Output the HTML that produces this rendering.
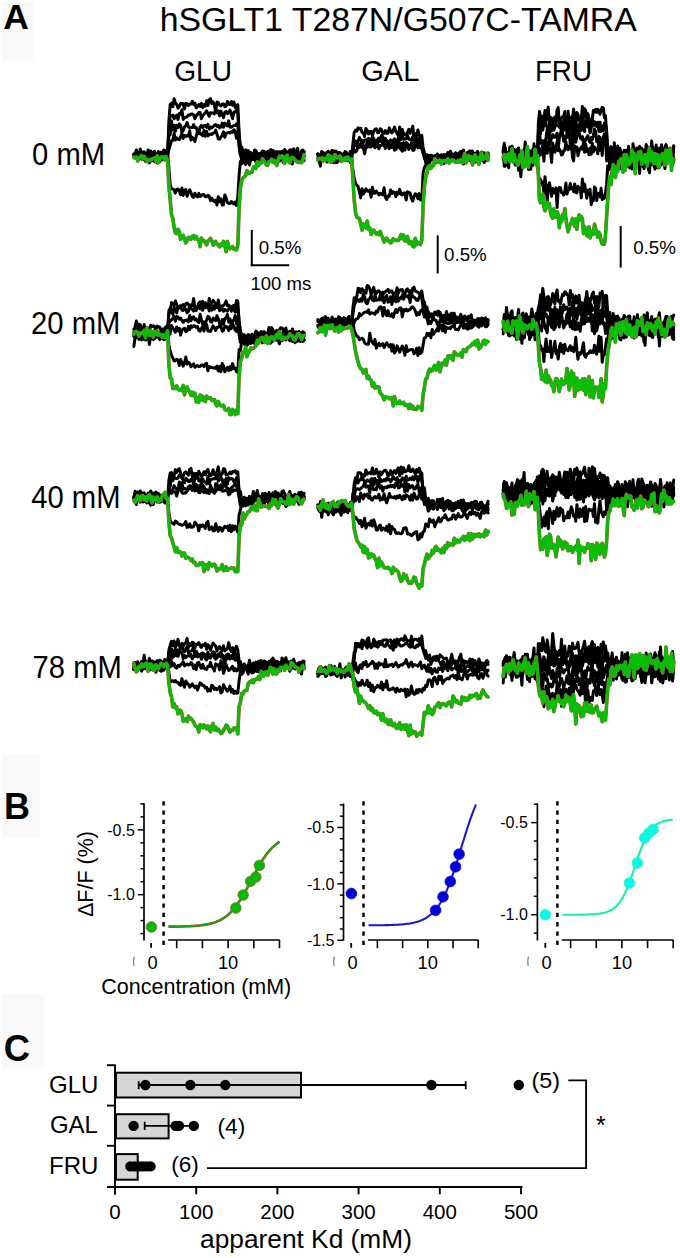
<!DOCTYPE html>
<html><head><meta charset="utf-8"><style>
html,body{margin:0;padding:0;background:#fff;}
svg{display:block;}
text{font-family:"Liberation Sans", sans-serif;fill:#000;}
</style></head><body>
<svg width="680" height="1258" viewBox="0 0 680 1258">
<rect x="2" y="1.8" width="31.5" height="58" fill="#f9f9f9"/>
<rect x="1.8" y="755" width="38" height="82" fill="#f9f9f9"/>
<rect x="1.8" y="994" width="42" height="74.8" fill="#f9f9f9"/>
<text x="3.20" y="28.80" font-size="35.4" font-weight="bold">A</text>
<text x="3.90" y="818.80" font-size="36" font-weight="bold">B</text>
<text x="3.85" y="1061.40" font-size="36.3" font-weight="bold">C</text>
<text x="159.70" y="30.60" font-size="33.8">hSGLT1 T287N/G507C-TAMRA</text>
<text transform="translate(174.20,81.00) scale(0.97,1)" font-size="29">GLU</text>
<text x="361.25" y="80.90" font-size="29">GAL</text>
<text transform="translate(534.90,81.00) scale(0.958,1)" font-size="29">FRU</text>
<text transform="translate(32.10,164.90) scale(1,1.05)" font-size="29.2">0 mM</text>
<text transform="translate(31.10,334.00) scale(1,1.05)" font-size="29.2">20 mM</text>
<text transform="translate(31.30,508.30) scale(1,1.05)" font-size="29.2">40 mM</text>
<text transform="translate(32.60,677.90) scale(1,1.05)" font-size="29.2">78 mM</text>
<line x1="251.80" y1="229.90" x2="251.80" y2="266.20" stroke="#000" stroke-width="2"/>
<line x1="250.80" y1="265.30" x2="289.20" y2="265.30" stroke="#000" stroke-width="2"/>
<text transform="translate(258.70,253.80) scale(1.04,1)" font-size="18">0.5%</text>
<text transform="translate(250.40,290.00) scale(1.03,1)" font-size="18">100 ms</text>
<line x1="437.70" y1="235.40" x2="437.70" y2="273.50" stroke="#000" stroke-width="2"/>
<text transform="translate(444.10,261.20) scale(1.04,1)" font-size="18">0.5%</text>
<line x1="620.70" y1="226.00" x2="620.70" y2="267.60" stroke="#000" stroke-width="2"/>
<text transform="translate(633.20,253.60) scale(1.04,1)" font-size="18">0.5%</text>
<g><polyline points="133.8,153.9 135.1,153.7 136.4,150.0 137.7,153.8 139.0,157.5 140.3,149.0 141.6,156.0 142.9,153.9 144.2,151.7 145.5,159.4 146.8,155.8 148.1,150.0 149.4,153.8 150.7,155.2 152.0,153.0 153.3,155.5 154.6,153.3 155.9,155.5 157.2,157.7 158.5,151.6 159.8,154.1 161.1,152.2 162.4,153.9 163.7,150.1 165.0,151.8 166.3,153.0 167.6,156.2 168.9,121.2 170.2,104.3 171.5,103.2 172.8,106.7 174.1,98.8 175.4,103.2 176.7,104.3 178.0,108.2 179.3,106.5 180.6,103.6 181.9,103.5 183.2,103.8 184.5,109.0 185.8,103.3 187.1,103.6 188.4,105.6 189.7,104.2 191.0,104.0 192.3,101.3 193.6,104.5 194.9,103.2 196.2,107.9 197.5,106.4 198.8,104.5 200.1,106.5 201.4,103.5 202.7,107.6 204.0,104.5 205.3,106.2 206.6,100.8 207.9,105.5 209.2,99.6 210.5,98.6 211.8,103.6 213.1,101.9 214.4,105.0 215.7,111.1 217.0,102.1 218.3,102.7 219.6,105.1 220.9,106.0 222.2,104.0 223.5,103.9 224.8,106.6 226.1,106.1 227.4,101.5 228.7,104.3 230.0,104.6 231.3,101.5 232.6,105.3 233.9,102.0 235.2,107.4 236.5,105.1 237.8,104.8 239.1,132.8 240.4,147.1 241.7,147.0 243.0,151.7 244.3,156.8 245.6,149.7 246.9,158.3 248.2,150.5 249.5,157.6 250.8,152.6 252.1,157.1 253.4,155.0 254.7,150.0 256.0,158.0 257.3,158.4 258.6,153.9 259.9,153.2 261.2,153.4 262.5,151.0 263.8,157.0 265.1,152.1 266.4,153.5 267.7,151.3 269.0,151.8 270.3,149.9 271.6,157.3 272.9,153.1 274.2,156.4 275.5,153.6 276.8,151.5 278.1,152.6 279.4,151.9 280.7,153.6 282.0,152.4 283.3,152.7 284.6,149.5 285.9,151.2 287.2,158.4 288.5,151.6 289.8,150.5 291.1,154.5 292.4,157.6 293.7,149.3 295.0,152.9 296.3,151.7 297.6,148.4 298.9,155.7 300.2,153.5 301.5,153.7 302.8,151.3 304.1,154.9" fill="none" stroke="#000" stroke-width="3.0" stroke-linejoin="round" stroke-linecap="round"/>
<polyline points="133.8,157.7 135.1,154.3 136.4,154.9 137.7,160.8 139.0,158.1 140.3,157.7 141.6,157.5 142.9,157.7 144.2,159.9 145.5,159.2 146.8,158.2 148.1,154.6 149.4,159.1 150.7,155.7 152.0,160.7 153.3,154.0 154.6,157.2 155.9,157.6 157.2,153.8 158.5,162.5 159.8,161.8 161.1,156.3 162.4,159.8 163.7,158.7 165.0,150.2 166.3,158.3 167.6,157.4 168.9,127.3 170.2,115.6 171.5,115.5 172.8,115.1 174.1,118.8 175.4,116.2 176.7,115.2 178.0,119.5 179.3,113.5 180.6,113.9 181.9,109.8 183.2,119.4 184.5,117.6 185.8,117.4 187.1,116.7 188.4,115.0 189.7,115.3 191.0,113.9 192.3,114.0 193.6,114.7 194.9,118.7 196.2,116.0 197.5,114.2 198.8,112.6 200.1,112.4 201.4,118.7 202.7,115.6 204.0,114.2 205.3,113.0 206.6,110.8 207.9,113.7 209.2,116.3 210.5,112.7 211.8,113.1 213.1,113.0 214.4,113.9 215.7,109.0 217.0,112.8 218.3,111.0 219.6,115.9 220.9,111.1 222.2,114.9 223.5,117.6 224.8,112.3 226.1,111.4 227.4,113.6 228.7,113.0 230.0,110.1 231.3,114.2 232.6,118.6 233.9,112.0 235.2,112.1 236.5,109.7 237.8,113.5 239.1,136.8 240.4,149.0 241.7,160.8 243.0,156.6 244.3,163.0 245.6,164.4 246.9,160.6 248.2,161.3 249.5,165.0 250.8,158.6 252.1,157.3 253.4,154.9 254.7,158.7 256.0,162.6 257.3,161.0 258.6,155.5 259.9,155.6 261.2,156.5 262.5,158.7 263.8,157.3 265.1,158.4 266.4,158.6 267.7,156.9 269.0,157.6 270.3,158.3 271.6,157.4 272.9,159.1 274.2,163.0 275.5,159.3 276.8,157.8 278.1,152.8 279.4,158.7 280.7,152.1 282.0,153.6 283.3,160.0 284.6,159.6 285.9,157.2 287.2,152.7 288.5,156.6 289.8,155.7 291.1,159.4 292.4,164.0 293.7,158.2 295.0,155.4 296.3,154.3 297.6,157.4 298.9,157.1 300.2,154.3 301.5,157.9 302.8,154.3 304.1,160.8" fill="none" stroke="#000" stroke-width="3.0" stroke-linejoin="round" stroke-linecap="round"/>
<polyline points="133.8,154.4 135.1,155.4 136.4,154.3 137.7,158.7 139.0,155.3 140.3,155.5 141.6,159.2 142.9,155.4 144.2,158.8 145.5,154.8 146.8,154.1 148.1,152.3 149.4,162.9 150.7,156.6 152.0,158.3 153.3,157.5 154.6,158.0 155.9,157.7 157.2,163.0 158.5,154.6 159.8,153.1 161.1,154.7 162.4,153.7 163.7,159.7 165.0,159.9 166.3,154.8 167.6,153.6 168.9,135.4 170.2,134.6 171.5,121.0 172.8,130.1 174.1,125.3 175.4,131.3 176.7,125.2 178.0,127.5 179.3,123.9 180.6,125.4 181.9,132.1 183.2,130.5 184.5,126.9 185.8,125.6 187.1,122.6 188.4,126.8 189.7,127.8 191.0,127.7 192.3,127.6 193.6,124.6 194.9,127.6 196.2,127.6 197.5,131.4 198.8,133.0 200.1,127.2 201.4,125.4 202.7,127.4 204.0,125.8 205.3,125.4 206.6,127.3 207.9,124.4 209.2,129.1 210.5,127.0 211.8,128.0 213.1,126.7 214.4,125.1 215.7,124.5 217.0,126.5 218.3,125.5 219.6,127.8 220.9,127.0 222.2,123.1 223.5,127.2 224.8,123.1 226.1,125.1 227.4,126.0 228.7,120.9 230.0,127.1 231.3,127.2 232.6,126.3 233.9,125.5 235.2,125.6 236.5,123.8 237.8,125.8 239.1,144.6 240.4,154.9 241.7,154.7 243.0,160.3 244.3,160.5 245.6,159.7 246.9,158.6 248.2,161.2 249.5,154.6 250.8,160.5 252.1,159.6 253.4,159.5 254.7,159.6 256.0,156.5 257.3,157.5 258.6,159.9 259.9,159.2 261.2,158.5 262.5,153.5 263.8,159.3 265.1,161.1 266.4,160.6 267.7,158.4 269.0,153.2 270.3,160.4 271.6,157.2 272.9,150.4 274.2,158.7 275.5,153.3 276.8,153.9 278.1,155.8 279.4,161.2 280.7,156.5 282.0,158.4 283.3,162.6 284.6,162.1 285.9,157.3 287.2,156.9 288.5,154.0 289.8,155.6 291.1,158.8 292.4,158.7 293.7,157.9 295.0,160.4 296.3,155.4 297.6,157.4 298.9,159.7 300.2,159.2 301.5,160.6 302.8,158.7 304.1,156.7" fill="none" stroke="#000" stroke-width="3.0" stroke-linejoin="round" stroke-linecap="round"/>
<polyline points="133.8,155.7 135.1,156.7 136.4,154.3 137.7,156.4 139.0,152.8 140.3,154.2 141.6,152.5 142.9,158.1 144.2,155.1 145.5,153.2 146.8,154.2 148.1,154.6 149.4,156.9 150.7,151.0 152.0,152.4 153.3,154.2 154.6,161.7 155.9,157.6 157.2,154.8 158.5,157.0 159.8,160.5 161.1,154.5 162.4,154.2 163.7,158.3 165.0,156.4 166.3,156.9 167.6,153.8 168.9,149.5 170.2,145.2 171.5,140.8 172.8,140.6 174.1,133.3 175.4,140.0 176.7,137.7 178.0,139.2 179.3,139.7 180.6,137.0 181.9,133.3 183.2,138.5 184.5,135.5 185.8,136.5 187.1,135.6 188.4,136.2 189.7,130.9 191.0,140.0 192.3,137.3 193.6,139.4 194.9,141.5 196.2,136.3 197.5,131.5 198.8,133.7 200.1,132.8 201.4,134.5 202.7,135.8 204.0,130.3 205.3,136.3 206.6,131.3 207.9,135.9 209.2,134.7 210.5,134.0 211.8,134.5 213.1,133.2 214.4,132.9 215.7,130.0 217.0,134.1 218.3,138.9 219.6,139.1 220.9,137.2 222.2,135.5 223.5,131.8 224.8,137.2 226.1,133.2 227.4,133.0 228.7,132.3 230.0,133.1 231.3,131.7 232.6,132.4 233.9,129.7 235.2,131.4 236.5,138.2 237.8,132.0 239.1,146.5 240.4,155.0 241.7,158.2 243.0,154.5 244.3,157.2 245.6,160.1 246.9,158.2 248.2,157.5 249.5,161.0 250.8,154.9 252.1,156.7 253.4,154.9 254.7,159.9 256.0,150.8 257.3,154.0 258.6,154.3 259.9,157.3 261.2,157.1 262.5,159.0 263.8,151.3 265.1,157.3 266.4,154.5 267.7,153.5 269.0,156.6 270.3,152.8 271.6,149.8 272.9,154.2 274.2,151.3 275.5,153.5 276.8,156.1 278.1,156.0 279.4,159.3 280.7,154.6 282.0,151.2 283.3,153.2 284.6,152.8 285.9,152.0 287.2,156.3 288.5,153.5 289.8,150.0 291.1,156.9 292.4,154.8 293.7,156.1 295.0,155.4 296.3,156.8 297.6,155.2 298.9,158.3 300.2,156.2 301.5,156.1 302.8,156.2 304.1,151.4" fill="none" stroke="#000" stroke-width="3.0" stroke-linejoin="round" stroke-linecap="round"/>
<polyline points="133.8,154.9 135.1,157.4 136.4,152.3 137.7,154.3 139.0,156.8 140.3,152.0 141.6,155.5 142.9,152.0 144.2,158.1 145.5,161.4 146.8,160.6 148.1,154.3 149.4,157.0 150.7,155.3 152.0,155.2 153.3,159.2 154.6,151.3 155.9,157.9 157.2,154.8 158.5,158.9 159.8,155.5 161.1,153.1 162.4,155.7 163.7,157.0 165.0,155.1 166.3,156.3 167.6,153.5 168.9,168.1 170.2,185.2 171.5,188.6 172.8,189.0 174.1,189.8 175.4,193.1 176.7,189.4 178.0,189.0 179.3,190.7 180.6,194.8 181.9,188.0 183.2,195.4 184.5,190.5 185.8,189.5 187.1,196.3 188.4,192.8 189.7,189.8 191.0,192.6 192.3,196.5 193.6,197.4 194.9,193.2 196.2,195.8 197.5,196.9 198.8,193.4 200.1,196.4 201.4,195.6 202.7,194.5 204.0,194.8 205.3,196.7 206.6,196.8 207.9,195.4 209.2,196.1 210.5,200.6 211.8,198.4 213.1,200.5 214.4,201.6 215.7,200.2 217.0,205.1 218.3,196.8 219.6,201.6 220.9,198.7 222.2,205.0 223.5,204.8 224.8,194.9 226.1,197.9 227.4,202.7 228.7,203.3 230.0,203.4 231.3,201.5 232.6,203.2 233.9,204.0 235.2,202.2 236.5,205.5 237.8,196.7 239.1,175.1 240.4,161.4 241.7,163.6 243.0,158.7 244.3,155.9 245.6,158.7 246.9,154.6 248.2,154.2 249.5,152.0 250.8,156.0 252.1,157.3 253.4,158.5 254.7,155.2 256.0,158.3 257.3,155.4 258.6,155.0 259.9,156.8 261.2,158.1 262.5,154.2 263.8,154.4 265.1,154.6 266.4,155.3 267.7,152.5 269.0,157.9 270.3,153.9 271.6,156.3 272.9,152.7 274.2,156.0 275.5,156.1 276.8,153.8 278.1,160.6 279.4,156.0 280.7,159.9 282.0,157.6 283.3,153.1 284.6,153.9 285.9,156.2 287.2,155.1 288.5,155.1 289.8,154.2 291.1,149.9 292.4,154.3 293.7,148.8 295.0,156.0 296.3,152.9 297.6,153.0 298.9,154.3 300.2,155.7 301.5,151.0 302.8,150.1 304.1,152.0" fill="none" stroke="#000" stroke-width="3.0" stroke-linejoin="round" stroke-linecap="round"/>
<polyline points="133.8,157.3 135.1,158.2 136.4,157.3 137.7,160.9 139.0,157.7 140.3,157.6 141.6,155.5 142.9,158.7 144.2,156.4 145.5,158.3 146.8,161.7 148.1,159.9 149.4,160.2 150.7,159.8 152.0,159.0 153.3,158.5 154.6,158.0 155.9,161.0 157.2,155.8 158.5,162.6 159.8,158.9 161.1,156.8 162.4,157.5 163.7,157.0 165.0,159.3 166.3,156.8 167.6,162.0 168.9,186.2 170.2,199.9 171.5,214.9 172.8,217.9 174.1,227.5 175.4,233.1 176.7,233.6 178.0,229.3 179.3,231.7 180.6,239.4 181.9,235.8 183.2,235.4 184.5,238.8 185.8,243.0 187.1,240.2 188.4,237.3 189.7,238.3 191.0,239.4 192.3,236.3 193.6,235.4 194.9,238.9 196.2,236.4 197.5,239.3 198.8,240.1 200.1,246.6 201.4,238.1 202.7,240.5 204.0,240.7 205.3,242.8 206.6,244.8 207.9,240.9 209.2,240.3 210.5,238.4 211.8,240.7 213.1,245.1 214.4,244.1 215.7,241.5 217.0,243.7 218.3,245.2 219.6,246.8 220.9,244.1 222.2,245.4 223.5,241.4 224.8,243.6 226.1,251.7 227.4,241.4 228.7,246.9 230.0,248.8 231.3,247.5 232.6,246.7 233.9,249.1 235.2,249.6 236.5,249.8 237.8,245.1 239.1,208.2 240.4,187.9 241.7,180.2 243.0,178.1 244.3,176.7 245.6,175.8 246.9,170.6 248.2,173.5 249.5,173.2 250.8,172.2 252.1,172.1 253.4,167.1 254.7,166.4 256.0,168.5 257.3,161.8 258.6,165.7 259.9,163.1 261.2,163.1 262.5,158.9 263.8,160.8 265.1,162.9 266.4,165.1 267.7,165.1 269.0,161.8 270.3,161.2 271.6,159.2 272.9,162.4 274.2,160.4 275.5,162.5 276.8,165.5 278.1,160.4 279.4,156.2 280.7,157.8 282.0,156.0 283.3,156.6 284.6,163.4 285.9,160.3 287.2,155.4 288.5,161.3 289.8,162.9 291.1,158.3 292.4,157.4 293.7,158.3 295.0,159.9 296.3,160.9 297.6,162.3 298.9,162.3 300.2,162.2 301.5,162.7 302.8,160.7 304.1,154.6" fill="none" stroke="#d04838" stroke-width="3.7" stroke-linejoin="round" stroke-linecap="round"/>
<polyline points="133.8,157.3 135.1,158.2 136.4,157.3 137.7,160.9 139.0,157.7 140.3,157.6 141.6,155.5 142.9,158.7 144.2,156.4 145.5,158.3 146.8,161.7 148.1,159.9 149.4,160.2 150.7,159.8 152.0,159.0 153.3,158.5 154.6,158.0 155.9,161.0 157.2,155.8 158.5,162.6 159.8,158.9 161.1,156.8 162.4,157.5 163.7,157.0 165.0,159.3 166.3,156.8 167.6,162.0 168.9,186.2 170.2,199.9 171.5,214.9 172.8,217.9 174.1,227.5 175.4,233.1 176.7,233.6 178.0,229.3 179.3,231.7 180.6,239.4 181.9,235.8 183.2,235.4 184.5,238.8 185.8,243.0 187.1,240.2 188.4,237.3 189.7,238.3 191.0,239.4 192.3,236.3 193.6,235.4 194.9,238.9 196.2,236.4 197.5,239.3 198.8,240.1 200.1,246.6 201.4,238.1 202.7,240.5 204.0,240.7 205.3,242.8 206.6,244.8 207.9,240.9 209.2,240.3 210.5,238.4 211.8,240.7 213.1,245.1 214.4,244.1 215.7,241.5 217.0,243.7 218.3,245.2 219.6,246.8 220.9,244.1 222.2,245.4 223.5,241.4 224.8,243.6 226.1,251.7 227.4,241.4 228.7,246.9 230.0,248.8 231.3,247.5 232.6,246.7 233.9,249.1 235.2,249.6 236.5,249.8 237.8,245.1 239.1,208.2 240.4,187.9 241.7,180.2 243.0,178.1 244.3,176.7 245.6,175.8 246.9,170.6 248.2,173.5 249.5,173.2 250.8,172.2 252.1,172.1 253.4,167.1 254.7,166.4 256.0,168.5 257.3,161.8 258.6,165.7 259.9,163.1 261.2,163.1 262.5,158.9 263.8,160.8 265.1,162.9 266.4,165.1 267.7,165.1 269.0,161.8 270.3,161.2 271.6,159.2 272.9,162.4 274.2,160.4 275.5,162.5 276.8,165.5 278.1,160.4 279.4,156.2 280.7,157.8 282.0,156.0 283.3,156.6 284.6,163.4 285.9,160.3 287.2,155.4 288.5,161.3 289.8,162.9 291.1,158.3 292.4,157.4 293.7,158.3 295.0,159.9 296.3,160.9 297.6,162.3 298.9,162.3 300.2,162.2 301.5,162.7 302.8,160.7 304.1,154.6" fill="none" stroke="#06be06" stroke-width="3.0" stroke-linejoin="round" stroke-linecap="round"/>
<polyline points="317.8,154.7 319.1,157.0 320.4,160.0 321.7,157.1 323.0,157.0 324.3,153.2 325.6,159.7 326.9,160.6 328.2,156.5 329.5,155.9 330.8,152.8 332.1,158.5 333.4,162.6 334.7,158.1 336.0,159.3 337.3,157.7 338.6,154.2 339.9,159.5 341.2,153.6 342.5,156.0 343.8,157.1 345.1,158.5 346.4,157.4 347.7,157.3 349.0,154.7 350.3,153.5 351.6,156.6 352.9,143.8 354.2,132.6 355.5,130.1 356.8,131.1 358.1,127.8 359.4,128.9 360.7,128.2 362.0,132.4 363.3,132.9 364.6,136.5 365.9,128.5 367.2,130.4 368.5,134.0 369.8,131.5 371.1,131.2 372.4,135.8 373.7,131.2 375.0,129.3 376.3,128.9 377.6,132.7 378.9,132.6 380.2,128.8 381.5,129.7 382.8,133.2 384.1,133.3 385.4,130.5 386.7,133.4 388.0,133.2 389.3,127.9 390.6,131.2 391.9,132.9 393.2,130.6 394.5,127.1 395.8,131.3 397.1,133.7 398.4,135.5 399.7,127.0 401.0,137.9 402.3,129.4 403.6,134.1 404.9,134.8 406.2,134.2 407.5,132.3 408.8,129.3 410.1,133.4 411.4,130.3 412.7,126.2 414.0,138.4 415.3,133.6 416.6,136.1 417.9,129.9 419.2,135.3 420.5,135.6 421.8,135.5 423.1,148.0 424.4,152.4 425.7,157.9 427.0,154.6 428.3,156.2 429.6,160.4 430.9,157.8 432.2,159.4 433.5,159.2 434.8,163.5 436.1,161.8 437.4,158.4 438.7,161.0 440.0,156.3 441.3,157.1 442.6,159.7 443.9,154.6 445.2,156.7 446.5,154.2 447.8,157.3 449.1,160.7 450.4,155.2 451.7,157.3 453.0,154.7 454.3,154.1 455.6,153.9 456.9,159.9 458.2,162.0 459.5,157.7 460.8,154.9 462.1,158.1 463.4,155.8 464.7,158.3 466.0,157.2 467.3,157.1 468.6,157.9 469.9,155.2 471.2,155.6 472.5,152.5 473.8,155.5 475.1,153.2 476.4,156.1 477.7,154.3 479.0,156.7 480.3,157.5 481.6,153.2 482.9,154.6 484.2,154.3 485.5,158.2 486.8,160.3 488.1,158.4" fill="none" stroke="#000" stroke-width="3.0" stroke-linejoin="round" stroke-linecap="round"/>
<polyline points="317.8,153.9 319.1,160.3 320.4,166.2 321.7,153.4 323.0,161.0 324.3,159.3 325.6,158.1 326.9,162.0 328.2,155.2 329.5,158.8 330.8,162.3 332.1,157.8 333.4,157.2 334.7,158.7 336.0,157.2 337.3,162.5 338.6,155.9 339.9,160.7 341.2,155.0 342.5,160.2 343.8,158.1 345.1,151.4 346.4,158.3 347.7,155.5 349.0,157.2 350.3,162.5 351.6,155.4 352.9,147.2 354.2,146.5 355.5,140.9 356.8,144.2 358.1,140.8 359.4,137.5 360.7,139.7 362.0,143.2 363.3,142.4 364.6,139.9 365.9,140.0 367.2,139.6 368.5,138.3 369.8,145.0 371.1,139.9 372.4,136.8 373.7,138.6 375.0,141.8 376.3,141.6 377.6,139.5 378.9,138.1 380.2,139.9 381.5,135.4 382.8,136.4 384.1,142.0 385.4,138.6 386.7,140.9 388.0,143.1 389.3,141.6 390.6,139.9 391.9,145.6 393.2,141.6 394.5,138.9 395.8,141.8 397.1,141.0 398.4,137.6 399.7,140.1 401.0,139.4 402.3,134.6 403.6,139.4 404.9,139.1 406.2,138.7 407.5,135.4 408.8,138.9 410.1,139.8 411.4,140.1 412.7,136.8 414.0,141.6 415.3,136.6 416.6,139.3 417.9,143.4 419.2,138.0 420.5,138.5 421.8,142.7 423.1,151.4 424.4,157.3 425.7,161.3 427.0,164.6 428.3,156.2 429.6,159.9 430.9,159.2 432.2,158.8 433.5,159.1 434.8,158.8 436.1,161.6 437.4,158.1 438.7,160.5 440.0,161.0 441.3,157.8 442.6,159.9 443.9,163.7 445.2,160.1 446.5,157.4 447.8,158.8 449.1,156.4 450.4,159.5 451.7,161.0 453.0,156.5 454.3,158.1 455.6,161.5 456.9,157.2 458.2,159.0 459.5,155.8 460.8,156.3 462.1,157.1 463.4,164.1 464.7,157.4 466.0,157.0 467.3,156.9 468.6,158.0 469.9,160.1 471.2,158.9 472.5,163.7 473.8,158.9 475.1,162.1 476.4,159.1 477.7,159.9 479.0,154.6 480.3,158.0 481.6,158.2 482.9,157.7 484.2,152.7 485.5,160.7 486.8,157.3 488.1,157.2" fill="none" stroke="#000" stroke-width="3.0" stroke-linejoin="round" stroke-linecap="round"/>
<polyline points="317.8,160.0 319.1,161.4 320.4,155.2 321.7,152.5 323.0,160.0 324.3,159.8 325.6,159.1 326.9,160.0 328.2,154.8 329.5,156.6 330.8,153.4 332.1,153.3 333.4,159.5 334.7,155.3 336.0,162.8 337.3,157.2 338.6,155.3 339.9,159.0 341.2,161.6 342.5,158.2 343.8,153.9 345.1,157.9 346.4,160.5 347.7,155.7 349.0,155.0 350.3,159.6 351.6,157.3 352.9,148.5 354.2,145.4 355.5,143.1 356.8,145.4 358.1,144.8 359.4,147.5 360.7,146.3 362.0,140.5 363.3,145.5 364.6,146.8 365.9,145.7 367.2,147.1 368.5,143.1 369.8,142.0 371.1,146.9 372.4,141.7 373.7,138.9 375.0,147.1 376.3,142.6 377.6,143.7 378.9,140.9 380.2,141.1 381.5,141.5 382.8,143.6 384.1,145.4 385.4,138.6 386.7,146.4 388.0,141.4 389.3,141.7 390.6,146.2 391.9,144.3 393.2,140.5 394.5,149.2 395.8,142.3 397.1,145.1 398.4,145.0 399.7,148.1 401.0,143.3 402.3,147.1 403.6,142.6 404.9,147.4 406.2,142.5 407.5,143.6 408.8,149.4 410.1,145.3 411.4,144.8 412.7,150.2 414.0,145.4 415.3,142.4 416.6,146.4 417.9,141.4 419.2,147.4 420.5,147.6 421.8,143.0 423.1,152.0 424.4,158.3 425.7,159.8 427.0,158.0 428.3,162.3 429.6,155.5 430.9,159.5 432.2,159.3 433.5,159.3 434.8,160.5 436.1,156.2 437.4,160.6 438.7,158.4 440.0,156.9 441.3,154.8 442.6,155.1 443.9,158.9 445.2,155.4 446.5,157.9 447.8,160.3 449.1,160.2 450.4,161.4 451.7,156.6 453.0,154.5 454.3,159.9 455.6,158.0 456.9,160.1 458.2,157.2 459.5,160.2 460.8,159.3 462.1,158.9 463.4,158.4 464.7,158.1 466.0,157.6 467.3,157.6 468.6,159.6 469.9,155.7 471.2,161.5 472.5,156.7 473.8,159.5 475.1,156.8 476.4,156.4 477.7,162.2 479.0,156.2 480.3,153.7 481.6,155.2 482.9,156.2 484.2,162.5 485.5,157.5 486.8,159.4 488.1,154.4" fill="none" stroke="#000" stroke-width="3.0" stroke-linejoin="round" stroke-linecap="round"/>
<polyline points="317.8,153.9 319.1,156.8 320.4,157.4 321.7,151.5 323.0,152.3 324.3,158.3 325.6,157.9 326.9,152.4 328.2,151.3 329.5,152.7 330.8,153.0 332.1,150.3 333.4,154.4 334.7,151.1 336.0,151.2 337.3,156.7 338.6,152.6 339.9,154.1 341.2,155.9 342.5,156.4 343.8,153.5 345.1,154.4 346.4,152.2 347.7,158.8 349.0,156.0 350.3,151.5 351.6,154.3 352.9,153.2 354.2,149.6 355.5,152.0 356.8,150.5 358.1,145.5 359.4,146.6 360.7,143.6 362.0,147.5 363.3,147.2 364.6,153.7 365.9,147.1 367.2,141.5 368.5,145.1 369.8,147.1 371.1,143.6 372.4,144.6 373.7,145.9 375.0,147.7 376.3,146.4 377.6,144.6 378.9,148.8 380.2,145.4 381.5,145.5 382.8,143.3 384.1,144.8 385.4,148.5 386.7,142.7 388.0,146.6 389.3,148.6 390.6,145.9 391.9,147.4 393.2,144.0 394.5,150.2 395.8,149.6 397.1,147.4 398.4,142.3 399.7,144.2 401.0,149.3 402.3,151.2 403.6,147.6 404.9,150.0 406.2,145.3 407.5,146.3 408.8,146.8 410.1,147.9 411.4,142.9 412.7,149.2 414.0,150.2 415.3,143.9 416.6,143.4 417.9,147.7 419.2,145.2 420.5,140.8 421.8,148.9 423.1,153.5 424.4,154.8 425.7,162.8 427.0,158.4 428.3,156.3 429.6,158.4 430.9,155.3 432.2,155.7 433.5,158.3 434.8,155.6 436.1,155.6 437.4,160.7 438.7,158.3 440.0,158.0 441.3,157.0 442.6,156.7 443.9,159.0 445.2,155.1 446.5,159.8 447.8,152.5 449.1,154.2 450.4,151.2 451.7,153.8 453.0,156.0 454.3,158.3 455.6,152.8 456.9,154.5 458.2,153.6 459.5,152.6 460.8,151.4 462.1,154.6 463.4,150.0 464.7,154.7 466.0,154.4 467.3,152.7 468.6,151.8 469.9,150.8 471.2,159.1 472.5,150.9 473.8,158.3 475.1,155.9 476.4,153.4 477.7,151.4 479.0,157.0 480.3,158.7 481.6,151.9 482.9,153.6 484.2,157.0 485.5,155.2 486.8,159.4 488.1,152.9" fill="none" stroke="#000" stroke-width="3.0" stroke-linejoin="round" stroke-linecap="round"/>
<polyline points="317.8,157.8 319.1,156.4 320.4,155.2 321.7,155.0 323.0,154.1 324.3,155.7 325.6,157.1 326.9,156.6 328.2,153.4 329.5,156.4 330.8,154.7 332.1,157.5 333.4,162.0 334.7,158.7 336.0,156.3 337.3,152.8 338.6,153.4 339.9,152.6 341.2,159.0 342.5,155.1 343.8,157.3 345.1,155.4 346.4,157.3 347.7,160.8 349.0,155.3 350.3,156.2 351.6,155.0 352.9,169.9 354.2,177.8 355.5,183.3 356.8,185.3 358.1,186.4 359.4,192.0 360.7,197.9 362.0,188.7 363.3,194.0 364.6,192.2 365.9,188.8 367.2,191.1 368.5,191.3 369.8,190.2 371.1,197.2 372.4,187.2 373.7,193.3 375.0,193.3 376.3,191.0 377.6,193.0 378.9,195.0 380.2,193.2 381.5,194.0 382.8,194.9 384.1,187.8 385.4,197.2 386.7,199.4 388.0,196.1 389.3,196.2 390.6,190.0 391.9,193.5 393.2,191.7 394.5,192.4 395.8,196.6 397.1,192.1 398.4,194.0 399.7,189.4 401.0,194.1 402.3,194.9 403.6,192.9 404.9,192.9 406.2,199.9 407.5,191.8 408.8,192.4 410.1,193.1 411.4,198.5 412.7,201.0 414.0,196.4 415.3,193.8 416.6,194.6 417.9,198.7 419.2,193.6 420.5,199.9 421.8,199.9 423.1,173.2 424.4,167.5 425.7,165.1 427.0,165.9 428.3,158.1 429.6,163.3 430.9,158.7 432.2,157.2 433.5,159.1 434.8,158.0 436.1,155.7 437.4,153.9 438.7,155.5 440.0,161.6 441.3,162.9 442.6,159.3 443.9,160.6 445.2,156.1 446.5,157.2 447.8,158.1 449.1,154.4 450.4,154.6 451.7,157.5 453.0,156.4 454.3,154.4 455.6,158.2 456.9,156.5 458.2,159.8 459.5,157.1 460.8,156.3 462.1,157.5 463.4,156.7 464.7,155.3 466.0,156.0 467.3,159.1 468.6,158.8 469.9,160.5 471.2,152.6 472.5,156.1 473.8,156.0 475.1,157.5 476.4,155.9 477.7,155.7 479.0,159.2 480.3,157.6 481.6,154.0 482.9,160.6 484.2,159.7 485.5,155.6 486.8,159.3 488.1,155.2" fill="none" stroke="#000" stroke-width="3.0" stroke-linejoin="round" stroke-linecap="round"/>
<polyline points="317.8,159.8 319.1,158.3 320.4,158.8 321.7,157.9 323.0,161.3 324.3,158.4 325.6,159.9 326.9,158.0 328.2,155.0 329.5,161.6 330.8,156.2 332.1,161.0 333.4,160.3 334.7,154.6 336.0,156.5 337.3,157.7 338.6,156.9 339.9,155.9 341.2,161.1 342.5,158.5 343.8,160.2 345.1,157.9 346.4,159.9 347.7,157.1 349.0,159.0 350.3,160.7 351.6,159.2 352.9,178.7 354.2,199.8 355.5,212.4 356.8,217.2 358.1,218.0 359.4,218.4 360.7,223.6 362.0,230.2 363.3,223.9 364.6,226.8 365.9,228.0 367.2,221.0 368.5,229.3 369.8,227.9 371.1,234.5 372.4,230.8 373.7,230.1 375.0,232.3 376.3,234.0 377.6,232.6 378.9,234.6 380.2,231.5 381.5,235.1 382.8,238.3 384.1,242.0 385.4,239.0 386.7,238.2 388.0,241.0 389.3,240.9 390.6,243.0 391.9,241.7 393.2,238.7 394.5,240.0 395.8,240.0 397.1,240.6 398.4,240.5 399.7,238.0 401.0,234.6 402.3,238.7 403.6,235.1 404.9,241.0 406.2,241.0 407.5,236.5 408.8,243.1 410.1,243.7 411.4,241.7 412.7,246.1 414.0,246.8 415.3,238.4 416.6,244.7 417.9,243.1 419.2,243.1 420.5,244.6 421.8,240.1 423.1,205.4 424.4,186.7 425.7,177.2 427.0,173.6 428.3,166.6 429.6,165.5 430.9,168.4 432.2,165.4 433.5,165.7 434.8,158.7 436.1,161.1 437.4,161.1 438.7,162.3 440.0,160.2 441.3,164.0 442.6,160.9 443.9,160.9 445.2,160.6 446.5,162.3 447.8,158.9 449.1,163.1 450.4,161.2 451.7,160.3 453.0,159.8 454.3,161.1 455.6,162.4 456.9,162.1 458.2,160.5 459.5,161.8 460.8,159.7 462.1,162.8 463.4,159.2 464.7,153.6 466.0,162.9 467.3,159.5 468.6,156.0 469.9,158.7 471.2,156.8 472.5,164.9 473.8,160.5 475.1,154.9 476.4,160.6 477.7,158.1 479.0,164.4 480.3,156.3 481.6,153.0 482.9,159.3 484.2,158.2 485.5,158.0 486.8,153.3 488.1,160.3" fill="none" stroke="#d04838" stroke-width="3.7" stroke-linejoin="round" stroke-linecap="round"/>
<polyline points="317.8,159.8 319.1,158.3 320.4,158.8 321.7,157.9 323.0,161.3 324.3,158.4 325.6,159.9 326.9,158.0 328.2,155.0 329.5,161.6 330.8,156.2 332.1,161.0 333.4,160.3 334.7,154.6 336.0,156.5 337.3,157.7 338.6,156.9 339.9,155.9 341.2,161.1 342.5,158.5 343.8,160.2 345.1,157.9 346.4,159.9 347.7,157.1 349.0,159.0 350.3,160.7 351.6,159.2 352.9,178.7 354.2,199.8 355.5,212.4 356.8,217.2 358.1,218.0 359.4,218.4 360.7,223.6 362.0,230.2 363.3,223.9 364.6,226.8 365.9,228.0 367.2,221.0 368.5,229.3 369.8,227.9 371.1,234.5 372.4,230.8 373.7,230.1 375.0,232.3 376.3,234.0 377.6,232.6 378.9,234.6 380.2,231.5 381.5,235.1 382.8,238.3 384.1,242.0 385.4,239.0 386.7,238.2 388.0,241.0 389.3,240.9 390.6,243.0 391.9,241.7 393.2,238.7 394.5,240.0 395.8,240.0 397.1,240.6 398.4,240.5 399.7,238.0 401.0,234.6 402.3,238.7 403.6,235.1 404.9,241.0 406.2,241.0 407.5,236.5 408.8,243.1 410.1,243.7 411.4,241.7 412.7,246.1 414.0,246.8 415.3,238.4 416.6,244.7 417.9,243.1 419.2,243.1 420.5,244.6 421.8,240.1 423.1,205.4 424.4,186.7 425.7,177.2 427.0,173.6 428.3,166.6 429.6,165.5 430.9,168.4 432.2,165.4 433.5,165.7 434.8,158.7 436.1,161.1 437.4,161.1 438.7,162.3 440.0,160.2 441.3,164.0 442.6,160.9 443.9,160.9 445.2,160.6 446.5,162.3 447.8,158.9 449.1,163.1 450.4,161.2 451.7,160.3 453.0,159.8 454.3,161.1 455.6,162.4 456.9,162.1 458.2,160.5 459.5,161.8 460.8,159.7 462.1,162.8 463.4,159.2 464.7,153.6 466.0,162.9 467.3,159.5 468.6,156.0 469.9,158.7 471.2,156.8 472.5,164.9 473.8,160.5 475.1,154.9 476.4,160.6 477.7,158.1 479.0,164.4 480.3,156.3 481.6,153.0 482.9,159.3 484.2,158.2 485.5,158.0 486.8,153.3 488.1,160.3" fill="none" stroke="#06be06" stroke-width="3.0" stroke-linejoin="round" stroke-linecap="round"/>
<polyline points="503.2,150.4 504.3,166.3 505.4,148.1 506.5,157.8 507.6,159.9 508.7,160.1 509.8,149.7 510.9,154.7 512.0,157.3 513.1,161.0 514.2,152.9 515.3,150.1 516.4,162.1 517.5,162.7 518.6,158.6 519.7,153.2 520.8,158.8 521.9,157.1 523.0,161.2 524.1,149.6 525.2,157.2 526.3,155.6 527.4,150.4 528.5,157.7 529.6,156.7 530.7,154.3 531.8,158.7 532.9,148.7 534.0,156.2 535.1,158.9 536.2,158.1 537.3,162.5 538.4,122.4 539.5,111.5 540.6,118.2 541.7,118.4 542.8,127.3 543.9,118.8 545.0,110.5 546.1,119.8 547.2,110.6 548.3,107.1 549.4,129.8 550.5,117.2 551.6,119.3 552.7,118.5 553.8,125.4 554.9,116.9 556.0,122.1 557.1,109.6 558.2,107.6 559.3,123.2 560.4,123.5 561.5,118.2 562.6,116.6 563.7,116.2 564.8,111.5 565.9,123.9 567.0,119.0 568.1,118.1 569.2,117.4 570.3,121.1 571.4,118.1 572.5,119.5 573.6,108.9 574.7,118.2 575.8,127.5 576.9,112.5 578.0,114.6 579.1,120.3 580.2,120.6 581.3,118.8 582.4,106.4 583.5,118.1 584.6,108.8 585.7,110.8 586.8,118.4 587.9,113.7 589.0,119.8 590.1,132.8 591.2,119.7 592.3,119.3 593.4,110.4 594.5,111.8 595.6,109.4 596.7,112.4 597.8,109.3 598.9,111.7 600.0,114.2 601.1,109.8 602.2,107.4 603.3,107.8 604.4,117.8 605.5,115.7 606.6,134.6 607.7,149.1 608.8,148.3 609.9,157.2 611.0,147.1 612.1,168.5 613.2,162.8 614.3,155.2 615.4,150.0 616.5,158.6 617.6,146.1 618.7,152.2 619.8,160.7 620.9,156.9 622.0,153.8 623.1,161.8 624.2,150.8 625.3,158.1 626.4,153.8 627.5,151.8 628.6,159.1 629.7,151.0 630.8,167.1 631.9,153.3 633.0,167.5 634.1,150.5 635.2,159.9 636.3,149.9 637.4,149.1 638.5,157.4 639.6,160.3 640.7,149.5 641.8,163.1 642.9,152.1 644.0,157.3 645.1,158.6 646.2,159.8 647.3,146.6 648.4,165.5 649.5,159.6 650.6,154.2 651.7,150.8 652.8,147.1 653.9,149.0 655.0,159.5 656.1,154.6 657.2,150.2 658.3,153.6 659.4,165.2 660.5,154.7 661.6,153.3 662.7,164.0 663.8,159.1 664.9,156.8 666.0,153.1 667.1,147.9 668.2,150.0 669.3,153.9 670.4,155.3 671.5,158.5 672.6,159.6 673.7,157.8" fill="none" stroke="#000" stroke-width="3.0" stroke-linejoin="round" stroke-linecap="round"/>
<polyline points="503.2,150.8 504.3,156.9 505.4,156.1 506.5,163.5 507.6,153.8 508.7,163.1 509.8,158.7 510.9,157.3 512.0,146.2 513.1,150.2 514.2,161.4 515.3,165.0 516.4,158.4 517.5,161.5 518.6,155.0 519.7,155.2 520.8,153.6 521.9,162.7 523.0,159.2 524.1,156.0 525.2,155.5 526.3,160.4 527.4,159.1 528.5,152.7 529.6,166.7 530.7,158.7 531.8,157.4 532.9,165.4 534.0,162.9 535.1,156.8 536.2,160.2 537.3,151.4 538.4,132.9 539.5,117.1 540.6,133.9 541.7,116.0 542.8,130.0 543.9,121.6 545.0,120.7 546.1,125.0 547.2,127.6 548.3,129.5 549.4,135.9 550.5,128.1 551.6,130.9 552.7,122.8 553.8,130.0 554.9,126.9 556.0,123.5 557.1,125.6 558.2,125.7 559.3,127.1 560.4,128.3 561.5,123.3 562.6,122.0 563.7,130.2 564.8,116.7 565.9,122.7 567.0,134.6 568.1,111.2 569.2,122.3 570.3,129.9 571.4,117.0 572.5,140.4 573.6,111.8 574.7,134.0 575.8,134.7 576.9,131.1 578.0,124.9 579.1,128.1 580.2,121.2 581.3,130.5 582.4,119.9 583.5,124.6 584.6,131.6 585.7,120.0 586.8,124.1 587.9,127.0 589.0,118.7 590.1,132.5 591.2,128.0 592.3,117.7 593.4,125.8 594.5,121.8 595.6,122.5 596.7,126.5 597.8,122.2 598.9,131.4 600.0,122.2 601.1,131.5 602.2,125.9 603.3,130.8 604.4,123.1 605.5,123.3 606.6,130.0 607.7,150.4 608.8,157.7 609.9,166.7 611.0,163.3 612.1,158.1 613.2,155.9 614.3,159.3 615.4,157.1 616.5,165.3 617.6,162.5 618.7,152.7 619.8,153.5 620.9,164.8 622.0,159.0 623.1,156.0 624.2,163.8 625.3,155.2 626.4,155.7 627.5,154.7 628.6,146.5 629.7,162.0 630.8,150.6 631.9,154.1 633.0,153.2 634.1,161.3 635.2,156.9 636.3,157.4 637.4,148.0 638.5,156.8 639.6,149.2 640.7,159.0 641.8,159.3 642.9,157.2 644.0,168.6 645.1,160.2 646.2,160.6 647.3,158.1 648.4,156.2 649.5,162.6 650.6,163.4 651.7,150.1 652.8,163.1 653.9,160.1 655.0,162.6 656.1,159.9 657.2,150.4 658.3,150.8 659.4,167.3 660.5,158.7 661.6,149.5 662.7,159.2 663.8,155.3 664.9,147.1 666.0,144.6 667.1,148.4 668.2,158.8 669.3,157.0 670.4,155.9 671.5,158.9 672.6,160.6 673.7,145.7" fill="none" stroke="#000" stroke-width="3.0" stroke-linejoin="round" stroke-linecap="round"/>
<polyline points="503.2,159.2 504.3,159.4 505.4,166.1 506.5,163.1 507.6,152.6 508.7,154.7 509.8,160.2 510.9,154.8 512.0,156.2 513.1,152.9 514.2,156.8 515.3,160.8 516.4,164.1 517.5,158.4 518.6,170.3 519.7,158.0 520.8,176.7 521.9,164.1 523.0,161.2 524.1,155.5 525.2,142.1 526.3,157.4 527.4,159.4 528.5,169.4 529.6,150.5 530.7,169.3 531.8,156.9 532.9,162.5 534.0,143.8 535.1,159.1 536.2,156.4 537.3,162.3 538.4,144.7 539.5,132.9 540.6,143.4 541.7,141.4 542.8,140.7 543.9,143.0 545.0,143.5 546.1,137.0 547.2,129.3 548.3,129.2 549.4,144.9 550.5,141.2 551.6,137.7 552.7,134.7 553.8,137.3 554.9,137.3 556.0,135.2 557.1,133.2 558.2,149.6 559.3,138.5 560.4,133.7 561.5,129.7 562.6,133.0 563.7,141.3 564.8,141.5 565.9,135.9 567.0,137.5 568.1,135.4 569.2,130.8 570.3,144.6 571.4,139.3 572.5,151.4 573.6,132.8 574.7,136.4 575.8,142.2 576.9,135.7 578.0,129.2 579.1,131.7 580.2,137.7 581.3,139.1 582.4,136.6 583.5,142.9 584.6,142.9 585.7,139.0 586.8,137.3 587.9,135.7 589.0,140.3 590.1,142.4 591.2,137.5 592.3,139.7 593.4,135.3 594.5,129.0 595.6,131.4 596.7,141.6 597.8,139.7 598.9,146.3 600.0,137.5 601.1,142.1 602.2,144.8 603.3,142.9 604.4,133.7 605.5,136.1 606.6,144.9 607.7,145.9 608.8,157.8 609.9,162.7 611.0,154.9 612.1,169.3 613.2,156.5 614.3,157.1 615.4,156.9 616.5,154.3 617.6,160.7 618.7,158.5 619.8,167.9 620.9,161.9 622.0,161.4 623.1,157.1 624.2,150.2 625.3,157.8 626.4,153.5 627.5,163.8 628.6,158.2 629.7,167.9 630.8,162.6 631.9,163.2 633.0,159.7 634.1,159.6 635.2,162.1 636.3,163.7 637.4,154.3 638.5,161.2 639.6,173.4 640.7,157.9 641.8,156.9 642.9,154.4 644.0,150.0 645.1,165.2 646.2,158.7 647.3,160.1 648.4,169.0 649.5,172.8 650.6,153.3 651.7,164.4 652.8,162.0 653.9,160.7 655.0,161.1 656.1,158.2 657.2,167.5 658.3,161.9 659.4,160.4 660.5,165.5 661.6,163.5 662.7,161.0 663.8,160.3 664.9,168.5 666.0,161.3 667.1,157.9 668.2,153.4 669.3,156.4 670.4,152.3 671.5,159.0 672.6,159.8 673.7,146.6" fill="none" stroke="#000" stroke-width="3.0" stroke-linejoin="round" stroke-linecap="round"/>
<polyline points="503.2,152.2 504.3,156.2 505.4,153.4 506.5,155.0 507.6,160.7 508.7,167.7 509.8,147.1 510.9,157.4 512.0,157.8 513.1,157.0 514.2,156.4 515.3,155.6 516.4,163.4 517.5,154.8 518.6,156.8 519.7,157.5 520.8,158.2 521.9,156.5 523.0,163.4 524.1,157.5 525.2,158.6 526.3,157.2 527.4,151.7 528.5,152.7 529.6,151.4 530.7,158.7 531.8,153.4 532.9,151.3 534.0,158.9 535.1,160.6 536.2,147.2 537.3,167.4 538.4,151.6 539.5,148.8 540.6,154.9 541.7,148.9 542.8,144.9 543.9,161.2 545.0,142.1 546.1,147.8 547.2,153.3 548.3,142.1 549.4,147.7 550.5,150.6 551.6,162.4 552.7,143.1 553.8,148.1 554.9,152.2 556.0,148.8 557.1,141.3 558.2,150.7 559.3,149.0 560.4,151.0 561.5,155.0 562.6,154.3 563.7,150.7 564.8,150.2 565.9,141.9 567.0,147.5 568.1,149.6 569.2,146.0 570.3,148.9 571.4,143.5 572.5,157.3 573.6,161.0 574.7,146.1 575.8,150.7 576.9,147.0 578.0,155.7 579.1,150.9 580.2,148.8 581.3,147.0 582.4,149.1 583.5,142.5 584.6,152.3 585.7,144.2 586.8,151.5 587.9,149.1 589.0,154.8 590.1,148.3 591.2,154.3 592.3,143.0 593.4,151.9 594.5,147.0 595.6,149.5 596.7,148.8 597.8,153.8 598.9,136.5 600.0,150.2 601.1,139.6 602.2,155.4 603.3,136.8 604.4,142.4 605.5,138.5 606.6,161.0 607.7,147.0 608.8,156.8 609.9,153.7 611.0,146.7 612.1,155.4 613.2,161.3 614.3,156.4 615.4,163.0 616.5,155.4 617.6,157.6 618.7,155.3 619.8,159.6 620.9,168.7 622.0,159.7 623.1,158.7 624.2,153.9 625.3,153.1 626.4,166.1 627.5,151.0 628.6,152.2 629.7,157.0 630.8,155.1 631.9,169.0 633.0,143.7 634.1,159.6 635.2,161.7 636.3,151.0 637.4,153.8 638.5,160.1 639.6,167.1 640.7,152.2 641.8,148.3 642.9,163.2 644.0,166.5 645.1,155.6 646.2,144.6 647.3,166.0 648.4,156.4 649.5,164.1 650.6,157.3 651.7,155.3 652.8,154.9 653.9,166.2 655.0,165.9 656.1,145.0 657.2,152.1 658.3,167.9 659.4,155.4 660.5,149.6 661.6,157.6 662.7,156.9 663.8,157.0 664.9,154.7 666.0,155.7 667.1,154.9 668.2,159.5 669.3,152.8 670.4,155.8 671.5,156.7 672.6,165.2 673.7,159.7" fill="none" stroke="#000" stroke-width="3.0" stroke-linejoin="round" stroke-linecap="round"/>
<polyline points="503.2,149.3 504.3,143.3 505.4,153.6 506.5,155.9 507.6,153.6 508.7,152.6 509.8,151.2 510.9,159.0 512.0,154.7 513.1,155.7 514.2,149.6 515.3,151.6 516.4,155.9 517.5,149.4 518.6,148.0 519.7,153.2 520.8,161.6 521.9,156.1 523.0,163.1 524.1,154.3 525.2,153.3 526.3,147.3 527.4,151.8 528.5,162.9 529.6,156.8 530.7,159.1 531.8,158.9 532.9,155.0 534.0,153.9 535.1,155.7 536.2,158.7 537.3,157.5 538.4,174.0 539.5,180.4 540.6,179.6 541.7,184.6 542.8,182.0 543.9,193.4 545.0,176.7 546.1,187.3 547.2,201.9 548.3,187.0 549.4,182.8 550.5,189.1 551.6,196.4 552.7,188.6 553.8,193.0 554.9,190.3 556.0,187.8 557.1,207.4 558.2,190.5 559.3,187.3 560.4,187.7 561.5,192.6 562.6,192.9 563.7,195.0 564.8,191.7 565.9,183.1 567.0,194.1 568.1,189.6 569.2,189.8 570.3,183.4 571.4,188.5 572.5,187.8 573.6,191.7 574.7,184.0 575.8,192.5 576.9,193.0 578.0,186.3 579.1,189.1 580.2,188.0 581.3,197.8 582.4,179.0 583.5,191.2 584.6,184.1 585.7,191.0 586.8,198.2 587.9,190.2 589.0,194.5 590.1,189.3 591.2,204.7 592.3,199.2 593.4,200.5 594.5,187.1 595.6,188.5 596.7,200.6 597.8,193.8 598.9,193.5 600.0,196.9 601.1,188.3 602.2,199.6 603.3,195.6 604.4,198.3 605.5,192.1 606.6,184.9 607.7,165.9 608.8,169.8 609.9,168.1 611.0,165.3 612.1,162.0 613.2,161.8 614.3,142.7 615.4,161.7 616.5,155.2 617.6,156.9 618.7,154.5 619.8,148.2 620.9,152.7 622.0,159.2 623.1,163.3 624.2,151.9 625.3,150.3 626.4,163.2 627.5,150.3 628.6,166.6 629.7,155.4 630.8,150.2 631.9,160.5 633.0,164.4 634.1,147.2 635.2,163.6 636.3,153.5 637.4,163.2 638.5,152.9 639.6,146.3 640.7,157.8 641.8,160.1 642.9,166.6 644.0,164.5 645.1,158.9 646.2,153.7 647.3,152.1 648.4,153.4 649.5,150.4 650.6,153.5 651.7,141.0 652.8,156.0 653.9,154.9 655.0,169.2 656.1,159.2 657.2,152.4 658.3,158.1 659.4,148.2 660.5,151.7 661.6,144.7 662.7,162.9 663.8,158.3 664.9,148.5 666.0,154.7 667.1,160.3 668.2,157.7 669.3,157.1 670.4,150.3 671.5,151.5 672.6,155.5 673.7,160.1" fill="none" stroke="#000" stroke-width="3.0" stroke-linejoin="round" stroke-linecap="round"/>
<polyline points="503.2,156.9 504.3,154.6 505.4,162.1 506.5,155.8 507.6,154.9 508.7,154.1 509.8,161.5 510.9,155.3 512.0,148.8 513.1,161.9 514.2,154.3 515.3,160.4 516.4,160.5 517.5,165.2 518.6,164.3 519.7,155.1 520.8,157.4 521.9,151.0 523.0,167.9 524.1,160.9 525.2,166.3 526.3,156.5 527.4,146.7 528.5,167.1 529.6,158.9 530.7,159.1 531.8,158.7 532.9,162.0 534.0,161.4 535.1,149.3 536.2,164.5 537.3,155.3 538.4,175.7 539.5,200.1 540.6,202.7 541.7,199.9 542.8,194.0 543.9,207.3 545.0,210.8 546.1,208.2 547.2,202.4 548.3,205.6 549.4,203.6 550.5,212.6 551.6,216.6 552.7,218.3 553.8,208.8 554.9,214.8 556.0,217.2 557.1,211.7 558.2,214.2 559.3,227.7 560.4,217.3 561.5,221.7 562.6,214.7 563.7,217.9 564.8,208.5 565.9,218.6 567.0,226.1 568.1,231.8 569.2,227.2 570.3,224.8 571.4,221.7 572.5,218.5 573.6,221.5 574.7,226.4 575.8,219.0 576.9,229.3 578.0,218.9 579.1,214.9 580.2,219.8 581.3,216.6 582.4,218.8 583.5,233.6 584.6,226.5 585.7,229.4 586.8,235.3 587.9,236.4 589.0,226.9 590.1,237.8 591.2,233.0 592.3,231.3 593.4,234.3 594.5,224.2 595.6,228.4 596.7,232.8 597.8,237.4 598.9,232.3 600.0,234.3 601.1,241.0 602.2,244.1 603.3,240.9 604.4,244.3 605.5,235.3 606.6,217.1 607.7,199.4 608.8,184.3 609.9,176.5 611.0,184.6 612.1,171.1 613.2,164.6 614.3,171.2 615.4,177.5 616.5,166.4 617.6,171.9 618.7,161.6 619.8,160.5 620.9,158.8 622.0,161.3 623.1,172.1 624.2,154.7 625.3,170.2 626.4,154.8 627.5,158.9 628.6,164.8 629.7,163.4 630.8,161.2 631.9,150.0 633.0,161.3 634.1,153.4 635.2,173.7 636.3,157.8 637.4,160.0 638.5,152.3 639.6,156.0 640.7,151.4 641.8,164.2 642.9,157.1 644.0,161.8 645.1,154.7 646.2,155.7 647.3,165.8 648.4,152.9 649.5,148.2 650.6,160.7 651.7,151.9 652.8,155.9 653.9,163.6 655.0,153.7 656.1,163.4 657.2,154.5 658.3,166.9 659.4,165.9 660.5,155.7 661.6,157.1 662.7,153.6 663.8,159.5 664.9,164.9 666.0,150.1 667.1,163.6 668.2,150.8 669.3,153.4 670.4,148.2 671.5,170.3 672.6,158.7 673.7,159.7" fill="none" stroke="#d04838" stroke-width="3.7" stroke-linejoin="round" stroke-linecap="round"/>
<polyline points="503.2,156.9 504.3,154.6 505.4,162.1 506.5,155.8 507.6,154.9 508.7,154.1 509.8,161.5 510.9,155.3 512.0,148.8 513.1,161.9 514.2,154.3 515.3,160.4 516.4,160.5 517.5,165.2 518.6,164.3 519.7,155.1 520.8,157.4 521.9,151.0 523.0,167.9 524.1,160.9 525.2,166.3 526.3,156.5 527.4,146.7 528.5,167.1 529.6,158.9 530.7,159.1 531.8,158.7 532.9,162.0 534.0,161.4 535.1,149.3 536.2,164.5 537.3,155.3 538.4,175.7 539.5,200.1 540.6,202.7 541.7,199.9 542.8,194.0 543.9,207.3 545.0,210.8 546.1,208.2 547.2,202.4 548.3,205.6 549.4,203.6 550.5,212.6 551.6,216.6 552.7,218.3 553.8,208.8 554.9,214.8 556.0,217.2 557.1,211.7 558.2,214.2 559.3,227.7 560.4,217.3 561.5,221.7 562.6,214.7 563.7,217.9 564.8,208.5 565.9,218.6 567.0,226.1 568.1,231.8 569.2,227.2 570.3,224.8 571.4,221.7 572.5,218.5 573.6,221.5 574.7,226.4 575.8,219.0 576.9,229.3 578.0,218.9 579.1,214.9 580.2,219.8 581.3,216.6 582.4,218.8 583.5,233.6 584.6,226.5 585.7,229.4 586.8,235.3 587.9,236.4 589.0,226.9 590.1,237.8 591.2,233.0 592.3,231.3 593.4,234.3 594.5,224.2 595.6,228.4 596.7,232.8 597.8,237.4 598.9,232.3 600.0,234.3 601.1,241.0 602.2,244.1 603.3,240.9 604.4,244.3 605.5,235.3 606.6,217.1 607.7,199.4 608.8,184.3 609.9,176.5 611.0,184.6 612.1,171.1 613.2,164.6 614.3,171.2 615.4,177.5 616.5,166.4 617.6,171.9 618.7,161.6 619.8,160.5 620.9,158.8 622.0,161.3 623.1,172.1 624.2,154.7 625.3,170.2 626.4,154.8 627.5,158.9 628.6,164.8 629.7,163.4 630.8,161.2 631.9,150.0 633.0,161.3 634.1,153.4 635.2,173.7 636.3,157.8 637.4,160.0 638.5,152.3 639.6,156.0 640.7,151.4 641.8,164.2 642.9,157.1 644.0,161.8 645.1,154.7 646.2,155.7 647.3,165.8 648.4,152.9 649.5,148.2 650.6,160.7 651.7,151.9 652.8,155.9 653.9,163.6 655.0,153.7 656.1,163.4 657.2,154.5 658.3,166.9 659.4,165.9 660.5,155.7 661.6,157.1 662.7,153.6 663.8,159.5 664.9,164.9 666.0,150.1 667.1,163.6 668.2,150.8 669.3,153.4 670.4,148.2 671.5,170.3 672.6,158.7 673.7,159.7" fill="none" stroke="#06be06" stroke-width="3.0" stroke-linejoin="round" stroke-linecap="round"/>
<polyline points="133.8,331.9 135.1,332.7 136.4,327.6 137.7,327.8 139.0,331.3 140.3,333.4 141.6,333.1 142.9,334.6 144.2,335.7 145.5,333.5 146.8,332.1 148.1,329.3 149.4,329.5 150.7,330.9 152.0,332.9 153.3,332.8 154.6,332.2 155.9,331.7 157.2,333.9 158.5,332.7 159.8,333.0 161.1,333.0 162.4,330.6 163.7,329.3 165.0,333.5 166.3,333.3 167.6,331.5 168.9,310.6 170.2,312.5 171.5,302.6 172.8,303.7 174.1,304.9 175.4,301.0 176.7,304.5 178.0,309.1 179.3,306.7 180.6,305.9 181.9,305.8 183.2,304.5 184.5,306.8 185.8,303.7 187.1,303.0 188.4,304.4 189.7,306.6 191.0,305.1 192.3,306.0 193.6,298.6 194.9,307.4 196.2,310.6 197.5,307.8 198.8,303.3 200.1,301.8 201.4,304.9 202.7,301.4 204.0,306.1 205.3,302.7 206.6,306.8 207.9,307.9 209.2,298.6 210.5,304.9 211.8,302.2 213.1,300.3 214.4,302.4 215.7,303.5 217.0,307.0 218.3,300.0 219.6,307.0 220.9,309.7 222.2,305.8 223.5,305.6 224.8,304.1 226.1,300.9 227.4,305.6 228.7,305.2 230.0,306.2 231.3,311.2 232.6,306.1 233.9,305.3 235.2,308.4 236.5,300.4 237.8,301.0 239.1,322.9 240.4,330.9 241.7,338.4 243.0,337.3 244.3,343.5 245.6,343.0 246.9,340.7 248.2,337.2 249.5,339.6 250.8,339.7 252.1,334.2 253.4,337.7 254.7,338.4 256.0,336.7 257.3,340.2 258.6,339.0 259.9,333.1 261.2,335.6 262.5,332.8 263.8,336.5 265.1,332.4 266.4,337.2 267.7,335.7 269.0,337.2 270.3,334.1 271.6,330.4 272.9,339.2 274.2,333.9 275.5,338.1 276.8,335.5 278.1,336.1 279.4,339.3 280.7,335.2 282.0,338.1 283.3,330.1 284.6,336.6 285.9,333.5 287.2,333.8 288.5,334.2 289.8,335.1 291.1,338.7 292.4,329.1 293.7,334.3 295.0,332.2 296.3,337.4 297.6,333.0 298.9,335.4 300.2,333.1 301.5,336.0 302.8,336.9 304.1,333.1" fill="none" stroke="#000" stroke-width="3.0" stroke-linejoin="round" stroke-linecap="round"/>
<polyline points="133.8,329.2 135.1,327.1 136.4,321.0 137.7,328.4 139.0,324.3 140.3,324.7 141.6,332.3 142.9,332.1 144.2,324.5 145.5,332.5 146.8,331.4 148.1,327.7 149.4,332.2 150.7,325.3 152.0,326.5 153.3,325.8 154.6,326.8 155.9,332.6 157.2,326.1 158.5,326.7 159.8,327.3 161.1,330.6 162.4,329.0 163.7,332.5 165.0,328.0 166.3,326.3 167.6,328.6 168.9,314.8 170.2,307.9 171.5,310.2 172.8,314.4 174.1,307.3 175.4,309.1 176.7,312.9 178.0,307.1 179.3,306.5 180.6,305.8 181.9,310.1 183.2,310.5 184.5,308.6 185.8,309.1 187.1,312.7 188.4,311.5 189.7,304.9 191.0,308.9 192.3,309.3 193.6,311.1 194.9,308.3 196.2,307.1 197.5,307.6 198.8,303.8 200.1,308.9 201.4,307.2 202.7,310.3 204.0,306.0 205.3,307.7 206.6,306.1 207.9,305.8 209.2,311.0 210.5,307.6 211.8,310.2 213.1,305.7 214.4,309.2 215.7,304.0 217.0,307.5 218.3,307.5 219.6,310.6 220.9,309.4 222.2,308.4 223.5,311.3 224.8,309.5 226.1,310.5 227.4,311.1 228.7,308.7 230.0,308.0 231.3,309.8 232.6,307.7 233.9,310.0 235.2,312.1 236.5,311.4 237.8,307.8 239.1,320.9 240.4,331.5 241.7,334.4 243.0,339.3 244.3,335.5 245.6,336.0 246.9,338.5 248.2,334.6 249.5,335.2 250.8,340.2 252.1,339.2 253.4,336.3 254.7,335.0 256.0,331.1 257.3,335.2 258.6,333.5 259.9,333.8 261.2,331.5 262.5,332.8 263.8,332.1 265.1,333.5 266.4,336.6 267.7,333.4 269.0,327.5 270.3,329.4 271.6,327.6 272.9,329.8 274.2,333.7 275.5,333.2 276.8,330.3 278.1,332.8 279.4,329.8 280.7,327.8 282.0,327.9 283.3,329.4 284.6,336.0 285.9,328.0 287.2,335.5 288.5,335.8 289.8,331.4 291.1,331.8 292.4,330.1 293.7,331.8 295.0,333.8 296.3,331.9 297.6,334.8 298.9,335.3 300.2,332.9 301.5,332.8 302.8,331.7 304.1,332.9" fill="none" stroke="#000" stroke-width="3.0" stroke-linejoin="round" stroke-linecap="round"/>
<polyline points="133.8,334.6 135.1,338.5 136.4,335.3 137.7,333.8 139.0,336.5 140.3,333.2 141.6,333.0 142.9,339.2 144.2,331.9 145.5,332.7 146.8,334.0 148.1,331.3 149.4,328.8 150.7,336.4 152.0,332.0 153.3,332.6 154.6,333.0 155.9,331.5 157.2,331.3 158.5,334.2 159.8,339.6 161.1,335.6 162.4,335.6 163.7,330.3 165.0,333.8 166.3,331.0 167.6,335.7 168.9,323.1 170.2,321.0 171.5,319.9 172.8,318.5 174.1,316.2 175.4,321.2 176.7,316.6 178.0,317.0 179.3,319.1 180.6,318.2 181.9,320.5 183.2,322.3 184.5,320.5 185.8,320.3 187.1,319.9 188.4,321.9 189.7,315.4 191.0,320.7 192.3,317.6 193.6,316.9 194.9,319.9 196.2,318.9 197.5,321.3 198.8,322.5 200.1,314.3 201.4,319.7 202.7,324.5 204.0,321.9 205.3,323.3 206.6,320.1 207.9,316.4 209.2,317.2 210.5,321.6 211.8,322.2 213.1,318.1 214.4,319.2 215.7,320.5 217.0,315.7 218.3,319.0 219.6,323.7 220.9,325.1 222.2,319.6 223.5,324.2 224.8,318.6 226.1,317.9 227.4,314.5 228.7,322.1 230.0,319.0 231.3,325.5 232.6,320.7 233.9,320.3 235.2,315.5 236.5,323.4 237.8,319.0 239.1,331.1 240.4,331.6 241.7,341.5 243.0,342.7 244.3,339.2 245.6,340.8 246.9,341.3 248.2,342.3 249.5,339.9 250.8,343.4 252.1,338.3 253.4,337.0 254.7,337.0 256.0,331.8 257.3,335.6 258.6,339.7 259.9,337.8 261.2,335.0 262.5,337.6 263.8,331.8 265.1,335.8 266.4,337.7 267.7,338.0 269.0,334.4 270.3,338.4 271.6,340.6 272.9,335.1 274.2,337.8 275.5,332.3 276.8,331.3 278.1,337.4 279.4,336.1 280.7,336.4 282.0,334.5 283.3,335.2 284.6,337.9 285.9,340.0 287.2,335.4 288.5,332.0 289.8,338.9 291.1,337.3 292.4,337.5 293.7,336.3 295.0,341.4 296.3,336.1 297.6,337.1 298.9,331.5 300.2,334.5 301.5,334.2 302.8,335.8 304.1,336.7" fill="none" stroke="#000" stroke-width="3.0" stroke-linejoin="round" stroke-linecap="round"/>
<polyline points="133.8,346.4 135.1,337.9 136.4,336.3 137.7,333.5 139.0,338.7 140.3,331.9 141.6,334.1 142.9,337.0 144.2,333.1 145.5,340.0 146.8,338.8 148.1,334.7 149.4,334.7 150.7,332.8 152.0,332.6 153.3,337.2 154.6,337.7 155.9,337.0 157.2,336.8 158.5,334.7 159.8,337.0 161.1,332.4 162.4,336.1 163.7,339.8 165.0,339.4 166.3,334.9 167.6,335.3 168.9,334.5 170.2,334.1 171.5,325.5 172.8,328.1 174.1,329.7 175.4,332.2 176.7,327.0 178.0,330.7 179.3,328.3 180.6,335.1 181.9,330.2 183.2,328.8 184.5,328.3 185.8,331.7 187.1,330.8 188.4,326.4 189.7,329.6 191.0,325.7 192.3,327.2 193.6,325.8 194.9,325.8 196.2,327.4 197.5,326.6 198.8,330.4 200.1,331.1 201.4,328.5 202.7,326.3 204.0,331.1 205.3,324.0 206.6,324.2 207.9,330.9 209.2,330.7 210.5,331.5 211.8,328.6 213.1,325.9 214.4,327.8 215.7,330.5 217.0,327.2 218.3,327.3 219.6,325.6 220.9,326.2 222.2,331.2 223.5,330.2 224.8,326.2 226.1,326.4 227.4,327.7 228.7,330.5 230.0,326.2 231.3,328.7 232.6,323.7 233.9,325.9 235.2,330.2 236.5,331.4 237.8,326.2 239.1,334.7 240.4,342.3 241.7,341.1 243.0,341.4 244.3,344.3 245.6,343.4 246.9,345.4 248.2,344.2 249.5,340.4 250.8,341.2 252.1,340.9 253.4,337.3 254.7,337.9 256.0,342.5 257.3,335.8 258.6,342.1 259.9,340.1 261.2,338.8 262.5,340.4 263.8,340.1 265.1,341.8 266.4,337.6 267.7,338.0 269.0,337.9 270.3,343.2 271.6,340.8 272.9,336.0 274.2,337.5 275.5,336.5 276.8,338.3 278.1,338.8 279.4,344.0 280.7,333.6 282.0,340.8 283.3,339.3 284.6,336.4 285.9,337.8 287.2,336.9 288.5,338.3 289.8,340.7 291.1,334.3 292.4,341.4 293.7,337.2 295.0,341.9 296.3,339.2 297.6,341.2 298.9,339.5 300.2,340.8 301.5,338.3 302.8,336.0 304.1,339.8" fill="none" stroke="#000" stroke-width="3.0" stroke-linejoin="round" stroke-linecap="round"/>
<polyline points="133.8,336.0 135.1,335.4 136.4,336.8 137.7,335.0 139.0,339.4 140.3,338.6 141.6,339.8 142.9,338.1 144.2,334.3 145.5,336.0 146.8,338.9 148.1,335.3 149.4,344.5 150.7,335.8 152.0,334.8 153.3,339.6 154.6,338.5 155.9,336.4 157.2,335.8 158.5,337.6 159.8,338.8 161.1,338.6 162.4,335.6 163.7,337.6 165.0,338.8 166.3,338.6 167.6,327.9 168.9,345.2 170.2,351.0 171.5,355.3 172.8,357.9 174.1,361.0 175.4,360.8 176.7,359.3 178.0,360.2 179.3,365.5 180.6,359.4 181.9,362.3 183.2,366.2 184.5,363.2 185.8,357.0 187.1,364.0 188.4,362.2 189.7,363.3 191.0,366.8 192.3,365.5 193.6,363.8 194.9,367.3 196.2,366.3 197.5,365.6 198.8,366.4 200.1,366.5 201.4,365.1 202.7,365.0 204.0,366.6 205.3,364.1 206.6,363.4 207.9,370.7 209.2,366.6 210.5,367.4 211.8,367.3 213.1,367.9 214.4,368.0 215.7,368.3 217.0,366.1 218.3,371.0 219.6,366.6 220.9,371.6 222.2,363.5 223.5,366.0 224.8,371.8 226.1,368.8 227.4,367.4 228.7,370.4 230.0,366.6 231.3,369.8 232.6,363.6 233.9,368.5 235.2,368.1 236.5,371.5 237.8,372.5 239.1,349.7 240.4,350.4 241.7,341.8 243.0,336.4 244.3,334.6 245.6,344.8 246.9,339.8 248.2,337.9 249.5,337.3 250.8,336.2 252.1,342.8 253.4,338.7 254.7,343.7 256.0,338.2 257.3,332.2 258.6,340.9 259.9,337.6 261.2,337.9 262.5,342.9 263.8,337.8 265.1,341.7 266.4,338.5 267.7,336.4 269.0,339.9 270.3,336.8 271.6,341.9 272.9,341.1 274.2,338.6 275.5,340.1 276.8,340.0 278.1,337.7 279.4,340.9 280.7,337.8 282.0,340.2 283.3,335.8 284.6,338.7 285.9,339.6 287.2,336.3 288.5,337.3 289.8,337.0 291.1,340.5 292.4,336.5 293.7,339.7 295.0,342.7 296.3,339.4 297.6,334.0 298.9,338.8 300.2,341.3 301.5,337.7 302.8,341.5 304.1,340.2" fill="none" stroke="#000" stroke-width="3.0" stroke-linejoin="round" stroke-linecap="round"/>
<polyline points="133.8,334.1 135.1,331.7 136.4,331.4 137.7,332.9 139.0,336.1 140.3,332.8 141.6,333.4 142.9,332.7 144.2,330.4 145.5,337.7 146.8,327.9 148.1,332.3 149.4,335.4 150.7,330.3 152.0,335.5 153.3,337.2 154.6,331.7 155.9,334.5 157.2,331.1 158.5,335.2 159.8,334.2 161.1,334.5 162.4,337.4 163.7,335.1 165.0,337.4 166.3,335.6 167.6,330.9 168.9,364.3 170.2,377.9 171.5,378.7 172.8,388.6 174.1,386.8 175.4,388.5 176.7,385.9 178.0,389.0 179.3,390.1 180.6,389.1 181.9,390.6 183.2,385.5 184.5,394.9 185.8,389.1 187.1,386.9 188.4,390.5 189.7,391.4 191.0,395.4 192.3,392.2 193.6,395.8 194.9,393.1 196.2,401.8 197.5,398.0 198.8,402.2 200.1,395.0 201.4,399.9 202.7,396.2 204.0,400.7 205.3,401.5 206.6,396.1 207.9,397.8 209.2,398.3 210.5,397.9 211.8,400.4 213.1,400.3 214.4,399.6 215.7,404.1 217.0,405.8 218.3,401.5 219.6,404.0 220.9,405.9 222.2,405.8 223.5,405.1 224.8,409.5 226.1,410.1 227.4,410.2 228.7,408.5 230.0,414.6 231.3,414.5 232.6,409.5 233.9,410.8 235.2,414.6 236.5,410.0 237.8,413.6 239.1,375.4 240.4,361.6 241.7,358.1 243.0,352.0 244.3,352.6 245.6,347.2 246.9,356.7 248.2,353.3 249.5,351.4 250.8,347.8 252.1,348.6 253.4,348.4 254.7,346.8 256.0,345.8 257.3,340.4 258.6,343.2 259.9,340.1 261.2,337.9 262.5,337.5 263.8,341.1 265.1,342.3 266.4,335.7 267.7,343.4 269.0,342.3 270.3,337.3 271.6,336.8 272.9,337.6 274.2,340.1 275.5,336.4 276.8,334.4 278.1,337.9 279.4,331.6 280.7,337.1 282.0,339.6 283.3,337.3 284.6,338.4 285.9,337.6 287.2,338.1 288.5,336.5 289.8,334.0 291.1,335.5 292.4,335.8 293.7,339.2 295.0,340.1 296.3,336.9 297.6,333.9 298.9,333.9 300.2,335.2 301.5,339.3 302.8,336.5 304.1,335.5" fill="none" stroke="#d04838" stroke-width="3.7" stroke-linejoin="round" stroke-linecap="round"/>
<polyline points="133.8,334.1 135.1,331.7 136.4,331.4 137.7,332.9 139.0,336.1 140.3,332.8 141.6,333.4 142.9,332.7 144.2,330.4 145.5,337.7 146.8,327.9 148.1,332.3 149.4,335.4 150.7,330.3 152.0,335.5 153.3,337.2 154.6,331.7 155.9,334.5 157.2,331.1 158.5,335.2 159.8,334.2 161.1,334.5 162.4,337.4 163.7,335.1 165.0,337.4 166.3,335.6 167.6,330.9 168.9,364.3 170.2,377.9 171.5,378.7 172.8,388.6 174.1,386.8 175.4,388.5 176.7,385.9 178.0,389.0 179.3,390.1 180.6,389.1 181.9,390.6 183.2,385.5 184.5,394.9 185.8,389.1 187.1,386.9 188.4,390.5 189.7,391.4 191.0,395.4 192.3,392.2 193.6,395.8 194.9,393.1 196.2,401.8 197.5,398.0 198.8,402.2 200.1,395.0 201.4,399.9 202.7,396.2 204.0,400.7 205.3,401.5 206.6,396.1 207.9,397.8 209.2,398.3 210.5,397.9 211.8,400.4 213.1,400.3 214.4,399.6 215.7,404.1 217.0,405.8 218.3,401.5 219.6,404.0 220.9,405.9 222.2,405.8 223.5,405.1 224.8,409.5 226.1,410.1 227.4,410.2 228.7,408.5 230.0,414.6 231.3,414.5 232.6,409.5 233.9,410.8 235.2,414.6 236.5,410.0 237.8,413.6 239.1,375.4 240.4,361.6 241.7,358.1 243.0,352.0 244.3,352.6 245.6,347.2 246.9,356.7 248.2,353.3 249.5,351.4 250.8,347.8 252.1,348.6 253.4,348.4 254.7,346.8 256.0,345.8 257.3,340.4 258.6,343.2 259.9,340.1 261.2,337.9 262.5,337.5 263.8,341.1 265.1,342.3 266.4,335.7 267.7,343.4 269.0,342.3 270.3,337.3 271.6,336.8 272.9,337.6 274.2,340.1 275.5,336.4 276.8,334.4 278.1,337.9 279.4,331.6 280.7,337.1 282.0,339.6 283.3,337.3 284.6,338.4 285.9,337.6 287.2,338.1 288.5,336.5 289.8,334.0 291.1,335.5 292.4,335.8 293.7,339.2 295.0,340.1 296.3,336.9 297.6,333.9 298.9,333.9 300.2,335.2 301.5,339.3 302.8,336.5 304.1,335.5" fill="none" stroke="#06be06" stroke-width="3.0" stroke-linejoin="round" stroke-linecap="round"/>
<polyline points="317.8,325.3 319.1,325.3 320.4,324.3 321.7,318.6 323.0,324.9 324.3,319.2 325.6,320.9 326.9,325.7 328.2,318.3 329.5,323.2 330.8,321.7 332.1,320.7 333.4,318.8 334.7,322.1 336.0,319.9 337.3,323.7 338.6,324.1 339.9,317.6 341.2,319.8 342.5,320.2 343.8,318.1 345.1,318.2 346.4,321.3 347.7,320.5 349.0,316.9 350.3,319.7 351.6,322.3 352.9,308.3 354.2,297.7 355.5,299.2 356.8,296.5 358.1,288.3 359.4,288.6 360.7,292.8 362.0,288.8 363.3,291.1 364.6,290.6 365.9,293.2 367.2,285.4 368.5,286.2 369.8,288.6 371.1,294.3 372.4,291.3 373.7,287.4 375.0,293.0 376.3,293.5 377.6,291.1 378.9,290.9 380.2,292.8 381.5,294.8 382.8,292.1 384.1,293.1 385.4,291.6 386.7,290.8 388.0,289.4 389.3,292.4 390.6,291.0 391.9,291.1 393.2,294.1 394.5,293.0 395.8,293.9 397.1,287.8 398.4,293.1 399.7,290.2 401.0,289.7 402.3,289.6 403.6,294.8 404.9,293.8 406.2,289.9 407.5,288.9 408.8,291.8 410.1,290.6 411.4,295.9 412.7,288.1 414.0,287.1 415.3,291.1 416.6,291.8 417.9,292.1 419.2,293.6 420.5,297.0 421.8,290.9 423.1,300.0 424.4,302.1 425.7,310.1 427.0,313.4 428.3,311.6 429.6,316.0 430.9,313.7 432.2,317.9 433.5,315.3 434.8,312.1 436.1,313.5 437.4,311.5 438.7,311.3 440.0,316.6 441.3,318.3 442.6,321.3 443.9,316.5 445.2,316.2 446.5,314.2 447.8,319.7 449.1,318.4 450.4,316.1 451.7,319.4 453.0,319.3 454.3,313.3 455.6,320.0 456.9,318.6 458.2,317.4 459.5,317.5 460.8,323.0 462.1,322.6 463.4,323.4 464.7,316.0 466.0,317.4 467.3,321.4 468.6,316.2 469.9,317.5 471.2,314.8 472.5,324.1 473.8,322.2 475.1,320.7 476.4,320.2 477.7,318.6 479.0,318.7 480.3,321.3 481.6,318.0 482.9,323.0 484.2,318.7 485.5,317.8 486.8,323.3 488.1,319.7" fill="none" stroke="#000" stroke-width="3.0" stroke-linejoin="round" stroke-linecap="round"/>
<polyline points="317.8,319.6 319.1,320.2 320.4,328.8 321.7,319.8 323.0,317.8 324.3,321.1 325.6,319.5 326.9,319.6 328.2,320.2 329.5,322.5 330.8,321.0 332.1,317.1 333.4,320.0 334.7,321.7 336.0,319.1 337.3,323.5 338.6,322.5 339.9,317.7 341.2,321.3 342.5,325.8 343.8,324.6 345.1,320.2 346.4,322.8 347.7,318.6 349.0,316.5 350.3,321.9 351.6,321.1 352.9,314.8 354.2,305.0 355.5,302.5 356.8,298.7 358.1,300.8 359.4,301.5 360.7,298.9 362.0,301.2 363.3,294.1 364.6,296.8 365.9,302.8 367.2,303.7 368.5,299.5 369.8,298.6 371.1,295.4 372.4,299.8 373.7,300.9 375.0,294.7 376.3,300.3 377.6,300.1 378.9,299.9 380.2,295.6 381.5,300.2 382.8,294.6 384.1,302.7 385.4,299.0 386.7,295.4 388.0,302.2 389.3,301.7 390.6,296.8 391.9,304.5 393.2,295.8 394.5,299.3 395.8,301.7 397.1,292.3 398.4,301.2 399.7,298.2 401.0,298.4 402.3,295.4 403.6,299.3 404.9,295.3 406.2,295.7 407.5,297.1 408.8,294.9 410.1,302.6 411.4,294.6 412.7,296.2 414.0,297.3 415.3,298.2 416.6,300.3 417.9,300.4 419.2,297.3 420.5,297.1 421.8,298.2 423.1,307.4 424.4,311.0 425.7,309.9 427.0,307.0 428.3,319.2 429.6,316.6 430.9,315.1 432.2,315.7 433.5,313.6 434.8,312.6 436.1,314.7 437.4,315.2 438.7,314.3 440.0,312.3 441.3,315.6 442.6,318.2 443.9,315.4 445.2,317.0 446.5,311.5 447.8,316.7 449.1,317.1 450.4,314.2 451.7,313.0 453.0,318.9 454.3,315.7 455.6,319.4 456.9,317.0 458.2,319.9 459.5,317.4 460.8,314.3 462.1,318.3 463.4,317.7 464.7,320.5 466.0,317.5 467.3,317.7 468.6,321.2 469.9,322.1 471.2,321.1 472.5,321.9 473.8,320.3 475.1,321.2 476.4,321.6 477.7,320.3 479.0,319.5 480.3,319.7 481.6,325.9 482.9,319.4 484.2,318.8 485.5,318.5 486.8,319.4 488.1,320.2" fill="none" stroke="#000" stroke-width="3.0" stroke-linejoin="round" stroke-linecap="round"/>
<polyline points="317.8,326.3 319.1,328.1 320.4,325.0 321.7,326.1 323.0,328.1 324.3,323.4 325.6,328.4 326.9,328.4 328.2,326.1 329.5,328.7 330.8,326.2 332.1,321.9 333.4,326.9 334.7,324.9 336.0,325.2 337.3,324.5 338.6,327.5 339.9,325.5 341.2,322.4 342.5,325.3 343.8,325.9 345.1,322.3 346.4,323.1 347.7,323.2 349.0,322.6 350.3,325.0 351.6,326.6 352.9,326.9 354.2,322.2 355.5,319.8 356.8,318.8 358.1,318.3 359.4,313.5 360.7,315.7 362.0,314.5 363.3,313.2 364.6,312.2 365.9,311.9 367.2,312.4 368.5,309.9 369.8,314.1 371.1,312.7 372.4,312.9 373.7,313.4 375.0,314.3 376.3,311.0 377.6,312.1 378.9,308.3 380.2,306.7 381.5,307.3 382.8,315.9 384.1,307.5 385.4,313.1 386.7,315.5 388.0,310.6 389.3,315.7 390.6,316.2 391.9,313.9 393.2,317.3 394.5,312.9 395.8,309.5 397.1,312.5 398.4,310.1 399.7,307.9 401.0,307.9 402.3,316.7 403.6,309.5 404.9,310.8 406.2,309.1 407.5,311.0 408.8,310.0 410.1,309.5 411.4,307.5 412.7,306.9 414.0,308.5 415.3,311.0 416.6,315.3 417.9,312.7 419.2,314.5 420.5,311.1 421.8,309.7 423.1,311.2 424.4,317.0 425.7,313.1 427.0,318.6 428.3,323.9 429.6,321.1 430.9,323.4 432.2,319.9 433.5,317.7 434.8,320.1 436.1,320.5 437.4,324.6 438.7,326.7 440.0,320.2 441.3,321.2 442.6,321.9 443.9,321.5 445.2,319.5 446.5,322.9 447.8,323.7 449.1,323.8 450.4,320.0 451.7,322.8 453.0,318.9 454.3,325.5 455.6,320.8 456.9,322.7 458.2,322.4 459.5,322.1 460.8,321.0 462.1,319.3 463.4,328.1 464.7,324.5 466.0,324.5 467.3,329.1 468.6,323.7 469.9,325.4 471.2,324.1 472.5,327.1 473.8,325.4 475.1,325.0 476.4,323.6 477.7,325.0 479.0,327.2 480.3,319.2 481.6,324.0 482.9,323.4 484.2,323.7 485.5,319.5 486.8,326.3 488.1,322.4" fill="none" stroke="#000" stroke-width="3.0" stroke-linejoin="round" stroke-linecap="round"/>
<polyline points="317.8,321.4 319.1,321.2 320.4,321.1 321.7,323.7 323.0,323.2 324.3,321.5 325.6,316.6 326.9,319.8 328.2,321.2 329.5,325.9 330.8,322.0 332.1,320.6 333.4,324.2 334.7,320.6 336.0,320.8 337.3,321.3 338.6,316.7 339.9,323.6 341.2,322.1 342.5,320.1 343.8,317.7 345.1,321.5 346.4,324.8 347.7,319.1 349.0,318.0 350.3,322.1 351.6,316.5 352.9,319.6 354.2,330.9 355.5,333.4 356.8,336.3 358.1,336.6 359.4,339.8 360.7,338.9 362.0,338.3 363.3,339.2 364.6,342.7 365.9,344.0 367.2,344.2 368.5,344.1 369.8,333.3 371.1,340.1 372.4,342.4 373.7,344.2 375.0,339.4 376.3,348.2 377.6,345.4 378.9,343.2 380.2,345.7 381.5,344.6 382.8,343.7 384.1,347.5 385.4,345.1 386.7,342.7 388.0,345.1 389.3,346.8 390.6,344.4 391.9,351.1 393.2,344.8 394.5,353.0 395.8,350.8 397.1,345.9 398.4,349.1 399.7,352.2 401.0,348.6 402.3,346.0 403.6,349.8 404.9,355.2 406.2,345.7 407.5,351.6 408.8,350.2 410.1,350.0 411.4,349.4 412.7,349.8 414.0,353.7 415.3,352.6 416.6,348.3 417.9,355.6 419.2,347.8 420.5,353.4 421.8,352.2 423.1,344.8 424.4,337.9 425.7,337.6 427.0,333.4 428.3,335.5 429.6,333.2 430.9,337.7 432.2,329.4 433.5,334.3 434.8,331.9 436.1,330.8 437.4,328.4 438.7,330.9 440.0,325.3 441.3,325.3 442.6,330.8 443.9,324.2 445.2,332.3 446.5,327.3 447.8,328.5 449.1,327.8 450.4,328.6 451.7,326.4 453.0,326.0 454.3,326.5 455.6,329.6 456.9,329.6 458.2,329.9 459.5,327.2 460.8,325.5 462.1,321.2 463.4,327.5 464.7,327.9 466.0,324.4 467.3,327.6 468.6,328.8 469.9,325.4 471.2,328.0 472.5,325.8 473.8,320.0 475.1,323.4 476.4,323.5 477.7,326.0 479.0,322.1 480.3,323.2 481.6,321.7 482.9,324.2 484.2,324.4 485.5,326.8 486.8,326.3 488.1,324.5" fill="none" stroke="#000" stroke-width="3.0" stroke-linejoin="round" stroke-linecap="round"/>
<polyline points="317.8,332.7 319.1,331.8 320.4,327.5 321.7,331.6 323.0,331.5 324.3,325.3 325.6,335.1 326.9,325.8 328.2,327.5 329.5,325.4 330.8,328.4 332.1,324.8 333.4,328.2 334.7,331.0 336.0,328.7 337.3,327.5 338.6,332.2 339.9,325.9 341.2,330.7 342.5,327.4 343.8,328.7 345.1,328.2 346.4,328.5 347.7,328.0 349.0,326.1 350.3,326.7 351.6,329.3 352.9,334.6 354.2,342.8 355.5,351.4 356.8,356.8 358.1,362.4 359.4,366.2 360.7,368.7 362.0,369.1 363.3,373.0 364.6,371.4 365.9,369.4 367.2,378.4 368.5,376.0 369.8,379.4 371.1,380.2 372.4,386.4 373.7,383.0 375.0,388.2 376.3,387.5 377.6,386.7 378.9,387.0 380.2,393.3 381.5,394.2 382.8,396.2 384.1,399.8 385.4,396.7 386.7,397.6 388.0,397.4 389.3,398.7 390.6,398.3 391.9,397.6 393.2,405.8 394.5,396.5 395.8,402.5 397.1,403.6 398.4,403.4 399.7,401.1 401.0,403.6 402.3,403.4 403.6,402.3 404.9,405.4 406.2,404.9 407.5,404.9 408.8,408.5 410.1,404.3 411.4,408.6 412.7,406.2 414.0,409.2 415.3,408.6 416.6,409.3 417.9,406.4 419.2,407.2 420.5,407.3 421.8,410.2 423.1,394.5 424.4,387.3 425.7,379.1 427.0,378.2 428.3,372.1 429.6,369.1 430.9,371.3 432.2,370.6 433.5,367.2 434.8,365.4 436.1,370.3 437.4,365.8 438.7,362.5 440.0,371.8 441.3,365.2 442.6,363.0 443.9,364.6 445.2,360.0 446.5,365.1 447.8,356.1 449.1,355.9 450.4,358.0 451.7,355.6 453.0,360.3 454.3,351.8 455.6,353.2 456.9,355.0 458.2,355.1 459.5,355.4 460.8,353.0 462.1,357.1 463.4,349.6 464.7,350.6 466.0,351.6 467.3,348.0 468.6,347.4 469.9,346.4 471.2,345.3 472.5,343.5 473.8,344.4 475.1,341.3 476.4,345.7 477.7,340.1 479.0,348.9 480.3,347.5 481.6,345.5 482.9,341.6 484.2,340.2 485.5,344.3 486.8,341.2 488.1,341.7" fill="none" stroke="#d04838" stroke-width="3.7" stroke-linejoin="round" stroke-linecap="round"/>
<polyline points="317.8,332.7 319.1,331.8 320.4,327.5 321.7,331.6 323.0,331.5 324.3,325.3 325.6,335.1 326.9,325.8 328.2,327.5 329.5,325.4 330.8,328.4 332.1,324.8 333.4,328.2 334.7,331.0 336.0,328.7 337.3,327.5 338.6,332.2 339.9,325.9 341.2,330.7 342.5,327.4 343.8,328.7 345.1,328.2 346.4,328.5 347.7,328.0 349.0,326.1 350.3,326.7 351.6,329.3 352.9,334.6 354.2,342.8 355.5,351.4 356.8,356.8 358.1,362.4 359.4,366.2 360.7,368.7 362.0,369.1 363.3,373.0 364.6,371.4 365.9,369.4 367.2,378.4 368.5,376.0 369.8,379.4 371.1,380.2 372.4,386.4 373.7,383.0 375.0,388.2 376.3,387.5 377.6,386.7 378.9,387.0 380.2,393.3 381.5,394.2 382.8,396.2 384.1,399.8 385.4,396.7 386.7,397.6 388.0,397.4 389.3,398.7 390.6,398.3 391.9,397.6 393.2,405.8 394.5,396.5 395.8,402.5 397.1,403.6 398.4,403.4 399.7,401.1 401.0,403.6 402.3,403.4 403.6,402.3 404.9,405.4 406.2,404.9 407.5,404.9 408.8,408.5 410.1,404.3 411.4,408.6 412.7,406.2 414.0,409.2 415.3,408.6 416.6,409.3 417.9,406.4 419.2,407.2 420.5,407.3 421.8,410.2 423.1,394.5 424.4,387.3 425.7,379.1 427.0,378.2 428.3,372.1 429.6,369.1 430.9,371.3 432.2,370.6 433.5,367.2 434.8,365.4 436.1,370.3 437.4,365.8 438.7,362.5 440.0,371.8 441.3,365.2 442.6,363.0 443.9,364.6 445.2,360.0 446.5,365.1 447.8,356.1 449.1,355.9 450.4,358.0 451.7,355.6 453.0,360.3 454.3,351.8 455.6,353.2 456.9,355.0 458.2,355.1 459.5,355.4 460.8,353.0 462.1,357.1 463.4,349.6 464.7,350.6 466.0,351.6 467.3,348.0 468.6,347.4 469.9,346.4 471.2,345.3 472.5,343.5 473.8,344.4 475.1,341.3 476.4,345.7 477.7,340.1 479.0,348.9 480.3,347.5 481.6,345.5 482.9,341.6 484.2,340.2 485.5,344.3 486.8,341.2 488.1,341.7" fill="none" stroke="#06be06" stroke-width="3.0" stroke-linejoin="round" stroke-linecap="round"/>
<polyline points="503.2,323.4 504.3,314.6 505.4,325.9 506.5,307.4 507.6,316.9 508.7,330.4 509.8,325.7 510.9,312.7 512.0,310.9 513.1,326.3 514.2,320.8 515.3,317.5 516.4,323.6 517.5,317.6 518.6,309.4 519.7,326.1 520.8,317.2 521.9,315.0 523.0,313.0 524.1,322.6 525.2,316.2 526.3,324.9 527.4,319.5 528.5,327.7 529.6,318.8 530.7,317.1 531.8,309.1 532.9,314.4 534.0,325.5 535.1,339.8 536.2,313.5 537.3,314.8 538.4,307.8 539.5,303.6 540.6,294.8 541.7,298.9 542.8,288.4 543.9,296.3 545.0,303.7 546.1,308.1 547.2,297.1 548.3,296.5 549.4,300.9 550.5,304.9 551.6,301.1 552.7,293.5 553.8,300.3 554.9,304.1 556.0,293.8 557.1,290.0 558.2,301.2 559.3,300.4 560.4,304.1 561.5,298.7 562.6,294.2 563.7,295.5 564.8,291.8 565.9,292.3 567.0,294.7 568.1,295.2 569.2,305.0 570.3,290.6 571.4,297.8 572.5,294.6 573.6,307.3 574.7,299.8 575.8,295.9 576.9,303.1 578.0,298.6 579.1,295.3 580.2,307.6 581.3,302.5 582.4,308.8 583.5,305.3 584.6,302.9 585.7,299.0 586.8,291.5 587.9,302.5 589.0,298.6 590.1,302.3 591.2,298.1 592.3,294.0 593.4,292.0 594.5,302.5 595.6,306.1 596.7,296.4 597.8,301.0 598.9,306.7 600.0,293.1 601.1,296.1 602.2,291.4 603.3,305.4 604.4,299.8 605.5,295.4 606.6,295.7 607.7,312.7 608.8,323.7 609.9,317.7 611.0,317.8 612.1,324.7 613.2,313.5 614.3,321.4 615.4,324.8 616.5,316.4 617.6,316.1 618.7,322.7 619.8,320.6 620.9,319.8 622.0,322.5 623.1,322.6 624.2,315.6 625.3,317.2 626.4,324.0 627.5,328.1 628.6,329.5 629.7,316.1 630.8,327.9 631.9,325.9 633.0,321.1 634.1,324.2 635.2,326.3 636.3,332.2 637.4,314.8 638.5,324.9 639.6,320.4 640.7,320.0 641.8,328.3 642.9,326.3 644.0,315.1 645.1,319.5 646.2,322.6 647.3,312.7 648.4,326.5 649.5,320.8 650.6,322.3 651.7,323.3 652.8,332.3 653.9,321.5 655.0,319.1 656.1,331.9 657.2,318.2 658.3,318.1 659.4,312.8 660.5,327.9 661.6,322.9 662.7,324.2 663.8,322.3 664.9,320.5 666.0,316.5 667.1,316.5 668.2,323.9 669.3,322.1 670.4,331.2 671.5,316.7 672.6,318.3 673.7,315.1" fill="none" stroke="#000" stroke-width="3.0" stroke-linejoin="round" stroke-linecap="round"/>
<polyline points="503.2,330.0 504.3,324.9 505.4,329.3 506.5,327.2 507.6,329.8 508.7,335.5 509.8,335.3 510.9,331.6 512.0,330.1 513.1,330.8 514.2,330.8 515.3,333.3 516.4,330.2 517.5,332.9 518.6,322.9 519.7,334.5 520.8,339.8 521.9,331.2 523.0,322.4 524.1,337.6 525.2,328.3 526.3,313.7 527.4,328.9 528.5,333.5 529.6,332.3 530.7,337.0 531.8,333.6 532.9,330.8 534.0,319.2 535.1,324.0 536.2,331.1 537.3,333.9 538.4,311.1 539.5,309.0 540.6,313.5 541.7,299.8 542.8,299.5 543.9,308.9 545.0,311.5 546.1,307.5 547.2,297.5 548.3,310.3 549.4,302.8 550.5,313.7 551.6,309.6 552.7,311.6 553.8,313.7 554.9,307.3 556.0,314.7 557.1,317.0 558.2,312.4 559.3,317.5 560.4,306.7 561.5,315.2 562.6,311.6 563.7,304.7 564.8,309.7 565.9,307.2 567.0,307.1 568.1,310.6 569.2,316.0 570.3,308.4 571.4,310.8 572.5,302.1 573.6,310.7 574.7,316.5 575.8,314.6 576.9,312.8 578.0,307.2 579.1,304.8 580.2,309.6 581.3,302.8 582.4,303.3 583.5,315.3 584.6,305.1 585.7,320.1 586.8,302.3 587.9,312.5 589.0,303.7 590.1,311.1 591.2,304.4 592.3,310.4 593.4,309.3 594.5,307.7 595.6,313.0 596.7,318.5 597.8,306.9 598.9,315.0 600.0,310.6 601.1,310.0 602.2,322.3 603.3,298.2 604.4,306.4 605.5,300.1 606.6,315.0 607.7,322.5 608.8,348.1 609.9,330.6 611.0,339.4 612.1,337.0 613.2,327.6 614.3,332.7 615.4,339.3 616.5,331.1 617.6,331.3 618.7,332.9 619.8,321.8 620.9,325.7 622.0,332.0 623.1,333.2 624.2,325.1 625.3,328.4 626.4,329.5 627.5,329.3 628.6,334.0 629.7,330.7 630.8,331.1 631.9,322.3 633.0,324.3 634.1,331.9 635.2,321.3 636.3,331.6 637.4,326.5 638.5,325.7 639.6,333.7 640.7,326.4 641.8,325.4 642.9,326.4 644.0,330.5 645.1,345.3 646.2,318.4 647.3,330.0 648.4,328.8 649.5,335.4 650.6,328.1 651.7,316.5 652.8,337.4 653.9,324.1 655.0,329.8 656.1,322.5 657.2,324.0 658.3,327.4 659.4,334.9 660.5,334.8 661.6,326.8 662.7,332.9 663.8,328.0 664.9,330.7 666.0,331.0 667.1,333.5 668.2,326.7 669.3,329.3 670.4,331.3 671.5,330.6 672.6,325.7 673.7,339.6" fill="none" stroke="#000" stroke-width="3.0" stroke-linejoin="round" stroke-linecap="round"/>
<polyline points="503.2,329.7 504.3,317.8 505.4,317.6 506.5,331.9 507.6,326.4 508.7,328.2 509.8,327.7 510.9,334.9 512.0,318.4 513.1,332.3 514.2,320.8 515.3,330.1 516.4,333.8 517.5,317.4 518.6,328.1 519.7,324.0 520.8,324.0 521.9,326.0 523.0,319.4 524.1,319.9 525.2,329.7 526.3,330.8 527.4,322.3 528.5,317.0 529.6,339.6 530.7,332.3 531.8,327.9 532.9,319.5 534.0,322.2 535.1,327.2 536.2,319.9 537.3,335.3 538.4,319.9 539.5,319.2 540.6,309.9 541.7,310.4 542.8,311.0 543.9,317.4 545.0,314.1 546.1,314.0 547.2,317.6 548.3,317.1 549.4,324.6 550.5,314.5 551.6,309.6 552.7,315.6 553.8,324.5 554.9,312.4 556.0,316.0 557.1,313.6 558.2,318.1 559.3,317.2 560.4,310.8 561.5,314.3 562.6,321.4 563.7,322.3 564.8,321.3 565.9,320.9 567.0,313.7 568.1,313.5 569.2,321.3 570.3,308.7 571.4,315.3 572.5,304.6 573.6,313.4 574.7,311.5 575.8,308.5 576.9,319.2 578.0,311.3 579.1,313.5 580.2,314.2 581.3,311.3 582.4,324.2 583.5,312.8 584.6,316.9 585.7,307.9 586.8,312.9 587.9,313.8 589.0,313.9 590.1,312.2 591.2,316.6 592.3,325.0 593.4,314.9 594.5,314.9 595.6,313.4 596.7,330.9 597.8,325.4 598.9,319.1 600.0,319.9 601.1,311.5 602.2,314.8 603.3,317.0 604.4,316.4 605.5,310.6 606.6,314.4 607.7,325.6 608.8,326.0 609.9,312.4 611.0,325.9 612.1,333.1 613.2,321.8 614.3,327.1 615.4,317.0 616.5,330.7 617.6,319.1 618.7,318.2 619.8,323.8 620.9,339.9 622.0,322.1 623.1,318.2 624.2,328.5 625.3,327.1 626.4,335.6 627.5,318.2 628.6,316.2 629.7,323.8 630.8,328.0 631.9,327.9 633.0,332.2 634.1,316.8 635.2,320.8 636.3,324.9 637.4,330.7 638.5,328.6 639.6,323.2 640.7,319.6 641.8,331.0 642.9,331.4 644.0,341.9 645.1,324.7 646.2,335.4 647.3,318.5 648.4,322.5 649.5,321.7 650.6,323.0 651.7,320.5 652.8,322.5 653.9,325.4 655.0,323.1 656.1,329.7 657.2,325.2 658.3,325.7 659.4,334.5 660.5,327.6 661.6,326.7 662.7,325.6 663.8,326.1 664.9,329.1 666.0,321.0 667.1,332.6 668.2,335.1 669.3,332.6 670.4,322.8 671.5,316.2 672.6,323.1 673.7,326.7" fill="none" stroke="#000" stroke-width="3.0" stroke-linejoin="round" stroke-linecap="round"/>
<polyline points="503.2,333.9 504.3,322.4 505.4,330.6 506.5,330.6 507.6,319.7 508.7,332.4 509.8,323.2 510.9,316.0 512.0,327.0 513.1,329.3 514.2,335.9 515.3,327.8 516.4,339.3 517.5,339.1 518.6,337.1 519.7,338.4 520.8,332.7 521.9,327.4 523.0,334.4 524.1,336.3 525.2,332.0 526.3,329.2 527.4,321.4 528.5,334.6 529.6,332.7 530.7,323.0 531.8,331.2 532.9,334.9 534.0,330.0 535.1,335.2 536.2,335.1 537.3,321.9 538.4,323.5 539.5,326.4 540.6,328.3 541.7,331.0 542.8,311.4 543.9,322.2 545.0,326.9 546.1,329.9 547.2,332.6 548.3,317.1 549.4,320.4 550.5,316.4 551.6,327.4 552.7,314.8 553.8,329.6 554.9,328.2 556.0,325.5 557.1,309.8 558.2,318.6 559.3,327.0 560.4,314.3 561.5,321.2 562.6,322.0 563.7,327.9 564.8,324.3 565.9,324.2 567.0,320.0 568.1,322.7 569.2,321.8 570.3,326.9 571.4,321.6 572.5,328.7 573.6,312.6 574.7,329.7 575.8,321.6 576.9,329.3 578.0,323.1 579.1,327.7 580.2,331.4 581.3,319.4 582.4,323.1 583.5,321.6 584.6,323.8 585.7,313.1 586.8,321.6 587.9,321.1 589.0,318.0 590.1,321.5 591.2,313.5 592.3,330.9 593.4,325.3 594.5,333.7 595.6,317.5 596.7,315.7 597.8,324.3 598.9,312.8 600.0,323.9 601.1,318.5 602.2,320.6 603.3,324.1 604.4,322.9 605.5,333.6 606.6,329.0 607.7,320.4 608.8,335.1 609.9,322.1 611.0,330.8 612.1,323.1 613.2,325.7 614.3,338.3 615.4,327.3 616.5,326.8 617.6,327.3 618.7,328.8 619.8,339.1 620.9,323.6 622.0,323.3 623.1,334.0 624.2,321.2 625.3,328.4 626.4,337.3 627.5,330.6 628.6,327.7 629.7,326.4 630.8,325.2 631.9,327.1 633.0,331.4 634.1,337.9 635.2,336.3 636.3,327.2 637.4,326.2 638.5,334.6 639.6,319.9 640.7,327.9 641.8,328.6 642.9,324.0 644.0,324.7 645.1,332.6 646.2,320.8 647.3,325.1 648.4,326.7 649.5,331.0 650.6,322.4 651.7,336.9 652.8,328.7 653.9,328.9 655.0,328.3 656.1,326.5 657.2,324.7 658.3,337.2 659.4,331.7 660.5,329.8 661.6,336.3 662.7,326.3 663.8,334.1 664.9,330.6 666.0,325.2 667.1,334.9 668.2,321.6 669.3,334.2 670.4,325.2 671.5,332.8 672.6,338.5 673.7,333.7" fill="none" stroke="#000" stroke-width="3.0" stroke-linejoin="round" stroke-linecap="round"/>
<polyline points="503.2,329.3 504.3,324.4 505.4,324.0 506.5,327.3 507.6,319.0 508.7,315.1 509.8,336.1 510.9,327.2 512.0,334.6 513.1,328.6 514.2,328.7 515.3,331.9 516.4,332.2 517.5,320.5 518.6,335.1 519.7,321.9 520.8,329.1 521.9,343.3 523.0,328.3 524.1,337.9 525.2,325.7 526.3,331.5 527.4,328.1 528.5,330.3 529.6,322.6 530.7,322.3 531.8,329.8 532.9,318.4 534.0,322.7 535.1,331.7 536.2,324.1 537.3,322.4 538.4,332.5 539.5,345.9 540.6,345.7 541.7,350.2 542.8,349.0 543.9,361.6 545.0,348.0 546.1,338.9 547.2,351.5 548.3,350.8 549.4,351.7 550.5,341.1 551.6,357.6 552.7,350.6 553.8,350.5 554.9,341.3 556.0,353.7 557.1,350.4 558.2,359.0 559.3,348.3 560.4,343.4 561.5,351.6 562.6,345.3 563.7,353.3 564.8,344.3 565.9,350.0 567.0,349.5 568.1,350.6 569.2,347.7 570.3,345.9 571.4,350.5 572.5,347.3 573.6,351.7 574.7,349.2 575.8,337.3 576.9,350.4 578.0,359.2 579.1,352.7 580.2,354.4 581.3,353.6 582.4,348.0 583.5,342.8 584.6,355.7 585.7,357.2 586.8,354.2 587.9,353.4 589.0,353.2 590.1,350.7 591.2,352.5 592.3,350.9 593.4,352.8 594.5,345.2 595.6,347.0 596.7,354.2 597.8,348.8 598.9,336.3 600.0,351.5 601.1,337.2 602.2,362.2 603.3,355.1 604.4,354.8 605.5,346.9 606.6,338.9 607.7,338.3 608.8,336.1 609.9,329.2 611.0,333.3 612.1,335.4 613.2,334.1 614.3,323.8 615.4,316.7 616.5,329.2 617.6,325.0 618.7,331.4 619.8,338.3 620.9,338.2 622.0,330.0 623.1,334.8 624.2,337.9 625.3,328.4 626.4,329.7 627.5,333.1 628.6,327.8 629.7,325.0 630.8,323.5 631.9,328.0 633.0,324.3 634.1,332.7 635.2,326.0 636.3,336.6 637.4,335.1 638.5,320.6 639.6,334.3 640.7,325.6 641.8,336.0 642.9,331.0 644.0,327.7 645.1,331.9 646.2,324.7 647.3,329.9 648.4,330.2 649.5,327.1 650.6,330.2 651.7,322.1 652.8,331.2 653.9,320.8 655.0,331.6 656.1,330.8 657.2,332.2 658.3,324.7 659.4,345.9 660.5,326.7 661.6,328.9 662.7,323.6 663.8,336.4 664.9,325.3 666.0,333.9 667.1,322.5 668.2,329.9 669.3,325.9 670.4,333.5 671.5,326.3 672.6,323.0 673.7,330.7" fill="none" stroke="#000" stroke-width="3.0" stroke-linejoin="round" stroke-linecap="round"/>
<polyline points="503.2,321.3 504.3,328.0 505.4,331.4 506.5,328.2 507.6,321.2 508.7,330.7 509.8,327.3 510.9,329.7 512.0,333.1 513.1,320.9 514.2,325.4 515.3,322.7 516.4,321.1 517.5,338.1 518.6,331.8 519.7,315.8 520.8,328.7 521.9,323.0 523.0,333.0 524.1,326.8 525.2,325.2 526.3,327.1 527.4,328.5 528.5,326.4 529.6,325.0 530.7,325.4 531.8,329.3 532.9,319.6 534.0,326.2 535.1,325.5 536.2,323.4 537.3,330.6 538.4,345.8 539.5,364.4 540.6,368.0 541.7,379.4 542.8,375.1 543.9,379.0 545.0,381.5 546.1,370.2 547.2,382.6 548.3,375.7 549.4,378.9 550.5,379.9 551.6,385.5 552.7,385.3 553.8,391.6 554.9,382.4 556.0,378.7 557.1,378.8 558.2,385.8 559.3,391.6 560.4,384.3 561.5,379.1 562.6,384.3 563.7,384.4 564.8,383.3 565.9,378.9 567.0,368.5 568.1,380.5 569.2,390.0 570.3,385.3 571.4,371.2 572.5,384.4 573.6,373.7 574.7,396.5 575.8,386.1 576.9,378.1 578.0,390.1 579.1,381.0 580.2,389.1 581.3,386.1 582.4,379.2 583.5,390.2 584.6,378.7 585.7,394.6 586.8,387.3 587.9,381.0 589.0,376.6 590.1,397.0 591.2,396.2 592.3,380.5 593.4,397.8 594.5,389.3 595.6,387.1 596.7,388.1 597.8,387.3 598.9,397.5 600.0,390.1 601.1,378.6 602.2,401.9 603.3,395.0 604.4,383.6 605.5,388.1 606.6,367.5 607.7,353.8 608.8,345.6 609.9,339.0 611.0,330.7 612.1,327.4 613.2,335.7 614.3,329.1 615.4,342.2 616.5,323.7 617.6,332.6 618.7,327.9 619.8,322.9 620.9,335.2 622.0,327.7 623.1,321.6 624.2,324.8 625.3,332.6 626.4,319.4 627.5,334.6 628.6,330.5 629.7,324.8 630.8,334.4 631.9,336.7 633.0,329.9 634.1,327.4 635.2,337.2 636.3,335.1 637.4,320.8 638.5,325.1 639.6,325.0 640.7,323.8 641.8,317.4 642.9,331.6 644.0,326.8 645.1,326.9 646.2,334.6 647.3,322.9 648.4,325.9 649.5,327.9 650.6,323.7 651.7,325.6 652.8,330.8 653.9,326.2 655.0,334.1 656.1,321.8 657.2,327.4 658.3,317.8 659.4,325.6 660.5,322.1 661.6,334.3 662.7,330.7 663.8,329.3 664.9,337.2 666.0,334.8 667.1,330.5 668.2,322.2 669.3,317.7 670.4,326.1 671.5,324.2 672.6,322.4 673.7,324.5" fill="none" stroke="#d04838" stroke-width="3.7" stroke-linejoin="round" stroke-linecap="round"/>
<polyline points="503.2,321.3 504.3,328.0 505.4,331.4 506.5,328.2 507.6,321.2 508.7,330.7 509.8,327.3 510.9,329.7 512.0,333.1 513.1,320.9 514.2,325.4 515.3,322.7 516.4,321.1 517.5,338.1 518.6,331.8 519.7,315.8 520.8,328.7 521.9,323.0 523.0,333.0 524.1,326.8 525.2,325.2 526.3,327.1 527.4,328.5 528.5,326.4 529.6,325.0 530.7,325.4 531.8,329.3 532.9,319.6 534.0,326.2 535.1,325.5 536.2,323.4 537.3,330.6 538.4,345.8 539.5,364.4 540.6,368.0 541.7,379.4 542.8,375.1 543.9,379.0 545.0,381.5 546.1,370.2 547.2,382.6 548.3,375.7 549.4,378.9 550.5,379.9 551.6,385.5 552.7,385.3 553.8,391.6 554.9,382.4 556.0,378.7 557.1,378.8 558.2,385.8 559.3,391.6 560.4,384.3 561.5,379.1 562.6,384.3 563.7,384.4 564.8,383.3 565.9,378.9 567.0,368.5 568.1,380.5 569.2,390.0 570.3,385.3 571.4,371.2 572.5,384.4 573.6,373.7 574.7,396.5 575.8,386.1 576.9,378.1 578.0,390.1 579.1,381.0 580.2,389.1 581.3,386.1 582.4,379.2 583.5,390.2 584.6,378.7 585.7,394.6 586.8,387.3 587.9,381.0 589.0,376.6 590.1,397.0 591.2,396.2 592.3,380.5 593.4,397.8 594.5,389.3 595.6,387.1 596.7,388.1 597.8,387.3 598.9,397.5 600.0,390.1 601.1,378.6 602.2,401.9 603.3,395.0 604.4,383.6 605.5,388.1 606.6,367.5 607.7,353.8 608.8,345.6 609.9,339.0 611.0,330.7 612.1,327.4 613.2,335.7 614.3,329.1 615.4,342.2 616.5,323.7 617.6,332.6 618.7,327.9 619.8,322.9 620.9,335.2 622.0,327.7 623.1,321.6 624.2,324.8 625.3,332.6 626.4,319.4 627.5,334.6 628.6,330.5 629.7,324.8 630.8,334.4 631.9,336.7 633.0,329.9 634.1,327.4 635.2,337.2 636.3,335.1 637.4,320.8 638.5,325.1 639.6,325.0 640.7,323.8 641.8,317.4 642.9,331.6 644.0,326.8 645.1,326.9 646.2,334.6 647.3,322.9 648.4,325.9 649.5,327.9 650.6,323.7 651.7,325.6 652.8,330.8 653.9,326.2 655.0,334.1 656.1,321.8 657.2,327.4 658.3,317.8 659.4,325.6 660.5,322.1 661.6,334.3 662.7,330.7 663.8,329.3 664.9,337.2 666.0,334.8 667.1,330.5 668.2,322.2 669.3,317.7 670.4,326.1 671.5,324.2 672.6,322.4 673.7,324.5" fill="none" stroke="#06be06" stroke-width="3.0" stroke-linejoin="round" stroke-linecap="round"/>
<polyline points="133.8,497.7 135.1,496.3 136.4,499.0 137.7,499.0 139.0,495.9 140.3,496.1 141.6,498.1 142.9,498.3 144.2,492.8 145.5,501.0 146.8,498.8 148.1,498.7 149.4,499.4 150.7,496.4 152.0,498.6 153.3,501.1 154.6,501.2 155.9,499.8 157.2,498.1 158.5,496.9 159.8,501.8 161.1,500.0 162.4,497.8 163.7,493.7 165.0,496.7 166.3,494.3 167.6,501.6 168.9,480.3 170.2,473.0 171.5,472.6 172.8,478.9 174.1,475.6 175.4,469.6 176.7,472.4 178.0,469.9 179.3,468.7 180.6,473.2 181.9,478.4 183.2,476.4 184.5,472.9 185.8,471.9 187.1,473.2 188.4,475.2 189.7,469.3 191.0,468.4 192.3,477.1 193.6,473.4 194.9,476.5 196.2,473.3 197.5,476.2 198.8,471.3 200.1,473.9 201.4,476.4 202.7,475.1 204.0,471.7 205.3,474.8 206.6,471.2 207.9,469.4 209.2,474.0 210.5,476.0 211.8,474.7 213.1,469.8 214.4,474.8 215.7,474.3 217.0,471.7 218.3,466.9 219.6,475.1 220.9,474.8 222.2,473.9 223.5,468.7 224.8,469.2 226.1,475.1 227.4,474.6 228.7,473.9 230.0,472.2 231.3,473.7 232.6,471.5 233.9,472.0 235.2,470.7 236.5,473.4 237.8,471.8 239.1,492.0 240.4,498.9 241.7,498.6 243.0,506.2 244.3,499.7 245.6,503.5 246.9,504.9 248.2,505.1 249.5,496.5 250.8,503.8 252.1,504.0 253.4,504.3 254.7,495.3 256.0,498.7 257.3,499.9 258.6,498.9 259.9,502.9 261.2,498.0 262.5,502.4 263.8,500.7 265.1,495.8 266.4,496.8 267.7,498.0 269.0,499.3 270.3,501.4 271.6,498.5 272.9,501.1 274.2,495.2 275.5,491.6 276.8,498.1 278.1,499.9 279.4,498.0 280.7,496.4 282.0,499.8 283.3,503.4 284.6,498.5 285.9,497.0 287.2,496.8 288.5,503.4 289.8,498.7 291.1,500.2 292.4,501.7 293.7,501.3 295.0,496.6 296.3,501.0 297.6,500.8 298.9,499.9 300.2,501.2 301.5,497.4 302.8,498.6 304.1,497.5" fill="none" stroke="#000" stroke-width="3.0" stroke-linejoin="round" stroke-linecap="round"/>
<polyline points="133.8,499.3 135.1,497.1 136.4,496.3 137.7,498.5 139.0,496.5 140.3,502.1 141.6,495.6 142.9,498.4 144.2,496.8 145.5,495.0 146.8,503.0 148.1,493.1 149.4,502.5 150.7,494.9 152.0,498.9 153.3,504.6 154.6,493.0 155.9,495.0 157.2,502.1 158.5,499.1 159.8,497.2 161.1,498.6 162.4,496.1 163.7,499.0 165.0,502.6 166.3,497.6 167.6,499.0 168.9,488.0 170.2,486.3 171.5,478.5 172.8,480.5 174.1,478.2 175.4,478.0 176.7,478.6 178.0,478.0 179.3,475.1 180.6,474.4 181.9,477.7 183.2,480.0 184.5,482.8 185.8,478.3 187.1,479.2 188.4,481.4 189.7,481.6 191.0,479.3 192.3,479.5 193.6,484.6 194.9,478.8 196.2,478.4 197.5,475.4 198.8,480.8 200.1,479.0 201.4,484.7 202.7,478.8 204.0,481.8 205.3,482.1 206.6,484.0 207.9,476.2 209.2,483.8 210.5,479.7 211.8,479.4 213.1,478.8 214.4,478.6 215.7,478.7 217.0,473.5 218.3,481.0 219.6,479.8 220.9,477.2 222.2,479.5 223.5,485.7 224.8,480.6 226.1,478.6 227.4,484.1 228.7,477.6 230.0,479.2 231.3,478.2 232.6,479.0 233.9,481.6 235.2,481.2 236.5,477.7 237.8,479.3 239.1,492.8 240.4,497.3 241.7,500.8 243.0,500.1 244.3,500.5 245.6,502.5 246.9,499.5 248.2,503.0 249.5,501.1 250.8,498.9 252.1,499.4 253.4,499.5 254.7,500.0 256.0,500.5 257.3,499.5 258.6,497.5 259.9,503.4 261.2,501.9 262.5,499.7 263.8,501.7 265.1,500.0 266.4,498.4 267.7,499.2 269.0,505.9 270.3,501.5 271.6,501.6 272.9,497.8 274.2,500.3 275.5,504.6 276.8,499.8 278.1,501.5 279.4,502.0 280.7,500.4 282.0,502.8 283.3,499.3 284.6,500.0 285.9,497.0 287.2,505.5 288.5,499.4 289.8,498.9 291.1,502.3 292.4,497.4 293.7,498.6 295.0,496.6 296.3,498.7 297.6,497.6 298.9,500.0 300.2,498.3 301.5,497.1 302.8,497.9 304.1,498.3" fill="none" stroke="#000" stroke-width="3.0" stroke-linejoin="round" stroke-linecap="round"/>
<polyline points="133.8,500.4 135.1,501.4 136.4,498.1 137.7,497.0 139.0,499.4 140.3,492.6 141.6,500.5 142.9,502.0 144.2,499.7 145.5,498.9 146.8,502.3 148.1,499.3 149.4,502.0 150.7,505.1 152.0,501.3 153.3,501.9 154.6,500.7 155.9,500.1 157.2,500.2 158.5,499.6 159.8,502.2 161.1,495.3 162.4,498.8 163.7,501.1 165.0,497.3 166.3,499.2 167.6,497.7 168.9,491.9 170.2,490.6 171.5,491.4 172.8,488.8 174.1,485.6 175.4,488.1 176.7,488.9 178.0,491.1 179.3,482.0 180.6,488.4 181.9,482.8 183.2,489.3 184.5,488.6 185.8,488.7 187.1,489.7 188.4,488.4 189.7,485.8 191.0,488.4 192.3,490.5 193.6,487.2 194.9,487.5 196.2,484.3 197.5,490.4 198.8,486.2 200.1,485.6 201.4,486.3 202.7,485.3 204.0,486.8 205.3,490.7 206.6,489.5 207.9,491.1 209.2,491.3 210.5,485.2 211.8,488.7 213.1,491.3 214.4,493.3 215.7,483.8 217.0,483.8 218.3,488.7 219.6,486.6 220.9,484.9 222.2,488.4 223.5,485.4 224.8,481.6 226.1,487.4 227.4,487.8 228.7,489.1 230.0,489.9 231.3,487.9 232.6,486.8 233.9,485.7 235.2,483.2 236.5,486.3 237.8,490.0 239.1,498.0 240.4,505.6 241.7,501.9 243.0,498.5 244.3,505.4 245.6,505.9 246.9,500.0 248.2,498.6 249.5,502.8 250.8,504.0 252.1,499.0 253.4,500.7 254.7,499.3 256.0,498.0 257.3,497.4 258.6,501.0 259.9,499.5 261.2,498.6 262.5,493.5 263.8,504.5 265.1,497.5 266.4,499.5 267.7,496.9 269.0,500.7 270.3,495.8 271.6,499.9 272.9,499.1 274.2,501.9 275.5,496.7 276.8,497.9 278.1,498.9 279.4,504.9 280.7,495.7 282.0,500.2 283.3,497.8 284.6,500.3 285.9,501.1 287.2,499.8 288.5,500.1 289.8,500.2 291.1,497.9 292.4,498.9 293.7,495.2 295.0,498.5 296.3,497.5 297.6,498.8 298.9,501.3 300.2,500.4 301.5,500.6 302.8,502.2 304.1,493.3" fill="none" stroke="#000" stroke-width="3.0" stroke-linejoin="round" stroke-linecap="round"/>
<polyline points="133.8,498.1 135.1,491.3 136.4,493.3 137.7,491.9 139.0,499.2 140.3,491.1 141.6,492.7 142.9,497.5 144.2,496.3 145.5,501.5 146.8,500.6 148.1,497.3 149.4,497.5 150.7,490.9 152.0,493.4 153.3,494.8 154.6,495.2 155.9,492.1 157.2,493.2 158.5,493.5 159.8,498.5 161.1,496.8 162.4,494.8 163.7,495.0 165.0,496.5 166.3,493.9 167.6,495.0 168.9,487.5 170.2,492.9 171.5,493.4 172.8,491.7 174.1,492.0 175.4,491.7 176.7,496.1 178.0,491.2 179.3,487.2 180.6,487.9 181.9,492.6 183.2,493.5 184.5,492.7 185.8,492.9 187.1,491.2 188.4,486.8 189.7,488.8 191.0,485.9 192.3,489.7 193.6,487.1 194.9,491.0 196.2,490.2 197.5,485.5 198.8,492.6 200.1,492.7 201.4,487.0 202.7,491.1 204.0,492.6 205.3,489.9 206.6,493.0 207.9,491.2 209.2,493.5 210.5,491.2 211.8,490.2 213.1,492.0 214.4,492.8 215.7,491.3 217.0,489.5 218.3,488.6 219.6,489.7 220.9,489.2 222.2,491.2 223.5,491.1 224.8,490.4 226.1,490.7 227.4,491.1 228.7,494.8 230.0,493.9 231.3,489.1 232.6,491.8 233.9,489.8 235.2,490.4 236.5,490.0 237.8,489.0 239.1,491.8 240.4,491.3 241.7,499.5 243.0,502.6 244.3,497.2 245.6,500.8 246.9,498.2 248.2,499.7 249.5,496.5 250.8,497.7 252.1,497.8 253.4,491.4 254.7,498.1 256.0,496.9 257.3,490.4 258.6,498.6 259.9,496.6 261.2,497.1 262.5,497.3 263.8,495.2 265.1,493.3 266.4,494.9 267.7,494.9 269.0,501.9 270.3,500.8 271.6,494.6 272.9,494.7 274.2,496.7 275.5,497.3 276.8,493.9 278.1,493.0 279.4,500.9 280.7,498.5 282.0,491.5 283.3,490.9 284.6,493.5 285.9,496.3 287.2,497.1 288.5,494.7 289.8,491.3 291.1,496.2 292.4,497.3 293.7,495.6 295.0,494.3 296.3,497.2 297.6,495.5 298.9,492.6 300.2,495.9 301.5,492.1 302.8,498.2 304.1,496.9" fill="none" stroke="#000" stroke-width="3.0" stroke-linejoin="round" stroke-linecap="round"/>
<polyline points="133.8,497.5 135.1,501.1 136.4,504.5 137.7,497.0 139.0,493.7 140.3,500.3 141.6,498.3 142.9,498.8 144.2,501.3 145.5,498.6 146.8,495.3 148.1,493.9 149.4,498.3 150.7,495.7 152.0,499.1 153.3,495.5 154.6,497.6 155.9,495.0 157.2,497.6 158.5,497.4 159.8,499.8 161.1,501.6 162.4,498.0 163.7,496.4 165.0,503.0 166.3,499.3 167.6,499.9 168.9,512.8 170.2,520.8 171.5,522.6 172.8,523.3 174.1,524.3 175.4,521.1 176.7,522.0 178.0,523.5 179.3,524.3 180.6,524.4 181.9,525.3 183.2,524.9 184.5,524.0 185.8,521.5 187.1,527.4 188.4,527.1 189.7,523.8 191.0,527.2 192.3,527.2 193.6,526.6 194.9,522.3 196.2,523.9 197.5,525.5 198.8,530.8 200.1,525.2 201.4,526.5 202.7,524.9 204.0,526.5 205.3,528.5 206.6,523.0 207.9,521.3 209.2,529.6 210.5,528.3 211.8,526.9 213.1,530.7 214.4,530.8 215.7,523.7 217.0,528.3 218.3,531.4 219.6,527.3 220.9,528.2 222.2,531.2 223.5,528.4 224.8,526.3 226.1,527.6 227.4,526.2 228.7,530.6 230.0,525.4 231.3,531.8 232.6,525.7 233.9,529.7 235.2,526.2 236.5,528.9 237.8,532.1 239.1,515.2 240.4,509.8 241.7,504.1 243.0,503.2 244.3,502.6 245.6,502.7 246.9,499.8 248.2,502.9 249.5,500.7 250.8,502.3 252.1,500.5 253.4,500.8 254.7,497.4 256.0,498.0 257.3,495.8 258.6,498.1 259.9,498.3 261.2,500.6 262.5,495.7 263.8,506.2 265.1,498.3 266.4,501.5 267.7,500.9 269.0,492.6 270.3,497.9 271.6,501.9 272.9,492.8 274.2,500.3 275.5,496.3 276.8,497.4 278.1,499.0 279.4,494.1 280.7,498.9 282.0,496.9 283.3,496.7 284.6,500.1 285.9,506.7 287.2,499.2 288.5,499.7 289.8,498.3 291.1,496.7 292.4,499.0 293.7,502.0 295.0,498.9 296.3,500.5 297.6,497.9 298.9,504.3 300.2,494.6 301.5,499.8 302.8,499.7 304.1,499.1" fill="none" stroke="#000" stroke-width="3.0" stroke-linejoin="round" stroke-linecap="round"/>
<polyline points="133.8,500.1 135.1,502.3 136.4,499.5 137.7,495.6 139.0,498.4 140.3,500.6 141.6,495.8 142.9,495.7 144.2,499.8 145.5,496.9 146.8,500.9 148.1,496.3 149.4,494.7 150.7,497.3 152.0,502.9 153.3,497.1 154.6,499.2 155.9,499.9 157.2,496.9 158.5,501.9 159.8,499.7 161.1,500.3 162.4,495.1 163.7,494.9 165.0,492.4 166.3,498.8 167.6,498.7 168.9,521.8 170.2,535.5 171.5,538.2 172.8,542.5 174.1,547.1 175.4,551.8 176.7,547.6 178.0,552.5 179.3,551.4 180.6,552.3 181.9,556.0 183.2,553.0 184.5,553.1 185.8,558.2 187.1,557.3 188.4,557.4 189.7,558.4 191.0,560.6 192.3,559.1 193.6,562.5 194.9,562.3 196.2,565.4 197.5,565.4 198.8,564.9 200.1,562.8 201.4,564.0 202.7,562.7 204.0,571.6 205.3,564.5 206.6,566.7 207.9,569.1 209.2,562.7 210.5,564.4 211.8,565.8 213.1,564.6 214.4,564.2 215.7,566.3 217.0,571.0 218.3,569.9 219.6,568.4 220.9,568.7 222.2,564.7 223.5,570.7 224.8,570.3 226.1,566.7 227.4,570.1 228.7,569.3 230.0,568.6 231.3,567.6 232.6,568.6 233.9,568.0 235.2,571.6 236.5,571.5 237.8,571.6 239.1,536.8 240.4,524.0 241.7,525.1 243.0,513.0 244.3,519.0 245.6,515.8 246.9,514.1 248.2,511.7 249.5,511.5 250.8,508.4 252.1,507.1 253.4,509.5 254.7,505.1 256.0,510.6 257.3,510.7 258.6,498.9 259.9,503.1 261.2,507.1 262.5,506.5 263.8,505.8 265.1,506.2 266.4,506.6 267.7,506.6 269.0,508.5 270.3,503.9 271.6,505.6 272.9,499.2 274.2,502.7 275.5,499.8 276.8,506.0 278.1,508.1 279.4,503.5 280.7,498.8 282.0,501.5 283.3,501.7 284.6,502.0 285.9,504.0 287.2,503.6 288.5,494.6 289.8,504.4 291.1,499.7 292.4,499.4 293.7,504.2 295.0,499.9 296.3,497.1 297.6,497.2 298.9,500.5 300.2,502.5 301.5,503.9 302.8,499.8 304.1,499.0" fill="none" stroke="#d04838" stroke-width="3.7" stroke-linejoin="round" stroke-linecap="round"/>
<polyline points="133.8,500.1 135.1,502.3 136.4,499.5 137.7,495.6 139.0,498.4 140.3,500.6 141.6,495.8 142.9,495.7 144.2,499.8 145.5,496.9 146.8,500.9 148.1,496.3 149.4,494.7 150.7,497.3 152.0,502.9 153.3,497.1 154.6,499.2 155.9,499.9 157.2,496.9 158.5,501.9 159.8,499.7 161.1,500.3 162.4,495.1 163.7,494.9 165.0,492.4 166.3,498.8 167.6,498.7 168.9,521.8 170.2,535.5 171.5,538.2 172.8,542.5 174.1,547.1 175.4,551.8 176.7,547.6 178.0,552.5 179.3,551.4 180.6,552.3 181.9,556.0 183.2,553.0 184.5,553.1 185.8,558.2 187.1,557.3 188.4,557.4 189.7,558.4 191.0,560.6 192.3,559.1 193.6,562.5 194.9,562.3 196.2,565.4 197.5,565.4 198.8,564.9 200.1,562.8 201.4,564.0 202.7,562.7 204.0,571.6 205.3,564.5 206.6,566.7 207.9,569.1 209.2,562.7 210.5,564.4 211.8,565.8 213.1,564.6 214.4,564.2 215.7,566.3 217.0,571.0 218.3,569.9 219.6,568.4 220.9,568.7 222.2,564.7 223.5,570.7 224.8,570.3 226.1,566.7 227.4,570.1 228.7,569.3 230.0,568.6 231.3,567.6 232.6,568.6 233.9,568.0 235.2,571.6 236.5,571.5 237.8,571.6 239.1,536.8 240.4,524.0 241.7,525.1 243.0,513.0 244.3,519.0 245.6,515.8 246.9,514.1 248.2,511.7 249.5,511.5 250.8,508.4 252.1,507.1 253.4,509.5 254.7,505.1 256.0,510.6 257.3,510.7 258.6,498.9 259.9,503.1 261.2,507.1 262.5,506.5 263.8,505.8 265.1,506.2 266.4,506.6 267.7,506.6 269.0,508.5 270.3,503.9 271.6,505.6 272.9,499.2 274.2,502.7 275.5,499.8 276.8,506.0 278.1,508.1 279.4,503.5 280.7,498.8 282.0,501.5 283.3,501.7 284.6,502.0 285.9,504.0 287.2,503.6 288.5,494.6 289.8,504.4 291.1,499.7 292.4,499.4 293.7,504.2 295.0,499.9 296.3,497.1 297.6,497.2 298.9,500.5 300.2,502.5 301.5,503.9 302.8,499.8 304.1,499.0" fill="none" stroke="#06be06" stroke-width="3.0" stroke-linejoin="round" stroke-linecap="round"/>
<polyline points="317.8,504.9 319.1,509.5 320.4,506.8 321.7,517.3 323.0,506.3 324.3,506.4 325.6,511.7 326.9,512.2 328.2,503.3 329.5,509.8 330.8,511.5 332.1,505.7 333.4,511.0 334.7,507.6 336.0,506.3 337.3,508.1 338.6,507.8 339.9,505.3 341.2,515.3 342.5,507.8 343.8,507.0 345.1,511.4 346.4,508.9 347.7,512.8 349.0,508.4 350.3,510.1 351.6,509.3 352.9,498.0 354.2,483.4 355.5,477.9 356.8,480.4 358.1,472.8 359.4,472.7 360.7,473.0 362.0,475.4 363.3,474.8 364.6,476.2 365.9,469.9 367.2,474.3 368.5,473.0 369.8,472.6 371.1,473.8 372.4,467.9 373.7,474.0 375.0,473.6 376.3,469.2 377.6,472.8 378.9,477.3 380.2,471.9 381.5,474.6 382.8,472.3 384.1,470.6 385.4,470.2 386.7,471.6 388.0,476.2 389.3,474.8 390.6,470.6 391.9,475.2 393.2,472.1 394.5,470.5 395.8,473.5 397.1,469.8 398.4,467.9 399.7,475.7 401.0,467.1 402.3,473.5 403.6,467.8 404.9,471.8 406.2,471.3 407.5,470.6 408.8,465.8 410.1,471.4 411.4,471.5 412.7,469.1 414.0,471.3 415.3,474.2 416.6,469.5 417.9,472.1 419.2,468.2 420.5,472.3 421.8,473.0 423.1,492.5 424.4,495.9 425.7,498.7 427.0,503.6 428.3,498.3 429.6,504.7 430.9,500.7 432.2,500.8 433.5,505.7 434.8,503.6 436.1,506.7 437.4,499.3 438.7,504.1 440.0,502.0 441.3,502.9 442.6,498.5 443.9,506.4 445.2,504.5 446.5,501.3 447.8,500.4 449.1,501.8 450.4,508.1 451.7,504.1 453.0,503.5 454.3,505.9 455.6,504.6 456.9,505.3 458.2,506.8 459.5,505.7 460.8,507.3 462.1,501.7 463.4,505.1 464.7,504.1 466.0,505.4 467.3,505.0 468.6,503.5 469.9,504.3 471.2,507.9 472.5,503.8 473.8,502.0 475.1,507.0 476.4,508.1 477.7,504.7 479.0,505.9 480.3,503.3 481.6,505.0 482.9,508.6 484.2,507.8 485.5,506.1 486.8,504.9 488.1,501.3" fill="none" stroke="#000" stroke-width="3.0" stroke-linejoin="round" stroke-linecap="round"/>
<polyline points="317.8,506.5 319.1,506.0 320.4,509.3 321.7,508.6 323.0,506.4 324.3,509.3 325.6,509.2 326.9,508.1 328.2,514.8 329.5,511.1 330.8,509.8 332.1,510.3 333.4,514.9 334.7,510.5 336.0,506.3 337.3,508.7 338.6,508.1 339.9,506.6 341.2,508.6 342.5,508.5 343.8,507.8 345.1,506.8 346.4,509.9 347.7,504.2 349.0,509.9 350.3,508.0 351.6,508.6 352.9,493.5 354.2,492.5 355.5,480.1 356.8,480.2 358.1,483.0 359.4,479.7 360.7,480.0 362.0,475.6 363.3,479.7 364.6,481.2 365.9,482.3 367.2,480.0 368.5,481.1 369.8,481.6 371.1,478.9 372.4,478.7 373.7,485.0 375.0,478.4 376.3,483.3 377.6,480.5 378.9,483.7 380.2,478.8 381.5,481.4 382.8,481.0 384.1,479.6 385.4,480.8 386.7,478.3 388.0,479.8 389.3,479.1 390.6,481.7 391.9,479.7 393.2,476.6 394.5,479.0 395.8,479.6 397.1,477.6 398.4,482.9 399.7,480.6 401.0,481.6 402.3,477.8 403.6,478.6 404.9,481.9 406.2,476.1 407.5,480.3 408.8,479.6 410.1,478.2 411.4,479.6 412.7,476.8 414.0,479.8 415.3,476.4 416.6,476.2 417.9,482.5 419.2,477.5 420.5,474.1 421.8,481.3 423.1,488.4 424.4,487.8 425.7,499.1 427.0,503.2 428.3,502.8 429.6,506.6 430.9,502.6 432.2,504.5 433.5,500.9 434.8,503.8 436.1,507.2 437.4,504.9 438.7,504.2 440.0,499.2 441.3,503.1 442.6,501.0 443.9,506.0 445.2,502.5 446.5,505.2 447.8,502.0 449.1,508.9 450.4,501.8 451.7,504.9 453.0,510.8 454.3,505.2 455.6,502.7 456.9,506.3 458.2,507.2 459.5,507.0 460.8,500.3 462.1,505.5 463.4,500.0 464.7,509.6 466.0,505.3 467.3,504.1 468.6,506.8 469.9,506.4 471.2,502.5 472.5,509.2 473.8,504.8 475.1,501.2 476.4,508.7 477.7,509.1 479.0,508.4 480.3,506.8 481.6,503.4 482.9,507.8 484.2,510.0 485.5,507.5 486.8,509.4 488.1,503.8" fill="none" stroke="#000" stroke-width="3.0" stroke-linejoin="round" stroke-linecap="round"/>
<polyline points="317.8,507.9 319.1,511.0 320.4,501.5 321.7,502.0 323.0,511.1 324.3,503.5 325.6,508.4 326.9,504.3 328.2,509.5 329.5,509.5 330.8,508.0 332.1,509.7 333.4,507.7 334.7,509.0 336.0,512.2 337.3,510.4 338.6,505.9 339.9,505.5 341.2,507.0 342.5,507.0 343.8,507.7 345.1,506.0 346.4,509.2 347.7,507.7 349.0,508.5 350.3,507.6 351.6,509.1 352.9,497.6 354.2,496.6 355.5,490.0 356.8,488.9 358.1,488.7 359.4,489.6 360.7,488.6 362.0,487.3 363.3,486.2 364.6,482.5 365.9,487.2 367.2,485.9 368.5,485.9 369.8,492.8 371.1,481.9 372.4,486.8 373.7,489.8 375.0,489.1 376.3,489.8 377.6,483.5 378.9,484.2 380.2,488.3 381.5,485.9 382.8,491.1 384.1,487.3 385.4,487.2 386.7,487.8 388.0,486.0 389.3,487.0 390.6,485.0 391.9,486.6 393.2,485.5 394.5,487.4 395.8,483.1 397.1,482.9 398.4,487.9 399.7,487.3 401.0,484.3 402.3,486.1 403.6,484.0 404.9,491.9 406.2,482.7 407.5,491.1 408.8,484.6 410.1,487.8 411.4,486.0 412.7,485.7 414.0,489.1 415.3,488.8 416.6,486.0 417.9,484.4 419.2,492.0 420.5,490.3 421.8,487.1 423.1,494.2 424.4,500.1 425.7,501.9 427.0,506.0 428.3,501.2 429.6,504.1 430.9,502.3 432.2,507.8 433.5,509.2 434.8,504.5 436.1,506.2 437.4,508.5 438.7,504.3 440.0,502.7 441.3,507.8 442.6,506.5 443.9,504.8 445.2,509.1 446.5,506.0 447.8,500.9 449.1,506.4 450.4,505.4 451.7,510.4 453.0,505.6 454.3,505.2 455.6,506.9 456.9,506.4 458.2,502.3 459.5,506.2 460.8,505.1 462.1,509.5 463.4,512.1 464.7,503.2 466.0,503.6 467.3,503.9 468.6,504.4 469.9,504.4 471.2,506.3 472.5,509.0 473.8,502.9 475.1,502.3 476.4,501.6 477.7,509.1 479.0,509.7 480.3,502.4 481.6,502.2 482.9,506.7 484.2,509.1 485.5,509.0 486.8,506.9 488.1,508.1" fill="none" stroke="#000" stroke-width="3.0" stroke-linejoin="round" stroke-linecap="round"/>
<polyline points="317.8,506.5 319.1,508.3 320.4,505.6 321.7,507.0 323.0,506.4 324.3,505.9 325.6,509.5 326.9,506.7 328.2,504.9 329.5,505.9 330.8,507.8 332.1,513.2 333.4,508.4 334.7,511.5 336.0,509.0 337.3,502.2 338.6,508.7 339.9,505.5 341.2,504.2 342.5,504.9 343.8,512.3 345.1,503.6 346.4,506.1 347.7,510.7 349.0,509.4 350.3,503.3 351.6,507.4 352.9,503.1 354.2,500.1 355.5,500.9 356.8,496.8 358.1,497.1 359.4,501.6 360.7,493.0 362.0,496.7 363.3,498.9 364.6,494.4 365.9,496.0 367.2,494.2 368.5,498.0 369.8,495.9 371.1,499.6 372.4,500.2 373.7,497.6 375.0,496.5 376.3,498.1 377.6,497.6 378.9,494.3 380.2,500.2 381.5,498.0 382.8,499.4 384.1,493.8 385.4,499.6 386.7,502.8 388.0,498.9 389.3,493.5 390.6,497.3 391.9,497.1 393.2,497.8 394.5,496.6 395.8,498.5 397.1,496.0 398.4,497.7 399.7,495.3 401.0,497.4 402.3,499.7 403.6,495.8 404.9,498.8 406.2,494.7 407.5,496.0 408.8,496.4 410.1,500.2 411.4,495.0 412.7,500.1 414.0,493.1 415.3,496.5 416.6,499.2 417.9,498.7 419.2,494.2 420.5,493.6 421.8,499.1 423.1,497.5 424.4,504.4 425.7,502.7 427.0,504.6 428.3,511.1 429.6,509.3 430.9,507.7 432.2,502.0 433.5,506.6 434.8,506.0 436.1,505.7 437.4,509.5 438.7,501.6 440.0,507.0 441.3,506.5 442.6,504.3 443.9,510.8 445.2,503.1 446.5,506.5 447.8,506.7 449.1,500.9 450.4,502.9 451.7,504.2 453.0,508.8 454.3,509.2 455.6,508.4 456.9,507.5 458.2,501.2 459.5,507.5 460.8,505.6 462.1,510.0 463.4,510.5 464.7,512.9 466.0,508.9 467.3,509.2 468.6,504.5 469.9,507.4 471.2,504.0 472.5,509.6 473.8,504.1 475.1,506.7 476.4,505.2 477.7,506.1 479.0,508.5 480.3,505.9 481.6,507.9 482.9,504.8 484.2,511.0 485.5,505.7 486.8,510.1 488.1,513.0" fill="none" stroke="#000" stroke-width="3.0" stroke-linejoin="round" stroke-linecap="round"/>
<polyline points="317.8,506.2 319.1,508.6 320.4,511.7 321.7,512.0 323.0,509.1 324.3,510.7 325.6,508.6 326.9,511.1 328.2,508.6 329.5,509.3 330.8,507.6 332.1,508.3 333.4,513.0 334.7,505.3 336.0,508.3 337.3,506.8 338.6,510.7 339.9,512.8 341.2,507.5 342.5,501.4 343.8,509.8 345.1,509.8 346.4,504.1 347.7,507.7 349.0,508.1 350.3,502.5 351.6,510.0 352.9,513.3 354.2,517.9 355.5,517.1 356.8,519.3 358.1,520.2 359.4,523.5 360.7,520.3 362.0,526.8 363.3,524.4 364.6,518.3 365.9,528.3 367.2,524.8 368.5,523.3 369.8,525.3 371.1,520.8 372.4,526.1 373.7,519.8 375.0,523.7 376.3,530.0 377.6,530.1 378.9,526.4 380.2,525.1 381.5,530.2 382.8,528.0 384.1,529.0 385.4,530.3 386.7,526.4 388.0,531.4 389.3,524.4 390.6,533.7 391.9,526.4 393.2,529.1 394.5,529.3 395.8,533.1 397.1,533.5 398.4,532.8 399.7,533.6 401.0,533.7 402.3,532.7 403.6,528.4 404.9,527.7 406.2,528.0 407.5,534.0 408.8,533.8 410.1,534.4 411.4,535.6 412.7,534.8 414.0,533.2 415.3,532.2 416.6,531.5 417.9,539.7 419.2,539.2 420.5,533.8 421.8,536.9 423.1,531.6 424.4,531.2 425.7,524.0 427.0,524.9 428.3,526.7 429.6,518.9 430.9,520.9 432.2,522.1 433.5,520.0 434.8,526.7 436.1,523.1 437.4,521.0 438.7,517.7 440.0,521.9 441.3,521.0 442.6,517.7 443.9,517.6 445.2,514.7 446.5,517.9 447.8,519.9 449.1,520.0 450.4,518.6 451.7,518.9 453.0,515.1 454.3,515.1 455.6,519.1 456.9,517.0 458.2,513.6 459.5,516.6 460.8,517.2 462.1,516.7 463.4,515.0 464.7,513.2 466.0,515.3 467.3,518.4 468.6,514.3 469.9,512.1 471.2,514.4 472.5,510.3 473.8,513.8 475.1,512.3 476.4,515.3 477.7,513.0 479.0,515.3 480.3,518.3 481.6,511.8 482.9,510.1 484.2,513.3 485.5,511.8 486.8,512.2 488.1,510.2" fill="none" stroke="#000" stroke-width="3.0" stroke-linejoin="round" stroke-linecap="round"/>
<polyline points="317.8,506.8 319.1,506.4 320.4,510.2 321.7,504.2 323.0,499.9 324.3,506.5 325.6,508.1 326.9,504.4 328.2,508.9 329.5,509.5 330.8,503.1 332.1,503.5 333.4,501.5 334.7,506.2 336.0,506.7 337.3,506.4 338.6,501.6 339.9,502.8 341.2,501.0 342.5,500.6 343.8,501.3 345.1,500.6 346.4,504.3 347.7,505.9 349.0,506.4 350.3,504.7 351.6,503.0 352.9,514.0 354.2,528.9 355.5,534.4 356.8,540.0 358.1,542.2 359.4,543.8 360.7,546.9 362.0,545.3 363.3,552.3 364.6,546.6 365.9,553.0 367.2,549.3 368.5,557.9 369.8,557.3 371.1,553.9 372.4,555.9 373.7,555.1 375.0,558.8 376.3,561.0 377.6,567.6 378.9,558.2 380.2,566.0 381.5,562.1 382.8,565.2 384.1,567.7 385.4,567.7 386.7,568.2 388.0,567.4 389.3,568.7 390.6,570.0 391.9,573.5 393.2,567.3 394.5,570.6 395.8,569.4 397.1,570.9 398.4,572.1 399.7,577.8 401.0,581.3 402.3,579.9 403.6,573.9 404.9,577.9 406.2,575.4 407.5,580.2 408.8,583.1 410.1,581.9 411.4,583.3 412.7,581.3 414.0,577.1 415.3,577.7 416.6,583.2 417.9,585.6 419.2,588.0 420.5,584.3 421.8,586.0 423.1,568.5 424.4,564.0 425.7,558.3 427.0,554.2 428.3,558.9 429.6,556.3 430.9,555.5 432.2,550.5 433.5,553.1 434.8,547.9 436.1,546.4 437.4,550.4 438.7,549.2 440.0,551.2 441.3,552.8 442.6,548.3 443.9,552.5 445.2,545.7 446.5,548.6 447.8,542.7 449.1,545.7 450.4,544.0 451.7,543.7 453.0,545.2 454.3,538.2 455.6,542.9 456.9,539.9 458.2,541.8 459.5,542.0 460.8,539.5 462.1,539.0 463.4,536.4 464.7,540.4 466.0,536.7 467.3,539.1 468.6,533.8 469.9,540.6 471.2,533.9 472.5,539.1 473.8,534.5 475.1,536.6 476.4,534.4 477.7,536.1 479.0,533.9 480.3,536.8 481.6,534.8 482.9,534.5 484.2,536.6 485.5,530.1 486.8,534.9 488.1,531.3" fill="none" stroke="#d04838" stroke-width="3.7" stroke-linejoin="round" stroke-linecap="round"/>
<polyline points="317.8,506.8 319.1,506.4 320.4,510.2 321.7,504.2 323.0,499.9 324.3,506.5 325.6,508.1 326.9,504.4 328.2,508.9 329.5,509.5 330.8,503.1 332.1,503.5 333.4,501.5 334.7,506.2 336.0,506.7 337.3,506.4 338.6,501.6 339.9,502.8 341.2,501.0 342.5,500.6 343.8,501.3 345.1,500.6 346.4,504.3 347.7,505.9 349.0,506.4 350.3,504.7 351.6,503.0 352.9,514.0 354.2,528.9 355.5,534.4 356.8,540.0 358.1,542.2 359.4,543.8 360.7,546.9 362.0,545.3 363.3,552.3 364.6,546.6 365.9,553.0 367.2,549.3 368.5,557.9 369.8,557.3 371.1,553.9 372.4,555.9 373.7,555.1 375.0,558.8 376.3,561.0 377.6,567.6 378.9,558.2 380.2,566.0 381.5,562.1 382.8,565.2 384.1,567.7 385.4,567.7 386.7,568.2 388.0,567.4 389.3,568.7 390.6,570.0 391.9,573.5 393.2,567.3 394.5,570.6 395.8,569.4 397.1,570.9 398.4,572.1 399.7,577.8 401.0,581.3 402.3,579.9 403.6,573.9 404.9,577.9 406.2,575.4 407.5,580.2 408.8,583.1 410.1,581.9 411.4,583.3 412.7,581.3 414.0,577.1 415.3,577.7 416.6,583.2 417.9,585.6 419.2,588.0 420.5,584.3 421.8,586.0 423.1,568.5 424.4,564.0 425.7,558.3 427.0,554.2 428.3,558.9 429.6,556.3 430.9,555.5 432.2,550.5 433.5,553.1 434.8,547.9 436.1,546.4 437.4,550.4 438.7,549.2 440.0,551.2 441.3,552.8 442.6,548.3 443.9,552.5 445.2,545.7 446.5,548.6 447.8,542.7 449.1,545.7 450.4,544.0 451.7,543.7 453.0,545.2 454.3,538.2 455.6,542.9 456.9,539.9 458.2,541.8 459.5,542.0 460.8,539.5 462.1,539.0 463.4,536.4 464.7,540.4 466.0,536.7 467.3,539.1 468.6,533.8 469.9,540.6 471.2,533.9 472.5,539.1 473.8,534.5 475.1,536.6 476.4,534.4 477.7,536.1 479.0,533.9 480.3,536.8 481.6,534.8 482.9,534.5 484.2,536.6 485.5,530.1 486.8,534.9 488.1,531.3" fill="none" stroke="#06be06" stroke-width="3.0" stroke-linejoin="round" stroke-linecap="round"/>
<polyline points="503.2,490.2 504.3,484.1 505.4,489.5 506.5,485.3 507.6,486.5 508.7,490.6 509.8,488.0 510.9,491.8 512.0,482.9 513.1,502.0 514.2,496.8 515.3,494.0 516.4,484.0 517.5,479.6 518.6,486.1 519.7,489.3 520.8,501.6 521.9,497.0 523.0,487.8 524.1,496.5 525.2,496.6 526.3,490.5 527.4,496.5 528.5,492.1 529.6,487.2 530.7,484.6 531.8,489.8 532.9,495.4 534.0,483.7 535.1,482.4 536.2,493.2 537.3,476.9 538.4,490.2 539.5,475.8 540.6,480.6 541.7,485.9 542.8,469.3 543.9,471.2 545.0,487.6 546.1,475.0 547.2,475.8 548.3,477.6 549.4,481.7 550.5,483.1 551.6,477.0 552.7,474.8 553.8,476.3 554.9,478.0 556.0,483.0 557.1,477.1 558.2,485.5 559.3,472.2 560.4,479.1 561.5,485.2 562.6,482.9 563.7,478.1 564.8,472.0 565.9,472.9 567.0,475.7 568.1,478.0 569.2,475.2 570.3,469.2 571.4,472.7 572.5,479.0 573.6,480.6 574.7,469.5 575.8,474.6 576.9,468.1 578.0,473.6 579.1,494.1 580.2,476.8 581.3,474.7 582.4,473.5 583.5,470.4 584.6,467.1 585.7,476.2 586.8,475.1 587.9,483.8 589.0,468.3 590.1,478.6 591.2,483.1 592.3,466.7 593.4,479.7 594.5,468.4 595.6,479.0 596.7,483.8 597.8,476.4 598.9,477.9 600.0,473.0 601.1,477.9 602.2,482.1 603.3,475.5 604.4,475.7 605.5,478.4 606.6,485.2 607.7,477.8 608.8,488.6 609.9,486.0 611.0,492.4 612.1,495.4 613.2,491.9 614.3,496.8 615.4,485.5 616.5,488.4 617.6,485.5 618.7,490.7 619.8,490.9 620.9,489.4 622.0,484.4 623.1,490.0 624.2,488.3 625.3,493.5 626.4,489.1 627.5,496.3 628.6,491.6 629.7,481.2 630.8,489.6 631.9,483.3 633.0,495.3 634.1,497.6 635.2,490.3 636.3,492.6 637.4,483.2 638.5,479.2 639.6,487.7 640.7,489.2 641.8,482.9 642.9,490.9 644.0,492.0 645.1,493.7 646.2,498.2 647.3,494.5 648.4,488.6 649.5,491.0 650.6,493.4 651.7,485.2 652.8,497.1 653.9,495.0 655.0,489.3 656.1,487.3 657.2,509.5 658.3,494.7 659.4,495.2 660.5,499.5 661.6,495.4 662.7,491.5 663.8,494.0 664.9,485.9 666.0,494.0 667.1,482.8 668.2,492.6 669.3,493.2 670.4,482.7 671.5,500.0 672.6,484.7 673.7,495.7" fill="none" stroke="#000" stroke-width="3.0" stroke-linejoin="round" stroke-linecap="round"/>
<polyline points="503.2,493.6 504.3,483.4 505.4,499.8 506.5,490.2 507.6,491.9 508.7,495.8 509.8,495.1 510.9,501.0 512.0,490.7 513.1,495.5 514.2,496.1 515.3,494.7 516.4,498.4 517.5,493.1 518.6,501.5 519.7,490.4 520.8,486.2 521.9,494.3 523.0,501.3 524.1,491.5 525.2,490.9 526.3,492.5 527.4,495.5 528.5,493.5 529.6,496.3 530.7,484.6 531.8,503.2 532.9,497.9 534.0,489.6 535.1,502.4 536.2,497.1 537.3,503.0 538.4,479.7 539.5,493.4 540.6,483.2 541.7,470.8 542.8,486.9 543.9,480.8 545.0,476.7 546.1,481.3 547.2,471.3 548.3,485.9 549.4,481.3 550.5,481.0 551.6,490.7 552.7,482.7 553.8,478.7 554.9,477.0 556.0,482.2 557.1,488.7 558.2,479.2 559.3,476.5 560.4,487.8 561.5,482.9 562.6,482.4 563.7,494.5 564.8,475.5 565.9,483.6 567.0,472.3 568.1,480.8 569.2,485.9 570.3,489.0 571.4,475.2 572.5,487.3 573.6,487.0 574.7,481.8 575.8,496.7 576.9,482.5 578.0,477.4 579.1,484.9 580.2,471.8 581.3,491.5 582.4,488.2 583.5,480.2 584.6,486.1 585.7,485.6 586.8,493.7 587.9,479.0 589.0,475.0 590.1,470.8 591.2,480.8 592.3,473.5 593.4,481.5 594.5,484.9 595.6,480.0 596.7,477.1 597.8,489.4 598.9,481.4 600.0,483.9 601.1,488.0 602.2,475.0 603.3,477.2 604.4,496.9 605.5,481.6 606.6,480.4 607.7,489.2 608.8,489.3 609.9,486.5 611.0,491.7 612.1,494.2 613.2,494.3 614.3,497.5 615.4,484.5 616.5,485.9 617.6,499.0 618.7,492.0 619.8,501.5 620.9,496.3 622.0,486.4 623.1,497.6 624.2,488.7 625.3,496.0 626.4,501.6 627.5,506.7 628.6,494.1 629.7,498.5 630.8,496.2 631.9,499.0 633.0,479.8 634.1,492.2 635.2,496.2 636.3,497.2 637.4,490.2 638.5,499.3 639.6,500.9 640.7,494.9 641.8,493.2 642.9,492.5 644.0,495.3 645.1,501.3 646.2,503.1 647.3,491.8 648.4,489.1 649.5,489.9 650.6,500.2 651.7,495.8 652.8,496.2 653.9,497.3 655.0,496.7 656.1,493.8 657.2,488.5 658.3,490.9 659.4,495.2 660.5,496.8 661.6,492.4 662.7,492.1 663.8,502.4 664.9,491.8 666.0,495.8 667.1,492.7 668.2,489.6 669.3,485.8 670.4,491.4 671.5,489.8 672.6,499.4 673.7,487.9" fill="none" stroke="#000" stroke-width="3.0" stroke-linejoin="round" stroke-linecap="round"/>
<polyline points="503.2,494.5 504.3,482.3 505.4,494.2 506.5,489.3 507.6,494.4 508.7,497.5 509.8,487.6 510.9,493.3 512.0,497.3 513.1,493.0 514.2,490.1 515.3,485.7 516.4,488.0 517.5,484.5 518.6,497.9 519.7,492.7 520.8,484.8 521.9,492.0 523.0,484.3 524.1,472.4 525.2,499.2 526.3,499.0 527.4,483.2 528.5,487.7 529.6,493.3 530.7,489.7 531.8,486.9 532.9,489.0 534.0,490.6 535.1,488.7 536.2,493.3 537.3,490.6 538.4,484.8 539.5,488.6 540.6,478.3 541.7,496.7 542.8,477.7 543.9,487.5 545.0,490.1 546.1,490.5 547.2,489.6 548.3,495.5 549.4,481.3 550.5,487.6 551.6,488.9 552.7,485.1 553.8,484.5 554.9,495.7 556.0,483.8 557.1,485.2 558.2,486.4 559.3,486.7 560.4,489.0 561.5,486.8 562.6,490.2 563.7,488.8 564.8,490.9 565.9,496.1 567.0,483.0 568.1,497.8 569.2,485.3 570.3,491.9 571.4,489.0 572.5,486.2 573.6,476.4 574.7,497.5 575.8,483.5 576.9,483.3 578.0,494.3 579.1,488.5 580.2,499.3 581.3,498.0 582.4,492.2 583.5,489.5 584.6,492.5 585.7,480.2 586.8,489.0 587.9,488.9 589.0,485.2 590.1,489.5 591.2,479.3 592.3,493.3 593.4,495.6 594.5,480.3 595.6,488.8 596.7,497.1 597.8,490.5 598.9,481.9 600.0,482.1 601.1,493.0 602.2,498.8 603.3,481.6 604.4,488.2 605.5,483.4 606.6,487.6 607.7,492.5 608.8,491.1 609.9,487.6 611.0,504.2 612.1,491.0 613.2,490.9 614.3,498.5 615.4,492.0 616.5,490.8 617.6,497.6 618.7,485.9 619.8,496.4 620.9,498.1 622.0,495.9 623.1,490.9 624.2,491.9 625.3,481.8 626.4,491.2 627.5,493.7 628.6,497.1 629.7,492.8 630.8,489.7 631.9,487.0 633.0,491.7 634.1,492.8 635.2,499.1 636.3,492.0 637.4,489.0 638.5,491.3 639.6,489.1 640.7,490.6 641.8,479.0 642.9,482.6 644.0,484.9 645.1,494.7 646.2,491.5 647.3,492.8 648.4,498.8 649.5,485.8 650.6,498.7 651.7,494.2 652.8,487.8 653.9,500.7 655.0,483.6 656.1,485.3 657.2,490.7 658.3,494.3 659.4,490.8 660.5,479.4 661.6,490.2 662.7,491.5 663.8,506.9 664.9,500.0 666.0,492.7 667.1,485.5 668.2,493.9 669.3,485.1 670.4,493.1 671.5,494.1 672.6,489.6 673.7,493.4" fill="none" stroke="#000" stroke-width="3.0" stroke-linejoin="round" stroke-linecap="round"/>
<polyline points="503.2,497.4 504.3,490.5 505.4,492.6 506.5,482.7 507.6,489.9 508.7,502.7 509.8,503.9 510.9,499.9 512.0,497.5 513.1,499.0 514.2,498.4 515.3,486.7 516.4,491.2 517.5,502.1 518.6,502.1 519.7,497.1 520.8,494.2 521.9,493.8 523.0,493.0 524.1,490.9 525.2,485.6 526.3,496.6 527.4,493.5 528.5,494.7 529.6,505.0 530.7,499.0 531.8,492.1 532.9,498.9 534.0,487.9 535.1,501.4 536.2,497.3 537.3,494.8 538.4,496.9 539.5,500.9 540.6,490.5 541.7,487.7 542.8,504.1 543.9,493.0 545.0,500.8 546.1,489.3 547.2,494.9 548.3,489.4 549.4,496.2 550.5,491.4 551.6,489.3 552.7,501.1 553.8,494.7 554.9,482.0 556.0,491.6 557.1,488.0 558.2,486.4 559.3,489.7 560.4,490.3 561.5,493.0 562.6,488.6 563.7,482.9 564.8,490.0 565.9,497.5 567.0,485.6 568.1,496.1 569.2,495.3 570.3,490.5 571.4,494.5 572.5,488.8 573.6,490.7 574.7,487.4 575.8,495.3 576.9,500.1 578.0,489.2 579.1,499.2 580.2,481.4 581.3,488.1 582.4,487.4 583.5,502.0 584.6,489.7 585.7,497.0 586.8,481.9 587.9,493.4 589.0,495.9 590.1,492.6 591.2,478.3 592.3,493.8 593.4,497.2 594.5,499.9 595.6,495.0 596.7,483.8 597.8,491.7 598.9,497.7 600.0,488.5 601.1,495.8 602.2,490.3 603.3,493.3 604.4,496.9 605.5,489.1 606.6,509.2 607.7,495.7 608.8,497.2 609.9,491.6 611.0,496.0 612.1,494.3 613.2,488.0 614.3,487.6 615.4,497.4 616.5,495.3 617.6,481.7 618.7,484.3 619.8,494.2 620.9,495.5 622.0,499.1 623.1,489.2 624.2,499.0 625.3,494.2 626.4,493.1 627.5,495.1 628.6,501.1 629.7,498.8 630.8,500.6 631.9,492.1 633.0,494.3 634.1,489.6 635.2,492.8 636.3,493.7 637.4,493.3 638.5,499.7 639.6,498.1 640.7,499.9 641.8,496.5 642.9,501.6 644.0,496.5 645.1,501.0 646.2,498.5 647.3,499.8 648.4,495.5 649.5,489.2 650.6,488.1 651.7,506.3 652.8,497.9 653.9,498.2 655.0,494.9 656.1,493.4 657.2,511.3 658.3,489.8 659.4,495.5 660.5,495.5 661.6,489.7 662.7,489.0 663.8,492.0 664.9,494.0 666.0,493.2 667.1,500.2 668.2,489.5 669.3,498.0 670.4,503.7 671.5,500.6 672.6,489.7 673.7,479.9" fill="none" stroke="#000" stroke-width="3.0" stroke-linejoin="round" stroke-linecap="round"/>
<polyline points="503.2,490.2 504.3,481.4 505.4,488.4 506.5,503.5 507.6,490.1 508.7,494.2 509.8,488.9 510.9,490.1 512.0,492.8 513.1,493.7 514.2,504.2 515.3,490.8 516.4,489.8 517.5,486.9 518.6,483.0 519.7,481.2 520.8,494.8 521.9,479.7 523.0,499.3 524.1,496.0 525.2,489.1 526.3,484.0 527.4,491.0 528.5,491.0 529.6,497.6 530.7,486.4 531.8,488.6 532.9,490.6 534.0,489.2 535.1,487.1 536.2,480.6 537.3,481.0 538.4,498.8 539.5,507.5 540.6,517.8 541.7,527.2 542.8,524.4 543.9,516.9 545.0,525.9 546.1,514.1 547.2,511.7 548.3,528.7 549.4,508.5 550.5,512.4 551.6,513.3 552.7,523.6 553.8,511.3 554.9,519.6 556.0,512.4 557.1,507.6 558.2,516.3 559.3,515.9 560.4,508.0 561.5,509.7 562.6,510.1 563.7,520.7 564.8,517.7 565.9,516.3 567.0,517.8 568.1,512.0 569.2,517.7 570.3,511.3 571.4,506.9 572.5,510.7 573.6,516.1 574.7,515.4 575.8,521.2 576.9,504.8 578.0,513.6 579.1,517.2 580.2,509.1 581.3,516.4 582.4,512.4 583.5,508.1 584.6,521.6 585.7,506.6 586.8,520.9 587.9,512.4 589.0,509.3 590.1,509.6 591.2,510.5 592.3,509.8 593.4,516.5 594.5,503.7 595.6,522.3 596.7,519.9 597.8,523.2 598.9,509.0 600.0,501.0 601.1,511.2 602.2,513.9 603.3,516.7 604.4,511.8 605.5,514.4 606.6,510.5 607.7,494.1 608.8,510.4 609.9,490.6 611.0,497.3 612.1,501.1 613.2,489.2 614.3,493.3 615.4,502.5 616.5,490.7 617.6,498.4 618.7,493.6 619.8,493.1 620.9,495.8 622.0,490.0 623.1,490.1 624.2,497.0 625.3,492.8 626.4,494.1 627.5,483.9 628.6,491.2 629.7,498.3 630.8,496.4 631.9,493.1 633.0,487.9 634.1,487.3 635.2,493.6 636.3,499.5 637.4,491.2 638.5,498.8 639.6,489.2 640.7,498.1 641.8,485.0 642.9,492.1 644.0,484.6 645.1,494.9 646.2,494.4 647.3,485.3 648.4,486.5 649.5,488.3 650.6,482.0 651.7,485.4 652.8,485.8 653.9,495.6 655.0,499.2 656.1,488.3 657.2,489.2 658.3,492.2 659.4,487.8 660.5,489.3 661.6,496.0 662.7,492.3 663.8,490.4 664.9,487.5 666.0,499.7 667.1,487.3 668.2,491.7 669.3,484.8 670.4,487.4 671.5,491.5 672.6,488.6 673.7,494.1" fill="none" stroke="#000" stroke-width="3.0" stroke-linejoin="round" stroke-linecap="round"/>
<polyline points="503.2,494.3 504.3,499.2 505.4,501.0 506.5,508.3 507.6,507.9 508.7,504.1 509.8,505.5 510.9,501.8 512.0,515.1 513.1,508.6 514.2,514.4 515.3,502.5 516.4,502.7 517.5,506.0 518.6,501.5 519.7,502.1 520.8,495.3 521.9,505.4 523.0,501.2 524.1,504.8 525.2,499.3 526.3,491.2 527.4,503.1 528.5,506.6 529.6,493.8 530.7,495.4 531.8,498.9 532.9,499.2 534.0,491.6 535.1,509.7 536.2,505.8 537.3,497.3 538.4,513.4 539.5,535.7 540.6,549.6 541.7,546.2 542.8,549.2 543.9,539.0 545.0,545.6 546.1,536.8 547.2,555.3 548.3,548.1 549.4,534.2 550.5,535.7 551.6,548.1 552.7,546.5 553.8,544.3 554.9,549.3 556.0,556.8 557.1,548.3 558.2,537.1 559.3,545.8 560.4,540.0 561.5,542.8 562.6,548.9 563.7,546.4 564.8,541.9 565.9,547.5 567.0,543.5 568.1,550.7 569.2,546.8 570.3,550.3 571.4,547.0 572.5,552.5 573.6,548.0 574.7,548.8 575.8,546.1 576.9,550.0 578.0,540.1 579.1,563.5 580.2,546.1 581.3,550.4 582.4,547.5 583.5,547.6 584.6,552.4 585.7,547.8 586.8,548.4 587.9,543.6 589.0,546.1 590.1,545.0 591.2,560.7 592.3,544.4 593.4,546.0 594.5,552.8 595.6,559.4 596.7,543.2 597.8,544.1 598.9,553.0 600.0,554.3 601.1,545.3 602.2,543.4 603.3,548.0 604.4,557.1 605.5,553.1 606.6,541.6 607.7,520.2 608.8,512.2 609.9,511.3 611.0,505.3 612.1,505.9 613.2,499.2 614.3,500.4 615.4,505.7 616.5,501.8 617.6,499.0 618.7,506.3 619.8,505.6 620.9,502.6 622.0,498.6 623.1,507.3 624.2,515.6 625.3,498.2 626.4,494.4 627.5,498.3 628.6,497.5 629.7,495.8 630.8,496.2 631.9,506.9 633.0,506.9 634.1,510.2 635.2,506.3 636.3,499.9 637.4,508.1 638.5,499.2 639.6,500.5 640.7,496.2 641.8,508.8 642.9,507.7 644.0,499.9 645.1,500.7 646.2,502.6 647.3,503.4 648.4,506.8 649.5,502.7 650.6,504.5 651.7,494.5 652.8,500.8 653.9,493.0 655.0,511.7 656.1,509.7 657.2,506.1 658.3,508.2 659.4,512.9 660.5,507.3 661.6,494.0 662.7,501.2 663.8,490.0 664.9,498.0 666.0,495.8 667.1,502.3 668.2,504.4 669.3,497.5 670.4,500.8 671.5,503.8 672.6,501.5 673.7,501.4" fill="none" stroke="#d04838" stroke-width="3.7" stroke-linejoin="round" stroke-linecap="round"/>
<polyline points="503.2,494.3 504.3,499.2 505.4,501.0 506.5,508.3 507.6,507.9 508.7,504.1 509.8,505.5 510.9,501.8 512.0,515.1 513.1,508.6 514.2,514.4 515.3,502.5 516.4,502.7 517.5,506.0 518.6,501.5 519.7,502.1 520.8,495.3 521.9,505.4 523.0,501.2 524.1,504.8 525.2,499.3 526.3,491.2 527.4,503.1 528.5,506.6 529.6,493.8 530.7,495.4 531.8,498.9 532.9,499.2 534.0,491.6 535.1,509.7 536.2,505.8 537.3,497.3 538.4,513.4 539.5,535.7 540.6,549.6 541.7,546.2 542.8,549.2 543.9,539.0 545.0,545.6 546.1,536.8 547.2,555.3 548.3,548.1 549.4,534.2 550.5,535.7 551.6,548.1 552.7,546.5 553.8,544.3 554.9,549.3 556.0,556.8 557.1,548.3 558.2,537.1 559.3,545.8 560.4,540.0 561.5,542.8 562.6,548.9 563.7,546.4 564.8,541.9 565.9,547.5 567.0,543.5 568.1,550.7 569.2,546.8 570.3,550.3 571.4,547.0 572.5,552.5 573.6,548.0 574.7,548.8 575.8,546.1 576.9,550.0 578.0,540.1 579.1,563.5 580.2,546.1 581.3,550.4 582.4,547.5 583.5,547.6 584.6,552.4 585.7,547.8 586.8,548.4 587.9,543.6 589.0,546.1 590.1,545.0 591.2,560.7 592.3,544.4 593.4,546.0 594.5,552.8 595.6,559.4 596.7,543.2 597.8,544.1 598.9,553.0 600.0,554.3 601.1,545.3 602.2,543.4 603.3,548.0 604.4,557.1 605.5,553.1 606.6,541.6 607.7,520.2 608.8,512.2 609.9,511.3 611.0,505.3 612.1,505.9 613.2,499.2 614.3,500.4 615.4,505.7 616.5,501.8 617.6,499.0 618.7,506.3 619.8,505.6 620.9,502.6 622.0,498.6 623.1,507.3 624.2,515.6 625.3,498.2 626.4,494.4 627.5,498.3 628.6,497.5 629.7,495.8 630.8,496.2 631.9,506.9 633.0,506.9 634.1,510.2 635.2,506.3 636.3,499.9 637.4,508.1 638.5,499.2 639.6,500.5 640.7,496.2 641.8,508.8 642.9,507.7 644.0,499.9 645.1,500.7 646.2,502.6 647.3,503.4 648.4,506.8 649.5,502.7 650.6,504.5 651.7,494.5 652.8,500.8 653.9,493.0 655.0,511.7 656.1,509.7 657.2,506.1 658.3,508.2 659.4,512.9 660.5,507.3 661.6,494.0 662.7,501.2 663.8,490.0 664.9,498.0 666.0,495.8 667.1,502.3 668.2,504.4 669.3,497.5 670.4,500.8 671.5,503.8 672.6,501.5 673.7,501.4" fill="none" stroke="#06be06" stroke-width="3.0" stroke-linejoin="round" stroke-linecap="round"/>
<polyline points="133.8,668.6 135.1,668.4 136.4,670.3 137.7,661.8 139.0,666.8 140.3,665.1 141.6,664.1 142.9,666.3 144.2,663.4 145.5,661.0 146.8,664.0 148.1,665.5 149.4,670.3 150.7,664.4 152.0,663.4 153.3,661.5 154.6,665.3 155.9,665.5 157.2,666.4 158.5,662.8 159.8,664.3 161.1,660.9 162.4,666.4 163.7,662.5 165.0,659.8 166.3,668.7 167.6,667.2 168.9,650.0 170.2,645.5 171.5,641.2 172.8,645.8 174.1,641.0 175.4,647.8 176.7,644.1 178.0,639.4 179.3,645.7 180.6,648.4 181.9,643.4 183.2,646.5 184.5,643.7 185.8,642.9 187.1,638.5 188.4,647.4 189.7,643.6 191.0,645.6 192.3,642.3 193.6,642.9 194.9,647.6 196.2,644.3 197.5,644.4 198.8,642.6 200.1,646.0 201.4,647.4 202.7,644.7 204.0,645.4 205.3,643.2 206.6,649.3 207.9,644.8 209.2,646.0 210.5,650.3 211.8,646.0 213.1,643.1 214.4,644.7 215.7,646.1 217.0,651.1 218.3,647.6 219.6,646.7 220.9,649.2 222.2,650.4 223.5,645.8 224.8,650.9 226.1,649.7 227.4,648.9 228.7,642.6 230.0,648.6 231.3,651.4 232.6,647.7 233.9,653.7 235.2,648.7 236.5,646.3 237.8,650.1 239.1,660.9 240.4,667.2 241.7,667.1 243.0,671.5 244.3,667.6 245.6,669.2 246.9,665.9 248.2,666.7 249.5,668.8 250.8,666.6 252.1,666.9 253.4,667.2 254.7,668.1 256.0,669.0 257.3,668.9 258.6,669.3 259.9,667.3 261.2,665.5 262.5,663.0 263.8,665.8 265.1,664.7 266.4,662.3 267.7,670.2 269.0,662.1 270.3,667.1 271.6,667.5 272.9,665.7 274.2,672.2 275.5,666.2 276.8,664.4 278.1,670.2 279.4,664.3 280.7,662.8 282.0,663.8 283.3,664.7 284.6,666.2 285.9,666.9 287.2,662.6 288.5,666.9 289.8,671.3 291.1,664.5 292.4,665.8 293.7,667.7 295.0,668.9 296.3,664.6 297.6,663.9 298.9,663.8 300.2,668.6 301.5,668.2 302.8,661.1 304.1,661.2" fill="none" stroke="#000" stroke-width="3.0" stroke-linejoin="round" stroke-linecap="round"/>
<polyline points="133.8,666.0 135.1,665.3 136.4,670.5 137.7,664.9 139.0,668.5 140.3,668.8 141.6,671.1 142.9,665.2 144.2,667.8 145.5,661.9 146.8,662.9 148.1,665.1 149.4,665.7 150.7,662.7 152.0,664.7 153.3,667.6 154.6,664.6 155.9,665.4 157.2,663.5 158.5,669.4 159.8,670.4 161.1,666.3 162.4,665.5 163.7,670.1 165.0,667.0 166.3,664.1 167.6,662.3 168.9,652.5 170.2,656.6 171.5,648.7 172.8,657.6 174.1,650.2 175.4,649.7 176.7,653.8 178.0,649.9 179.3,651.7 180.6,648.1 181.9,647.7 183.2,649.2 184.5,651.8 185.8,649.6 187.1,646.4 188.4,652.8 189.7,651.3 191.0,651.1 192.3,650.4 193.6,646.3 194.9,656.3 196.2,651.1 197.5,653.9 198.8,656.2 200.1,655.7 201.4,653.4 202.7,653.0 204.0,653.9 205.3,655.6 206.6,654.9 207.9,652.4 209.2,654.8 210.5,654.8 211.8,655.7 213.1,654.6 214.4,657.7 215.7,654.8 217.0,656.7 218.3,654.7 219.6,653.2 220.9,652.4 222.2,654.6 223.5,656.5 224.8,658.5 226.1,655.1 227.4,654.1 228.7,654.3 230.0,659.1 231.3,656.1 232.6,654.7 233.9,658.0 235.2,652.8 236.5,656.7 237.8,656.4 239.1,663.0 240.4,663.5 241.7,670.4 243.0,672.9 244.3,665.3 245.6,669.0 246.9,670.2 248.2,674.1 249.5,667.0 250.8,665.4 252.1,667.6 253.4,672.6 254.7,667.4 256.0,667.7 257.3,671.4 258.6,661.2 259.9,661.0 261.2,668.8 262.5,668.4 263.8,662.7 265.1,667.6 266.4,666.3 267.7,666.7 269.0,664.0 270.3,664.8 271.6,663.7 272.9,666.1 274.2,665.3 275.5,670.3 276.8,667.5 278.1,661.8 279.4,667.0 280.7,669.6 282.0,666.6 283.3,668.7 284.6,665.8 285.9,667.7 287.2,663.4 288.5,667.9 289.8,662.3 291.1,669.2 292.4,661.9 293.7,660.4 295.0,667.2 296.3,665.4 297.6,666.1 298.9,666.9 300.2,665.8 301.5,663.5 302.8,666.4 304.1,666.7" fill="none" stroke="#000" stroke-width="3.0" stroke-linejoin="round" stroke-linecap="round"/>
<polyline points="133.8,662.9 135.1,662.6 136.4,665.8 137.7,662.6 139.0,667.6 140.3,665.6 141.6,661.6 142.9,665.1 144.2,655.2 145.5,666.5 146.8,663.9 148.1,663.9 149.4,658.4 150.7,669.5 152.0,662.2 153.3,662.5 154.6,665.8 155.9,662.3 157.2,660.6 158.5,664.6 159.8,660.2 161.1,664.8 162.4,663.2 163.7,665.8 165.0,659.6 166.3,666.1 167.6,663.6 168.9,661.4 170.2,652.7 171.5,659.0 172.8,655.9 174.1,656.2 175.4,652.3 176.7,655.8 178.0,656.2 179.3,652.3 180.6,651.6 181.9,652.7 183.2,658.8 184.5,655.4 185.8,657.6 187.1,656.0 188.4,655.6 189.7,656.0 191.0,654.5 192.3,658.9 193.6,656.2 194.9,656.5 196.2,652.3 197.5,656.9 198.8,654.4 200.1,655.0 201.4,659.2 202.7,653.7 204.0,656.1 205.3,658.4 206.6,659.9 207.9,655.6 209.2,657.9 210.5,658.0 211.8,654.3 213.1,651.8 214.4,652.4 215.7,659.2 217.0,658.0 218.3,654.3 219.6,656.3 220.9,657.0 222.2,657.3 223.5,658.2 224.8,664.3 226.1,656.5 227.4,659.0 228.7,656.7 230.0,657.2 231.3,656.7 232.6,658.5 233.9,657.7 235.2,660.2 236.5,660.0 237.8,657.2 239.1,668.0 240.4,661.5 241.7,666.3 243.0,671.5 244.3,663.9 245.6,669.2 246.9,669.3 248.2,666.2 249.5,660.2 250.8,668.6 252.1,664.9 253.4,663.0 254.7,667.6 256.0,662.1 257.3,666.7 258.6,662.3 259.9,665.0 261.2,660.6 262.5,662.3 263.8,660.9 265.1,661.4 266.4,663.7 267.7,662.7 269.0,663.6 270.3,666.4 271.6,662.7 272.9,658.1 274.2,662.2 275.5,663.2 276.8,665.6 278.1,665.6 279.4,665.4 280.7,662.3 282.0,664.6 283.3,659.1 284.6,666.3 285.9,664.0 287.2,664.2 288.5,661.9 289.8,663.0 291.1,661.1 292.4,664.4 293.7,659.3 295.0,665.4 296.3,664.3 297.6,668.2 298.9,662.7 300.2,662.6 301.5,663.4 302.8,662.9 304.1,662.6" fill="none" stroke="#000" stroke-width="3.0" stroke-linejoin="round" stroke-linecap="round"/>
<polyline points="133.8,669.7 135.1,665.9 136.4,663.9 137.7,664.2 139.0,664.2 140.3,664.4 141.6,661.9 142.9,669.3 144.2,667.1 145.5,668.7 146.8,665.1 148.1,667.0 149.4,666.5 150.7,669.2 152.0,668.3 153.3,667.0 154.6,664.3 155.9,662.8 157.2,663.9 158.5,664.4 159.8,664.6 161.1,662.7 162.4,670.6 163.7,666.8 165.0,660.6 166.3,663.1 167.6,662.4 168.9,665.1 170.2,667.0 171.5,661.4 172.8,665.8 174.1,663.5 175.4,667.4 176.7,668.1 178.0,665.3 179.3,666.5 180.6,664.7 181.9,663.8 183.2,661.7 184.5,665.9 185.8,664.9 187.1,664.1 188.4,665.0 189.7,664.8 191.0,662.6 192.3,664.1 193.6,668.7 194.9,665.1 196.2,669.6 197.5,662.8 198.8,662.3 200.1,666.4 201.4,668.3 202.7,664.5 204.0,668.0 205.3,669.0 206.6,669.4 207.9,666.3 209.2,666.6 210.5,662.4 211.8,667.0 213.1,667.8 214.4,670.9 215.7,663.8 217.0,665.0 218.3,664.7 219.6,669.9 220.9,660.8 222.2,664.7 223.5,673.3 224.8,669.6 226.1,664.4 227.4,667.9 228.7,670.4 230.0,669.7 231.3,667.7 232.6,666.3 233.9,670.7 235.2,668.6 236.5,670.9 237.8,669.8 239.1,667.4 240.4,672.7 241.7,667.7 243.0,670.3 244.3,667.4 245.6,668.4 246.9,668.1 248.2,666.8 249.5,669.0 250.8,671.6 252.1,672.9 253.4,671.5 254.7,667.0 256.0,671.2 257.3,668.2 258.6,671.8 259.9,663.4 261.2,670.7 262.5,665.0 263.8,669.6 265.1,665.2 266.4,668.8 267.7,665.6 269.0,661.3 270.3,663.7 271.6,665.6 272.9,666.3 274.2,660.2 275.5,663.0 276.8,664.2 278.1,665.6 279.4,666.7 280.7,663.9 282.0,662.0 283.3,666.9 284.6,665.2 285.9,668.5 287.2,664.7 288.5,667.8 289.8,663.7 291.1,666.8 292.4,666.3 293.7,667.3 295.0,663.6 296.3,665.7 297.6,663.8 298.9,665.6 300.2,667.7 301.5,674.1 302.8,666.2 304.1,668.0" fill="none" stroke="#000" stroke-width="3.0" stroke-linejoin="round" stroke-linecap="round"/>
<polyline points="133.8,668.1 135.1,665.6 136.4,670.9 137.7,662.9 139.0,666.9 140.3,665.7 141.6,665.1 142.9,666.5 144.2,663.7 145.5,668.0 146.8,667.8 148.1,666.0 149.4,667.7 150.7,663.0 152.0,660.9 153.3,664.2 154.6,665.1 155.9,672.3 157.2,665.1 158.5,668.4 159.8,667.9 161.1,671.3 162.4,666.0 163.7,667.4 165.0,665.2 166.3,663.4 167.6,663.0 168.9,672.3 170.2,682.1 171.5,681.0 172.8,680.8 174.1,681.8 175.4,680.6 176.7,682.2 178.0,682.4 179.3,684.4 180.6,685.3 181.9,678.8 183.2,683.9 184.5,687.1 185.8,680.9 187.1,683.1 188.4,684.4 189.7,687.1 191.0,685.9 192.3,683.9 193.6,686.0 194.9,687.6 196.2,686.1 197.5,690.1 198.8,686.5 200.1,682.8 201.4,683.7 202.7,685.6 204.0,685.6 205.3,688.0 206.6,687.4 207.9,691.2 209.2,689.0 210.5,691.0 211.8,685.2 213.1,686.3 214.4,689.4 215.7,688.0 217.0,689.6 218.3,688.8 219.6,686.7 220.9,693.0 222.2,691.7 223.5,684.7 224.8,687.4 226.1,689.3 227.4,691.2 228.7,689.4 230.0,686.1 231.3,692.1 232.6,689.6 233.9,693.5 235.2,691.3 236.5,693.3 237.8,693.0 239.1,680.6 240.4,672.4 241.7,674.3 243.0,670.8 244.3,666.1 245.6,667.6 246.9,667.2 248.2,668.9 249.5,669.1 250.8,664.0 252.1,668.6 253.4,666.4 254.7,663.6 256.0,668.4 257.3,664.1 258.6,662.9 259.9,668.0 261.2,668.3 262.5,664.2 263.8,668.7 265.1,668.5 266.4,664.5 267.7,671.1 269.0,665.6 270.3,666.4 271.6,659.5 272.9,667.4 274.2,664.1 275.5,666.9 276.8,661.3 278.1,668.8 279.4,669.6 280.7,670.7 282.0,658.0 283.3,667.3 284.6,666.7 285.9,657.8 287.2,663.8 288.5,665.5 289.8,669.5 291.1,663.6 292.4,666.3 293.7,665.6 295.0,666.7 296.3,664.7 297.6,668.1 298.9,668.3 300.2,662.2 301.5,668.7 302.8,663.8 304.1,665.1" fill="none" stroke="#000" stroke-width="3.0" stroke-linejoin="round" stroke-linecap="round"/>
<polyline points="133.8,663.4 135.1,667.9 136.4,671.8 137.7,670.0 139.0,666.4 140.3,667.3 141.6,664.1 142.9,666.8 144.2,665.6 145.5,663.9 146.8,663.1 148.1,671.3 149.4,666.7 150.7,663.9 152.0,665.4 153.3,670.2 154.6,670.5 155.9,664.9 157.2,667.0 158.5,668.7 159.8,665.6 161.1,663.5 162.4,664.0 163.7,666.5 165.0,664.5 166.3,663.2 167.6,665.9 168.9,683.3 170.2,692.4 171.5,696.8 172.8,706.9 174.1,703.5 175.4,707.9 176.7,706.7 178.0,713.8 179.3,712.9 180.6,710.3 181.9,713.6 183.2,721.3 184.5,719.5 185.8,718.9 187.1,721.6 188.4,716.2 189.7,718.9 191.0,718.4 192.3,720.3 193.6,722.1 194.9,725.0 196.2,726.7 197.5,727.2 198.8,732.0 200.1,724.5 201.4,726.1 202.7,727.9 204.0,724.9 205.3,726.7 206.6,728.8 207.9,725.9 209.2,729.6 210.5,731.8 211.8,726.2 213.1,723.5 214.4,729.8 215.7,727.2 217.0,730.5 218.3,729.1 219.6,731.2 220.9,733.5 222.2,732.9 223.5,730.1 224.8,728.2 226.1,725.1 227.4,726.0 228.7,729.6 230.0,732.0 231.3,730.2 232.6,730.5 233.9,728.1 235.2,728.0 236.5,727.9 237.8,733.9 239.1,706.1 240.4,702.8 241.7,693.5 243.0,694.0 244.3,691.0 245.6,690.5 246.9,690.1 248.2,683.7 249.5,681.9 250.8,682.1 252.1,680.1 253.4,682.7 254.7,679.7 256.0,679.1 257.3,679.3 258.6,676.3 259.9,679.5 261.2,671.3 262.5,675.9 263.8,676.0 265.1,672.2 266.4,671.8 267.7,675.4 269.0,671.8 270.3,667.3 271.6,668.3 272.9,673.9 274.2,668.7 275.5,673.9 276.8,673.8 278.1,669.5 279.4,671.1 280.7,667.4 282.0,668.2 283.3,667.2 284.6,670.2 285.9,665.3 287.2,668.0 288.5,668.3 289.8,669.3 291.1,662.5 292.4,663.2 293.7,665.3 295.0,666.8 296.3,667.6 297.6,667.7 298.9,672.2 300.2,668.6 301.5,668.4 302.8,665.5 304.1,668.7" fill="none" stroke="#d04838" stroke-width="3.7" stroke-linejoin="round" stroke-linecap="round"/>
<polyline points="133.8,663.4 135.1,667.9 136.4,671.8 137.7,670.0 139.0,666.4 140.3,667.3 141.6,664.1 142.9,666.8 144.2,665.6 145.5,663.9 146.8,663.1 148.1,671.3 149.4,666.7 150.7,663.9 152.0,665.4 153.3,670.2 154.6,670.5 155.9,664.9 157.2,667.0 158.5,668.7 159.8,665.6 161.1,663.5 162.4,664.0 163.7,666.5 165.0,664.5 166.3,663.2 167.6,665.9 168.9,683.3 170.2,692.4 171.5,696.8 172.8,706.9 174.1,703.5 175.4,707.9 176.7,706.7 178.0,713.8 179.3,712.9 180.6,710.3 181.9,713.6 183.2,721.3 184.5,719.5 185.8,718.9 187.1,721.6 188.4,716.2 189.7,718.9 191.0,718.4 192.3,720.3 193.6,722.1 194.9,725.0 196.2,726.7 197.5,727.2 198.8,732.0 200.1,724.5 201.4,726.1 202.7,727.9 204.0,724.9 205.3,726.7 206.6,728.8 207.9,725.9 209.2,729.6 210.5,731.8 211.8,726.2 213.1,723.5 214.4,729.8 215.7,727.2 217.0,730.5 218.3,729.1 219.6,731.2 220.9,733.5 222.2,732.9 223.5,730.1 224.8,728.2 226.1,725.1 227.4,726.0 228.7,729.6 230.0,732.0 231.3,730.2 232.6,730.5 233.9,728.1 235.2,728.0 236.5,727.9 237.8,733.9 239.1,706.1 240.4,702.8 241.7,693.5 243.0,694.0 244.3,691.0 245.6,690.5 246.9,690.1 248.2,683.7 249.5,681.9 250.8,682.1 252.1,680.1 253.4,682.7 254.7,679.7 256.0,679.1 257.3,679.3 258.6,676.3 259.9,679.5 261.2,671.3 262.5,675.9 263.8,676.0 265.1,672.2 266.4,671.8 267.7,675.4 269.0,671.8 270.3,667.3 271.6,668.3 272.9,673.9 274.2,668.7 275.5,673.9 276.8,673.8 278.1,669.5 279.4,671.1 280.7,667.4 282.0,668.2 283.3,667.2 284.6,670.2 285.9,665.3 287.2,668.0 288.5,668.3 289.8,669.3 291.1,662.5 292.4,663.2 293.7,665.3 295.0,666.8 296.3,667.6 297.6,667.7 298.9,672.2 300.2,668.6 301.5,668.4 302.8,665.5 304.1,668.7" fill="none" stroke="#06be06" stroke-width="3.0" stroke-linejoin="round" stroke-linecap="round"/>
<polyline points="317.8,671.1 319.1,670.0 320.4,669.6 321.7,671.9 323.0,671.7 324.3,670.9 325.6,667.1 326.9,670.3 328.2,669.5 329.5,671.6 330.8,674.9 332.1,674.3 333.4,673.4 334.7,671.7 336.0,670.4 337.3,672.4 338.6,669.9 339.9,670.3 341.2,668.8 342.5,671.2 343.8,671.1 345.1,677.0 346.4,673.1 347.7,670.2 349.0,673.7 350.3,669.9 351.6,674.5 352.9,664.5 354.2,660.1 355.5,643.3 356.8,644.4 358.1,643.4 359.4,644.2 360.7,645.2 362.0,640.0 363.3,640.6 364.6,643.6 365.9,645.6 367.2,639.2 368.5,637.8 369.8,645.9 371.1,644.9 372.4,645.5 373.7,639.2 375.0,641.5 376.3,642.7 377.6,643.3 378.9,641.5 380.2,641.6 381.5,644.7 382.8,640.3 384.1,639.9 385.4,640.1 386.7,639.8 388.0,641.7 389.3,640.6 390.6,639.8 391.9,645.3 393.2,641.9 394.5,639.9 395.8,644.6 397.1,639.1 398.4,640.6 399.7,640.3 401.0,638.7 402.3,639.2 403.6,640.6 404.9,635.9 406.2,639.0 407.5,640.8 408.8,640.8 410.1,640.8 411.4,646.9 412.7,641.7 414.0,639.2 415.3,639.2 416.6,639.5 417.9,640.7 419.2,638.5 420.5,643.8 421.8,635.9 423.1,649.2 424.4,653.2 425.7,650.7 427.0,657.4 428.3,658.0 429.6,655.0 430.9,664.3 432.2,659.8 433.5,657.0 434.8,656.8 436.1,656.3 437.4,659.5 438.7,659.1 440.0,654.9 441.3,656.2 442.6,657.4 443.9,658.5 445.2,658.8 446.5,658.1 447.8,662.2 449.1,663.2 450.4,660.8 451.7,654.2 453.0,660.4 454.3,662.7 455.6,660.9 456.9,662.1 458.2,661.8 459.5,657.1 460.8,654.2 462.1,663.7 463.4,660.4 464.7,663.3 466.0,661.3 467.3,661.8 468.6,666.4 469.9,658.9 471.2,662.5 472.5,659.4 473.8,663.0 475.1,664.2 476.4,664.9 477.7,663.4 479.0,659.0 480.3,663.9 481.6,665.9 482.9,666.3 484.2,669.7 485.5,665.1 486.8,660.5 488.1,662.0" fill="none" stroke="#000" stroke-width="3.0" stroke-linejoin="round" stroke-linecap="round"/>
<polyline points="317.8,674.1 319.1,668.3 320.4,666.7 321.7,667.7 323.0,673.7 324.3,673.3 325.6,669.3 326.9,670.8 328.2,671.4 329.5,672.8 330.8,665.4 332.1,668.8 333.4,669.5 334.7,671.0 336.0,670.4 337.3,669.4 338.6,670.9 339.9,663.7 341.2,678.0 342.5,672.3 343.8,672.4 345.1,668.5 346.4,671.3 347.7,675.4 349.0,674.8 350.3,670.4 351.6,667.1 352.9,662.7 354.2,652.2 355.5,651.2 356.8,644.1 358.1,646.2 359.4,647.0 360.7,645.0 362.0,648.7 363.3,643.1 364.6,642.8 365.9,645.0 367.2,648.0 368.5,645.1 369.8,644.3 371.1,647.8 372.4,646.3 373.7,644.4 375.0,646.0 376.3,645.0 377.6,647.1 378.9,645.9 380.2,643.5 381.5,644.3 382.8,644.4 384.1,646.3 385.4,646.3 386.7,643.2 388.0,644.8 389.3,646.0 390.6,648.0 391.9,645.8 393.2,650.1 394.5,645.2 395.8,646.9 397.1,644.2 398.4,642.5 399.7,645.2 401.0,646.1 402.3,645.7 403.6,645.2 404.9,644.0 406.2,642.7 407.5,644.0 408.8,645.9 410.1,647.1 411.4,636.3 412.7,646.1 414.0,647.3 415.3,647.7 416.6,645.4 417.9,646.1 419.2,643.3 420.5,644.1 421.8,645.7 423.1,649.0 424.4,653.7 425.7,658.4 427.0,655.8 428.3,660.1 429.6,656.7 430.9,661.3 432.2,661.1 433.5,659.9 434.8,659.1 436.1,660.4 437.4,656.2 438.7,661.1 440.0,662.5 441.3,665.5 442.6,661.3 443.9,662.3 445.2,666.4 446.5,667.4 447.8,661.9 449.1,665.9 450.4,666.4 451.7,664.8 453.0,661.1 454.3,661.4 455.6,665.3 456.9,669.9 458.2,663.6 459.5,668.2 460.8,669.1 462.1,661.2 463.4,663.0 464.7,668.4 466.0,667.1 467.3,666.1 468.6,664.8 469.9,666.5 471.2,663.4 472.5,671.4 473.8,662.2 475.1,660.6 476.4,665.7 477.7,669.0 479.0,664.1 480.3,665.3 481.6,662.9 482.9,665.4 484.2,663.0 485.5,663.1 486.8,662.0 488.1,664.4" fill="none" stroke="#000" stroke-width="3.0" stroke-linejoin="round" stroke-linecap="round"/>
<polyline points="317.8,673.7 319.1,668.1 320.4,669.2 321.7,673.6 323.0,671.2 324.3,671.3 325.6,674.7 326.9,673.9 328.2,669.0 329.5,671.6 330.8,666.6 332.1,671.0 333.4,672.1 334.7,666.5 336.0,675.2 337.3,676.3 338.6,672.4 339.9,673.5 341.2,675.0 342.5,670.6 343.8,673.8 345.1,672.1 346.4,667.1 347.7,668.7 349.0,669.6 350.3,673.9 351.6,671.4 352.9,671.8 354.2,665.8 355.5,662.8 356.8,671.1 358.1,672.6 359.4,666.4 360.7,664.8 362.0,668.4 363.3,662.4 364.6,664.7 365.9,661.5 367.2,666.5 368.5,665.8 369.8,664.1 371.1,663.4 372.4,661.2 373.7,662.9 375.0,668.3 376.3,664.1 377.6,668.3 378.9,662.7 380.2,664.8 381.5,663.8 382.8,664.3 384.1,666.9 385.4,659.5 386.7,666.8 388.0,666.6 389.3,664.8 390.6,665.0 391.9,664.2 393.2,666.5 394.5,664.9 395.8,662.5 397.1,665.1 398.4,667.1 399.7,665.6 401.0,664.7 402.3,665.1 403.6,663.3 404.9,663.3 406.2,659.6 407.5,664.0 408.8,667.0 410.1,663.4 411.4,662.0 412.7,666.7 414.0,664.8 415.3,664.7 416.6,665.5 417.9,666.1 419.2,664.1 420.5,662.1 421.8,668.7 423.1,666.3 424.4,665.2 425.7,668.3 427.0,671.3 428.3,664.7 429.6,671.9 430.9,668.2 432.2,673.8 433.5,670.4 434.8,668.5 436.1,672.1 437.4,672.2 438.7,668.0 440.0,669.5 441.3,667.6 442.6,671.4 443.9,665.4 445.2,668.6 446.5,663.6 447.8,670.7 449.1,663.4 450.4,666.5 451.7,669.9 453.0,668.4 454.3,668.2 455.6,666.8 456.9,668.2 458.2,664.9 459.5,670.3 460.8,671.5 462.1,671.5 463.4,669.4 464.7,672.7 466.0,670.7 467.3,672.0 468.6,670.6 469.9,669.7 471.2,667.7 472.5,662.8 473.8,671.3 475.1,669.4 476.4,674.8 477.7,664.6 479.0,671.9 480.3,667.3 481.6,669.8 482.9,667.5 484.2,670.7 485.5,669.7 486.8,672.1 488.1,670.2" fill="none" stroke="#000" stroke-width="3.0" stroke-linejoin="round" stroke-linecap="round"/>
<polyline points="317.8,676.5 319.1,675.1 320.4,670.1 321.7,672.6 323.0,670.7 324.3,668.2 325.6,676.6 326.9,675.6 328.2,668.6 329.5,673.1 330.8,667.7 332.1,674.5 333.4,671.7 334.7,671.1 336.0,675.0 337.3,671.9 338.6,671.2 339.9,674.1 341.2,671.1 342.5,674.0 343.8,671.8 345.1,673.9 346.4,673.4 347.7,673.8 349.0,669.3 350.3,676.6 351.6,671.4 352.9,679.8 354.2,678.2 355.5,681.1 356.8,682.2 358.1,686.4 359.4,682.7 360.7,685.1 362.0,680.3 363.3,683.3 364.6,685.2 365.9,684.6 367.2,680.3 368.5,686.5 369.8,683.0 371.1,690.5 372.4,685.3 373.7,691.7 375.0,687.8 376.3,687.5 377.6,685.3 378.9,686.4 380.2,688.0 381.5,682.1 382.8,689.8 384.1,684.4 385.4,686.9 386.7,680.8 388.0,689.1 389.3,690.1 390.6,689.1 391.9,689.3 393.2,687.8 394.5,689.3 395.8,692.2 397.1,688.2 398.4,690.7 399.7,691.5 401.0,689.2 402.3,690.6 403.6,690.7 404.9,689.1 406.2,696.7 407.5,689.6 408.8,695.3 410.1,693.8 411.4,686.1 412.7,692.1 414.0,694.3 415.3,693.9 416.6,689.7 417.9,692.8 419.2,689.3 420.5,689.9 421.8,692.1 423.1,688.3 424.4,689.6 425.7,685.2 427.0,686.3 428.3,680.0 429.6,679.7 430.9,681.1 432.2,686.5 433.5,678.2 434.8,677.3 436.1,680.8 437.4,683.8 438.7,676.3 440.0,679.5 441.3,676.4 442.6,683.4 443.9,681.2 445.2,679.9 446.5,678.8 447.8,678.1 449.1,678.9 450.4,676.6 451.7,675.8 453.0,675.0 454.3,677.7 455.6,675.5 456.9,679.6 458.2,671.8 459.5,678.4 460.8,678.2 462.1,679.8 463.4,675.9 464.7,672.5 466.0,673.9 467.3,679.0 468.6,675.2 469.9,674.8 471.2,674.2 472.5,675.4 473.8,674.9 475.1,671.3 476.4,673.7 477.7,677.7 479.0,678.8 480.3,674.6 481.6,673.5 482.9,678.2 484.2,674.2 485.5,671.5 486.8,674.2 488.1,676.2" fill="none" stroke="#000" stroke-width="3.0" stroke-linejoin="round" stroke-linecap="round"/>
<polyline points="317.8,671.4 319.1,671.4 320.4,667.1 321.7,671.4 323.0,670.8 324.3,669.6 325.6,672.1 326.9,673.4 328.2,671.2 329.5,665.6 330.8,670.4 332.1,668.9 333.4,668.6 334.7,670.1 336.0,668.4 337.3,673.4 338.6,670.0 339.9,669.3 341.2,671.2 342.5,671.3 343.8,672.2 345.1,670.9 346.4,669.2 347.7,669.6 349.0,663.8 350.3,665.6 351.6,671.9 352.9,673.6 354.2,687.0 355.5,692.3 356.8,688.2 358.1,694.9 359.4,703.5 360.7,696.1 362.0,700.7 363.3,700.6 364.6,702.0 365.9,703.3 367.2,705.2 368.5,708.4 369.8,705.7 371.1,710.2 372.4,708.2 373.7,712.5 375.0,713.0 376.3,711.3 377.6,714.6 378.9,713.4 380.2,714.1 381.5,720.1 382.8,713.5 384.1,720.4 385.4,721.6 386.7,719.2 388.0,724.2 389.3,724.6 390.6,719.8 391.9,725.1 393.2,725.7 394.5,723.4 395.8,727.4 397.1,728.5 398.4,725.4 399.7,722.8 401.0,729.5 402.3,727.2 403.6,725.3 404.9,729.2 406.2,724.8 407.5,730.4 408.8,735.6 410.1,725.1 411.4,734.0 412.7,731.0 414.0,732.7 415.3,731.9 416.6,736.2 417.9,735.0 419.2,733.5 420.5,732.6 421.8,735.2 423.1,723.9 424.4,712.3 425.7,714.0 427.0,712.6 428.3,705.8 429.6,713.0 430.9,709.4 432.2,714.6 433.5,712.7 434.8,707.1 436.1,706.8 437.4,704.1 438.7,702.7 440.0,707.6 441.3,704.5 442.6,703.6 443.9,703.8 445.2,705.5 446.5,705.7 447.8,702.9 449.1,702.0 450.4,702.3 451.7,706.9 453.0,696.0 454.3,698.0 455.6,701.8 456.9,700.6 458.2,703.0 459.5,702.9 460.8,704.2 462.1,696.9 463.4,700.2 464.7,697.7 466.0,700.5 467.3,698.2 468.6,699.7 469.9,695.3 471.2,697.4 472.5,695.4 473.8,695.8 475.1,695.1 476.4,693.4 477.7,698.6 479.0,696.3 480.3,698.2 481.6,692.6 482.9,690.0 484.2,693.1 485.5,694.2 486.8,696.4 488.1,696.9" fill="none" stroke="#d04838" stroke-width="3.7" stroke-linejoin="round" stroke-linecap="round"/>
<polyline points="317.8,671.4 319.1,671.4 320.4,667.1 321.7,671.4 323.0,670.8 324.3,669.6 325.6,672.1 326.9,673.4 328.2,671.2 329.5,665.6 330.8,670.4 332.1,668.9 333.4,668.6 334.7,670.1 336.0,668.4 337.3,673.4 338.6,670.0 339.9,669.3 341.2,671.2 342.5,671.3 343.8,672.2 345.1,670.9 346.4,669.2 347.7,669.6 349.0,663.8 350.3,665.6 351.6,671.9 352.9,673.6 354.2,687.0 355.5,692.3 356.8,688.2 358.1,694.9 359.4,703.5 360.7,696.1 362.0,700.7 363.3,700.6 364.6,702.0 365.9,703.3 367.2,705.2 368.5,708.4 369.8,705.7 371.1,710.2 372.4,708.2 373.7,712.5 375.0,713.0 376.3,711.3 377.6,714.6 378.9,713.4 380.2,714.1 381.5,720.1 382.8,713.5 384.1,720.4 385.4,721.6 386.7,719.2 388.0,724.2 389.3,724.6 390.6,719.8 391.9,725.1 393.2,725.7 394.5,723.4 395.8,727.4 397.1,728.5 398.4,725.4 399.7,722.8 401.0,729.5 402.3,727.2 403.6,725.3 404.9,729.2 406.2,724.8 407.5,730.4 408.8,735.6 410.1,725.1 411.4,734.0 412.7,731.0 414.0,732.7 415.3,731.9 416.6,736.2 417.9,735.0 419.2,733.5 420.5,732.6 421.8,735.2 423.1,723.9 424.4,712.3 425.7,714.0 427.0,712.6 428.3,705.8 429.6,713.0 430.9,709.4 432.2,714.6 433.5,712.7 434.8,707.1 436.1,706.8 437.4,704.1 438.7,702.7 440.0,707.6 441.3,704.5 442.6,703.6 443.9,703.8 445.2,705.5 446.5,705.7 447.8,702.9 449.1,702.0 450.4,702.3 451.7,706.9 453.0,696.0 454.3,698.0 455.6,701.8 456.9,700.6 458.2,703.0 459.5,702.9 460.8,704.2 462.1,696.9 463.4,700.2 464.7,697.7 466.0,700.5 467.3,698.2 468.6,699.7 469.9,695.3 471.2,697.4 472.5,695.4 473.8,695.8 475.1,695.1 476.4,693.4 477.7,698.6 479.0,696.3 480.3,698.2 481.6,692.6 482.9,690.0 484.2,693.1 485.5,694.2 486.8,696.4 488.1,696.9" fill="none" stroke="#06be06" stroke-width="3.0" stroke-linejoin="round" stroke-linecap="round"/>
<polyline points="503.2,665.4 504.3,660.5 505.4,662.4 506.5,665.9 507.6,664.4 508.7,663.2 509.8,668.6 510.9,670.3 512.0,662.1 513.1,663.8 514.2,657.4 515.3,663.0 516.4,666.8 517.5,669.1 518.6,665.0 519.7,663.4 520.8,659.7 521.9,665.2 523.0,657.5 524.1,664.7 525.2,664.1 526.3,658.6 527.4,665.9 528.5,662.7 529.6,667.5 530.7,661.1 531.8,666.9 532.9,673.3 534.0,665.1 535.1,668.7 536.2,660.1 537.3,661.8 538.4,643.4 539.5,650.6 540.6,643.7 541.7,650.8 542.8,637.7 543.9,644.8 545.0,650.5 546.1,652.3 547.2,640.1 548.3,647.5 549.4,665.2 550.5,654.7 551.6,650.9 552.7,633.5 553.8,644.5 554.9,653.0 556.0,651.4 557.1,652.7 558.2,655.7 559.3,650.5 560.4,655.0 561.5,639.3 562.6,664.8 563.7,648.2 564.8,646.1 565.9,658.9 567.0,653.6 568.1,655.7 569.2,646.3 570.3,651.6 571.4,654.2 572.5,643.2 573.6,648.6 574.7,648.5 575.8,648.2 576.9,645.8 578.0,642.4 579.1,652.5 580.2,651.4 581.3,656.8 582.4,649.5 583.5,645.9 584.6,641.3 585.7,650.4 586.8,648.1 587.9,661.9 589.0,663.6 590.1,659.3 591.2,644.5 592.3,641.6 593.4,648.5 594.5,644.6 595.6,658.4 596.7,650.6 597.8,647.5 598.9,649.8 600.0,657.4 601.1,644.3 602.2,652.8 603.3,642.0 604.4,648.7 605.5,646.0 606.6,656.4 607.7,660.3 608.8,668.9 609.9,667.0 611.0,659.8 612.1,655.8 613.2,658.9 614.3,661.3 615.4,662.5 616.5,659.4 617.6,670.3 618.7,669.5 619.8,662.3 620.9,660.9 622.0,662.5 623.1,663.6 624.2,663.8 625.3,654.3 626.4,661.3 627.5,652.7 628.6,664.1 629.7,667.9 630.8,657.6 631.9,664.9 633.0,660.2 634.1,659.8 635.2,675.6 636.3,669.2 637.4,666.8 638.5,661.3 639.6,666.3 640.7,662.8 641.8,666.6 642.9,658.5 644.0,663.5 645.1,661.5 646.2,655.5 647.3,673.9 648.4,668.8 649.5,659.2 650.6,655.1 651.7,659.5 652.8,658.9 653.9,660.2 655.0,654.9 656.1,658.9 657.2,664.3 658.3,666.3 659.4,652.1 660.5,663.8 661.6,658.0 662.7,657.7 663.8,662.0 664.9,659.8 666.0,668.0 667.1,668.1 668.2,662.1 669.3,660.0 670.4,674.6 671.5,675.0 672.6,666.2 673.7,663.0" fill="none" stroke="#000" stroke-width="3.0" stroke-linejoin="round" stroke-linecap="round"/>
<polyline points="503.2,677.0 504.3,670.4 505.4,677.0 506.5,667.5 507.6,671.1 508.7,667.9 509.8,673.7 510.9,670.5 512.0,677.2 513.1,675.6 514.2,673.3 515.3,670.8 516.4,669.3 517.5,671.1 518.6,675.2 519.7,671.8 520.8,672.6 521.9,670.8 523.0,670.6 524.1,667.3 525.2,660.6 526.3,674.2 527.4,674.1 528.5,665.6 529.6,681.7 530.7,664.5 531.8,676.6 532.9,672.4 534.0,672.8 535.1,677.4 536.2,676.2 537.3,671.2 538.4,657.1 539.5,653.6 540.6,660.5 541.7,668.0 542.8,664.0 543.9,658.9 545.0,660.9 546.1,662.9 547.2,668.6 548.3,654.8 549.4,663.1 550.5,660.6 551.6,654.8 552.7,653.4 553.8,666.1 554.9,660.9 556.0,657.9 557.1,659.6 558.2,664.5 559.3,659.6 560.4,668.0 561.5,657.6 562.6,654.7 563.7,658.4 564.8,653.8 565.9,657.1 567.0,665.9 568.1,668.6 569.2,662.6 570.3,660.1 571.4,654.0 572.5,653.4 573.6,661.1 574.7,660.0 575.8,655.8 576.9,656.6 578.0,667.7 579.1,664.6 580.2,659.3 581.3,660.3 582.4,666.2 583.5,661.1 584.6,660.4 585.7,650.3 586.8,649.6 587.9,648.4 589.0,646.5 590.1,659.0 591.2,660.9 592.3,654.2 593.4,661.5 594.5,661.5 595.6,658.6 596.7,650.8 597.8,667.1 598.9,666.7 600.0,655.8 601.1,669.9 602.2,659.3 603.3,654.7 604.4,656.7 605.5,648.7 606.6,661.0 607.7,658.2 608.8,675.5 609.9,671.9 611.0,662.9 612.1,674.0 613.2,661.4 614.3,671.9 615.4,673.7 616.5,671.4 617.6,664.8 618.7,670.4 619.8,670.0 620.9,671.4 622.0,679.3 623.1,680.5 624.2,679.9 625.3,667.5 626.4,666.9 627.5,671.2 628.6,673.4 629.7,659.5 630.8,667.6 631.9,681.0 633.0,664.1 634.1,666.9 635.2,667.1 636.3,673.8 637.4,670.7 638.5,669.2 639.6,662.5 640.7,674.4 641.8,671.0 642.9,667.3 644.0,671.2 645.1,675.4 646.2,662.8 647.3,662.3 648.4,665.3 649.5,666.1 650.6,654.0 651.7,667.6 652.8,677.2 653.9,669.2 655.0,676.7 656.1,654.9 657.2,670.4 658.3,678.8 659.4,679.8 660.5,668.2 661.6,666.4 662.7,673.2 663.8,664.2 664.9,669.0 666.0,661.7 667.1,671.5 668.2,671.1 669.3,680.1 670.4,673.0 671.5,667.3 672.6,670.5 673.7,663.8" fill="none" stroke="#000" stroke-width="3.0" stroke-linejoin="round" stroke-linecap="round"/>
<polyline points="503.2,663.6 504.3,660.1 505.4,657.3 506.5,670.7 507.6,668.8 508.7,657.7 509.8,657.2 510.9,668.0 512.0,659.9 513.1,661.6 514.2,652.5 515.3,662.7 516.4,669.7 517.5,660.9 518.6,662.8 519.7,673.1 520.8,668.3 521.9,671.3 523.0,666.9 524.1,670.1 525.2,654.2 526.3,658.8 527.4,654.2 528.5,675.8 529.6,664.4 530.7,662.7 531.8,659.2 532.9,657.8 534.0,647.9 535.1,675.9 536.2,663.0 537.3,663.8 538.4,654.3 539.5,661.3 540.6,663.6 541.7,661.0 542.8,664.8 543.9,656.8 545.0,663.2 546.1,666.4 547.2,664.5 548.3,663.5 549.4,660.8 550.5,655.9 551.6,664.5 552.7,659.2 553.8,656.2 554.9,665.6 556.0,652.5 557.1,658.3 558.2,665.7 559.3,666.7 560.4,659.3 561.5,661.8 562.6,664.4 563.7,661.0 564.8,657.1 565.9,663.8 567.0,662.3 568.1,662.0 569.2,667.6 570.3,663.1 571.4,658.9 572.5,662.3 573.6,672.2 574.7,657.4 575.8,659.9 576.9,657.0 578.0,663.4 579.1,654.4 580.2,663.9 581.3,665.6 582.4,657.1 583.5,656.7 584.6,653.1 585.7,661.6 586.8,655.2 587.9,657.9 589.0,659.1 590.1,657.6 591.2,666.1 592.3,670.3 593.4,649.6 594.5,656.9 595.6,662.8 596.7,655.6 597.8,658.4 598.9,662.6 600.0,669.2 601.1,667.9 602.2,659.8 603.3,662.1 604.4,659.4 605.5,660.4 606.6,655.5 607.7,652.9 608.8,661.1 609.9,668.7 611.0,667.6 612.1,653.0 613.2,662.3 614.3,659.9 615.4,665.0 616.5,657.3 617.6,668.5 618.7,662.3 619.8,666.6 620.9,668.3 622.0,652.7 623.1,662.2 624.2,671.8 625.3,663.6 626.4,669.2 627.5,665.8 628.6,660.7 629.7,665.0 630.8,669.3 631.9,670.6 633.0,671.5 634.1,657.3 635.2,668.0 636.3,655.8 637.4,662.7 638.5,662.3 639.6,666.9 640.7,665.2 641.8,670.4 642.9,660.1 644.0,668.1 645.1,665.6 646.2,663.4 647.3,656.8 648.4,666.6 649.5,665.2 650.6,667.8 651.7,663.2 652.8,662.0 653.9,665.6 655.0,666.0 656.1,667.3 657.2,673.9 658.3,660.0 659.4,674.5 660.5,647.0 661.6,668.7 662.7,658.9 663.8,674.5 664.9,658.5 666.0,669.3 667.1,658.0 668.2,657.2 669.3,667.9 670.4,668.3 671.5,659.6 672.6,676.8 673.7,661.7" fill="none" stroke="#000" stroke-width="3.0" stroke-linejoin="round" stroke-linecap="round"/>
<polyline points="503.2,682.9 504.3,665.6 505.4,669.7 506.5,666.1 507.6,666.5 508.7,669.0 509.8,665.5 510.9,669.2 512.0,680.4 513.1,660.9 514.2,663.7 515.3,665.5 516.4,668.4 517.5,677.1 518.6,675.4 519.7,673.9 520.8,672.3 521.9,685.2 523.0,664.5 524.1,664.3 525.2,671.0 526.3,672.3 527.4,669.7 528.5,666.2 529.6,663.4 530.7,669.5 531.8,667.0 532.9,668.3 534.0,664.8 535.1,679.0 536.2,673.8 537.3,682.0 538.4,668.1 539.5,671.5 540.6,669.7 541.7,671.2 542.8,669.6 543.9,670.1 545.0,659.5 546.1,669.5 547.2,675.2 548.3,659.7 549.4,669.1 550.5,674.5 551.6,678.6 552.7,670.6 553.8,673.8 554.9,681.5 556.0,678.8 557.1,668.5 558.2,667.6 559.3,677.1 560.4,672.4 561.5,667.9 562.6,669.8 563.7,673.0 564.8,669.9 565.9,669.6 567.0,669.7 568.1,662.4 569.2,681.3 570.3,678.3 571.4,680.0 572.5,670.3 573.6,671.9 574.7,674.5 575.8,675.9 576.9,660.4 578.0,673.2 579.1,665.3 580.2,670.7 581.3,667.2 582.4,681.1 583.5,674.3 584.6,671.0 585.7,679.3 586.8,670.7 587.9,666.9 589.0,670.0 590.1,669.0 591.2,671.4 592.3,676.1 593.4,670.4 594.5,670.7 595.6,677.1 596.7,672.8 597.8,676.7 598.9,671.9 600.0,663.5 601.1,664.5 602.2,661.4 603.3,677.8 604.4,673.6 605.5,668.3 606.6,665.3 607.7,673.2 608.8,670.4 609.9,673.0 611.0,666.2 612.1,664.6 613.2,680.3 614.3,665.5 615.4,671.0 616.5,679.0 617.6,660.4 618.7,675.2 619.8,671.5 620.9,670.3 622.0,672.7 623.1,664.1 624.2,658.1 625.3,682.2 626.4,669.5 627.5,676.4 628.6,677.6 629.7,672.8 630.8,673.8 631.9,675.3 633.0,680.4 634.1,674.0 635.2,678.5 636.3,669.4 637.4,668.6 638.5,671.6 639.6,673.5 640.7,674.3 641.8,682.6 642.9,676.1 644.0,671.5 645.1,682.8 646.2,673.1 647.3,673.2 648.4,674.0 649.5,669.2 650.6,664.7 651.7,671.9 652.8,669.3 653.9,666.1 655.0,671.8 656.1,670.0 657.2,667.7 658.3,660.7 659.4,670.2 660.5,681.5 661.6,676.4 662.7,677.5 663.8,671.0 664.9,677.3 666.0,667.2 667.1,668.5 668.2,674.2 669.3,662.8 670.4,671.5 671.5,672.9 672.6,681.0 673.7,667.1" fill="none" stroke="#000" stroke-width="3.0" stroke-linejoin="round" stroke-linecap="round"/>
<polyline points="503.2,665.6 504.3,663.3 505.4,663.8 506.5,668.7 507.6,664.3 508.7,667.7 509.8,668.6 510.9,675.6 512.0,660.2 513.1,669.3 514.2,663.4 515.3,665.0 516.4,677.3 517.5,671.3 518.6,665.3 519.7,670.5 520.8,667.5 521.9,674.2 523.0,664.7 524.1,670.5 525.2,666.4 526.3,667.6 527.4,666.7 528.5,663.9 529.6,668.2 530.7,673.5 531.8,664.0 532.9,665.3 534.0,669.8 535.1,663.1 536.2,672.8 537.3,671.8 538.4,660.3 539.5,673.4 540.6,672.5 541.7,684.7 542.8,685.8 543.9,673.2 545.0,676.4 546.1,680.1 547.2,678.4 548.3,684.9 549.4,686.5 550.5,684.1 551.6,687.1 552.7,686.2 553.8,680.2 554.9,678.0 556.0,676.2 557.1,685.5 558.2,685.9 559.3,686.7 560.4,678.7 561.5,678.3 562.6,682.2 563.7,688.1 564.8,682.8 565.9,681.9 567.0,675.7 568.1,683.3 569.2,683.8 570.3,675.0 571.4,691.1 572.5,675.1 573.6,686.2 574.7,679.4 575.8,681.6 576.9,675.9 578.0,677.2 579.1,684.8 580.2,679.5 581.3,678.6 582.4,685.9 583.5,684.9 584.6,681.6 585.7,682.0 586.8,690.9 587.9,679.6 589.0,682.9 590.1,683.2 591.2,672.3 592.3,669.1 593.4,681.4 594.5,685.8 595.6,681.8 596.7,677.4 597.8,676.7 598.9,685.5 600.0,678.8 601.1,671.0 602.2,684.7 603.3,682.1 604.4,682.9 605.5,686.9 606.6,686.0 607.7,678.3 608.8,671.9 609.9,659.0 611.0,672.5 612.1,669.2 613.2,677.4 614.3,676.8 615.4,671.7 616.5,676.8 617.6,668.0 618.7,668.0 619.8,663.1 620.9,666.2 622.0,669.2 623.1,674.2 624.2,663.5 625.3,672.6 626.4,681.7 627.5,659.7 628.6,666.2 629.7,667.8 630.8,673.7 631.9,679.5 633.0,675.0 634.1,667.4 635.2,662.6 636.3,667.3 637.4,667.4 638.5,669.1 639.6,662.3 640.7,676.7 641.8,663.3 642.9,671.7 644.0,668.9 645.1,661.1 646.2,668.0 647.3,667.7 648.4,666.5 649.5,672.4 650.6,664.8 651.7,682.8 652.8,674.4 653.9,662.1 655.0,652.7 656.1,675.1 657.2,669.1 658.3,668.1 659.4,661.8 660.5,659.0 661.6,656.5 662.7,682.9 663.8,677.2 664.9,664.3 666.0,678.8 667.1,656.5 668.2,671.8 669.3,671.8 670.4,662.4 671.5,664.9 672.6,661.3 673.7,667.8" fill="none" stroke="#000" stroke-width="3.0" stroke-linejoin="round" stroke-linecap="round"/>
<polyline points="503.2,661.7 504.3,664.9 505.4,674.0 506.5,655.8 507.6,665.4 508.7,669.0 509.8,666.9 510.9,668.5 512.0,662.0 513.1,657.0 514.2,658.8 515.3,663.9 516.4,670.4 517.5,666.7 518.6,675.3 519.7,666.8 520.8,667.3 521.9,667.4 523.0,656.5 524.1,669.5 525.2,660.0 526.3,664.1 527.4,679.4 528.5,659.3 529.6,666.9 530.7,667.9 531.8,667.0 532.9,666.3 534.0,663.1 535.1,677.5 536.2,654.9 537.3,660.5 538.4,687.5 539.5,688.8 540.6,684.6 541.7,685.5 542.8,690.0 543.9,706.7 545.0,694.8 546.1,686.3 547.2,693.5 548.3,688.7 549.4,700.7 550.5,693.9 551.6,699.3 552.7,693.2 553.8,703.7 554.9,694.6 556.0,693.8 557.1,686.5 558.2,689.9 559.3,694.4 560.4,689.5 561.5,706.3 562.6,692.2 563.7,688.0 564.8,697.8 565.9,689.3 567.0,694.5 568.1,691.7 569.2,688.2 570.3,700.1 571.4,692.8 572.5,698.4 573.6,690.3 574.7,684.2 575.8,685.2 576.9,689.3 578.0,691.2 579.1,692.6 580.2,695.1 581.3,685.2 582.4,693.5 583.5,685.4 584.6,688.4 585.7,706.7 586.8,699.4 587.9,690.2 589.0,702.4 590.1,700.3 591.2,697.3 592.3,700.5 593.4,690.9 594.5,691.5 595.6,687.4 596.7,695.5 597.8,685.2 598.9,689.4 600.0,694.8 601.1,689.4 602.2,694.2 603.3,702.5 604.4,686.7 605.5,700.1 606.6,682.9 607.7,674.8 608.8,677.4 609.9,679.3 611.0,667.8 612.1,666.5 613.2,667.2 614.3,664.9 615.4,669.5 616.5,664.0 617.6,666.2 618.7,669.3 619.8,664.8 620.9,673.5 622.0,663.0 623.1,662.4 624.2,678.1 625.3,675.0 626.4,666.9 627.5,671.1 628.6,668.3 629.7,663.5 630.8,670.2 631.9,668.1 633.0,673.5 634.1,655.9 635.2,670.8 636.3,667.2 637.4,662.4 638.5,663.8 639.6,664.0 640.7,658.8 641.8,663.0 642.9,670.7 644.0,657.7 645.1,664.1 646.2,652.9 647.3,663.0 648.4,668.4 649.5,666.0 650.6,666.5 651.7,659.9 652.8,669.4 653.9,661.2 655.0,671.4 656.1,667.4 657.2,664.1 658.3,674.6 659.4,664.0 660.5,672.0 661.6,666.8 662.7,666.3 663.8,671.9 664.9,668.7 666.0,666.2 667.1,665.6 668.2,667.4 669.3,666.7 670.4,664.4 671.5,660.4 672.6,651.6 673.7,665.6" fill="none" stroke="#000" stroke-width="3.0" stroke-linejoin="round" stroke-linecap="round"/>
<polyline points="503.2,676.4 504.3,667.3 505.4,668.1 506.5,664.4 507.6,670.9 508.7,672.6 509.8,663.7 510.9,670.1 512.0,664.3 513.1,659.8 514.2,664.9 515.3,670.3 516.4,670.0 517.5,673.0 518.6,663.0 519.7,665.1 520.8,667.2 521.9,670.4 523.0,666.2 524.1,661.4 525.2,658.0 526.3,673.5 527.4,672.9 528.5,663.1 529.6,675.3 530.7,666.5 531.8,669.4 532.9,674.0 534.0,664.1 535.1,662.4 536.2,656.9 537.3,668.6 538.4,684.7 539.5,694.6 540.6,696.9 541.7,696.1 542.8,703.2 543.9,691.5 545.0,700.1 546.1,701.2 547.2,698.0 548.3,708.8 549.4,701.8 550.5,707.3 551.6,705.1 552.7,699.3 553.8,711.6 554.9,707.2 556.0,701.3 557.1,700.8 558.2,695.9 559.3,701.3 560.4,701.1 561.5,704.0 562.6,700.7 563.7,706.7 564.8,703.2 565.9,695.0 567.0,701.4 568.1,699.5 569.2,697.7 570.3,703.8 571.4,710.8 572.5,699.5 573.6,694.8 574.7,705.6 575.8,723.9 576.9,703.8 578.0,709.0 579.1,705.5 580.2,713.0 581.3,716.7 582.4,707.9 583.5,715.8 584.6,703.2 585.7,710.9 586.8,702.8 587.9,711.4 589.0,707.1 590.1,712.3 591.2,704.9 592.3,712.9 593.4,712.5 594.5,708.9 595.6,707.9 596.7,706.1 597.8,710.9 598.9,715.8 600.0,713.0 601.1,715.0 602.2,721.7 603.3,712.9 604.4,716.7 605.5,720.1 606.6,704.9 607.7,689.0 608.8,679.0 609.9,684.9 611.0,670.6 612.1,667.0 613.2,671.4 614.3,676.4 615.4,674.5 616.5,666.1 617.6,670.3 618.7,668.0 619.8,665.4 620.9,668.5 622.0,668.1 623.1,665.3 624.2,674.2 625.3,662.1 626.4,672.2 627.5,676.1 628.6,676.2 629.7,665.6 630.8,663.0 631.9,654.9 633.0,663.7 634.1,677.9 635.2,655.0 636.3,655.1 637.4,668.7 638.5,667.5 639.6,653.5 640.7,663.6 641.8,665.9 642.9,655.3 644.0,669.4 645.1,656.4 646.2,670.4 647.3,665.1 648.4,659.9 649.5,654.7 650.6,662.0 651.7,663.4 652.8,663.2 653.9,660.5 655.0,662.7 656.1,668.9 657.2,658.7 658.3,662.7 659.4,666.5 660.5,663.8 661.6,668.9 662.7,672.8 663.8,661.9 664.9,665.1 666.0,647.1 667.1,661.9 668.2,667.7 669.3,657.5 670.4,671.5 671.5,653.2 672.6,671.6 673.7,661.0" fill="none" stroke="#d04838" stroke-width="3.7" stroke-linejoin="round" stroke-linecap="round"/>
<polyline points="503.2,676.4 504.3,667.3 505.4,668.1 506.5,664.4 507.6,670.9 508.7,672.6 509.8,663.7 510.9,670.1 512.0,664.3 513.1,659.8 514.2,664.9 515.3,670.3 516.4,670.0 517.5,673.0 518.6,663.0 519.7,665.1 520.8,667.2 521.9,670.4 523.0,666.2 524.1,661.4 525.2,658.0 526.3,673.5 527.4,672.9 528.5,663.1 529.6,675.3 530.7,666.5 531.8,669.4 532.9,674.0 534.0,664.1 535.1,662.4 536.2,656.9 537.3,668.6 538.4,684.7 539.5,694.6 540.6,696.9 541.7,696.1 542.8,703.2 543.9,691.5 545.0,700.1 546.1,701.2 547.2,698.0 548.3,708.8 549.4,701.8 550.5,707.3 551.6,705.1 552.7,699.3 553.8,711.6 554.9,707.2 556.0,701.3 557.1,700.8 558.2,695.9 559.3,701.3 560.4,701.1 561.5,704.0 562.6,700.7 563.7,706.7 564.8,703.2 565.9,695.0 567.0,701.4 568.1,699.5 569.2,697.7 570.3,703.8 571.4,710.8 572.5,699.5 573.6,694.8 574.7,705.6 575.8,723.9 576.9,703.8 578.0,709.0 579.1,705.5 580.2,713.0 581.3,716.7 582.4,707.9 583.5,715.8 584.6,703.2 585.7,710.9 586.8,702.8 587.9,711.4 589.0,707.1 590.1,712.3 591.2,704.9 592.3,712.9 593.4,712.5 594.5,708.9 595.6,707.9 596.7,706.1 597.8,710.9 598.9,715.8 600.0,713.0 601.1,715.0 602.2,721.7 603.3,712.9 604.4,716.7 605.5,720.1 606.6,704.9 607.7,689.0 608.8,679.0 609.9,684.9 611.0,670.6 612.1,667.0 613.2,671.4 614.3,676.4 615.4,674.5 616.5,666.1 617.6,670.3 618.7,668.0 619.8,665.4 620.9,668.5 622.0,668.1 623.1,665.3 624.2,674.2 625.3,662.1 626.4,672.2 627.5,676.1 628.6,676.2 629.7,665.6 630.8,663.0 631.9,654.9 633.0,663.7 634.1,677.9 635.2,655.0 636.3,655.1 637.4,668.7 638.5,667.5 639.6,653.5 640.7,663.6 641.8,665.9 642.9,655.3 644.0,669.4 645.1,656.4 646.2,670.4 647.3,665.1 648.4,659.9 649.5,654.7 650.6,662.0 651.7,663.4 652.8,663.2 653.9,660.5 655.0,662.7 656.1,668.9 657.2,658.7 658.3,662.7 659.4,666.5 660.5,663.8 661.6,668.9 662.7,672.8 663.8,661.9 664.9,665.1 666.0,647.1 667.1,661.9 668.2,667.7 669.3,657.5 670.4,671.5 671.5,653.2 672.6,671.6 673.7,661.0" fill="none" stroke="#06be06" stroke-width="3.0" stroke-linejoin="round" stroke-linecap="round"/></g>
<line x1="144.00" y1="803.30" x2="144.00" y2="940.50" stroke="#000" stroke-width="1.7"/>
<line x1="140.40" y1="803.90" x2="144.00" y2="803.90" stroke="#000" stroke-width="1.5"/>
<line x1="140.40" y1="816.87" x2="144.00" y2="816.87" stroke="#000" stroke-width="1.5"/>
<line x1="137.80" y1="829.84" x2="144.00" y2="829.84" stroke="#000" stroke-width="1.5"/>
<line x1="140.40" y1="842.81" x2="144.00" y2="842.81" stroke="#000" stroke-width="1.5"/>
<line x1="140.40" y1="855.78" x2="144.00" y2="855.78" stroke="#000" stroke-width="1.5"/>
<line x1="140.40" y1="868.75" x2="144.00" y2="868.75" stroke="#000" stroke-width="1.5"/>
<line x1="140.40" y1="881.72" x2="144.00" y2="881.72" stroke="#000" stroke-width="1.5"/>
<line x1="137.80" y1="894.69" x2="144.00" y2="894.69" stroke="#000" stroke-width="1.5"/>
<line x1="140.40" y1="907.66" x2="144.00" y2="907.66" stroke="#000" stroke-width="1.5"/>
<line x1="140.40" y1="920.63" x2="144.00" y2="920.63" stroke="#000" stroke-width="1.5"/>
<line x1="140.40" y1="933.60" x2="144.00" y2="933.60" stroke="#000" stroke-width="1.5"/>
<text x="134.80" y="835.54" font-size="16" text-anchor="end">-0.5</text>
<text x="134.80" y="900.39" font-size="16" text-anchor="end">-1.0</text>
<line x1="163.60" y1="801.20" x2="163.60" y2="947.00" stroke="#000" stroke-width="2.5" stroke-dasharray="4.3 5.0"/>
<line x1="151.10" y1="943.00" x2="151.10" y2="947.80" stroke="#000" stroke-width="1.8"/>
<text x="152.50" y="968.80" font-size="18.3" text-anchor="middle">0</text>
<line x1="168.20" y1="940.00" x2="279.60" y2="940.00" stroke="#000" stroke-width="1.7"/>
<line x1="176.70" y1="940.00" x2="176.70" y2="948.20" stroke="#000" stroke-width="1.6"/>
<line x1="202.40" y1="940.00" x2="202.40" y2="948.20" stroke="#000" stroke-width="1.6"/>
<line x1="228.10" y1="940.00" x2="228.10" y2="948.20" stroke="#000" stroke-width="1.6"/>
<line x1="253.80" y1="940.00" x2="253.80" y2="948.20" stroke="#000" stroke-width="1.6"/>
<line x1="279.50" y1="940.00" x2="279.50" y2="948.20" stroke="#000" stroke-width="1.6"/>
<text x="228.10" y="968.80" font-size="18.3" text-anchor="middle">10</text>
<polyline points="168.5,926.7 169.4,926.6 170.4,926.6 171.3,926.6 172.2,926.6 173.2,926.6 174.1,926.6 175.0,926.6 176.0,926.6 176.9,926.6 177.8,926.5 178.8,926.5 179.7,926.5 180.6,926.5 181.6,926.5 182.5,926.4 183.4,926.4 184.4,926.4 185.3,926.3 186.2,926.3 187.2,926.3 188.1,926.2 189.0,926.2 190.0,926.2 190.9,926.1 191.8,926.1 192.8,926.0 193.7,925.9 194.6,925.9 195.6,925.8 196.5,925.7 197.4,925.7 198.3,925.6 199.3,925.5 200.2,925.4 201.1,925.3 202.1,925.2 203.0,925.0 203.9,924.9 204.9,924.8 205.8,924.6 206.7,924.4 207.7,924.3 208.6,924.1 209.5,923.9 210.5,923.6 211.4,923.4 212.3,923.1 213.3,922.9 214.2,922.6 215.1,922.2 216.1,921.9 217.0,921.5 217.9,921.1 218.9,920.7 219.8,920.3 220.7,919.8 221.7,919.3 222.6,918.7 223.5,918.2 224.5,917.5 225.4,916.9 226.3,916.2 227.3,915.4 228.2,914.7 229.1,913.8 230.1,912.9 231.0,912.0 231.9,911.0 232.9,910.0 233.8,908.9 234.7,907.8 235.7,906.6 236.6,905.4 237.5,904.1 238.5,902.7 239.4,901.3 240.3,899.9 241.3,898.4 242.2,896.9 243.1,895.3 244.1,893.7 245.0,892.0 245.9,890.3 246.9,888.6 247.8,886.9 248.7,885.1 249.7,883.3 250.6,881.6 251.5,879.8 252.4,878.0 253.4,876.2 254.3,874.4 255.2,872.7 256.2,870.9 257.1,869.2 258.0,867.6 259.0,865.9 259.9,864.3 260.8,862.7 261.8,861.2 262.7,859.8 263.6,858.3 264.6,857.0 265.5,855.6 266.4,854.4 267.4,853.1 268.3,852.0 269.2,850.9 270.2,849.8 271.1,848.8 272.0,847.8 273.0,846.9 273.9,846.1 274.8,845.3 275.8,844.5 276.7,843.8 277.6,843.1 278.6,842.4 279.5,841.8" fill="none" stroke="#b03a20" stroke-width="2.6"/>
<polyline points="168.5,926.7 169.4,926.6 170.4,926.6 171.3,926.6 172.2,926.6 173.2,926.6 174.1,926.6 175.0,926.6 176.0,926.6 176.9,926.6 177.8,926.5 178.8,926.5 179.7,926.5 180.6,926.5 181.6,926.5 182.5,926.4 183.4,926.4 184.4,926.4 185.3,926.3 186.2,926.3 187.2,926.3 188.1,926.2 189.0,926.2 190.0,926.2 190.9,926.1 191.8,926.1 192.8,926.0 193.7,925.9 194.6,925.9 195.6,925.8 196.5,925.7 197.4,925.7 198.3,925.6 199.3,925.5 200.2,925.4 201.1,925.3 202.1,925.2 203.0,925.0 203.9,924.9 204.9,924.8 205.8,924.6 206.7,924.4 207.7,924.3 208.6,924.1 209.5,923.9 210.5,923.6 211.4,923.4 212.3,923.1 213.3,922.9 214.2,922.6 215.1,922.2 216.1,921.9 217.0,921.5 217.9,921.1 218.9,920.7 219.8,920.3 220.7,919.8 221.7,919.3 222.6,918.7 223.5,918.2 224.5,917.5 225.4,916.9 226.3,916.2 227.3,915.4 228.2,914.7 229.1,913.8 230.1,912.9 231.0,912.0 231.9,911.0 232.9,910.0 233.8,908.9 234.7,907.8 235.7,906.6 236.6,905.4 237.5,904.1 238.5,902.7 239.4,901.3 240.3,899.9 241.3,898.4 242.2,896.9 243.1,895.3 244.1,893.7 245.0,892.0 245.9,890.3 246.9,888.6 247.8,886.9 248.7,885.1 249.7,883.3 250.6,881.6 251.5,879.8 252.4,878.0 253.4,876.2 254.3,874.4 255.2,872.7 256.2,870.9 257.1,869.2 258.0,867.6 259.0,865.9 259.9,864.3 260.8,862.7 261.8,861.2 262.7,859.8 263.6,858.3 264.6,857.0 265.5,855.6 266.4,854.4 267.4,853.1 268.3,852.0 269.2,850.9 270.2,849.8 271.1,848.8 272.0,847.8 273.0,846.9 273.9,846.1 274.8,845.3 275.8,844.5 276.7,843.8 277.6,843.1 278.6,842.4 279.5,841.8" fill="none" stroke="#18a818" stroke-width="1.9"/>
<circle cx="151.4" cy="927" r="5.4" fill="#00bc00" stroke="#c85040" stroke-width="0.6"/>
<circle cx="235.8" cy="908" r="5.4" fill="#00bc00" stroke="#c85040" stroke-width="0.6"/>
<circle cx="243.2" cy="895" r="5.4" fill="#00bc00" stroke="#c85040" stroke-width="0.6"/>
<circle cx="250.6" cy="881.3" r="5.4" fill="#00bc00" stroke="#c85040" stroke-width="0.6"/>
<circle cx="255.9" cy="877" r="5.4" fill="#00bc00" stroke="#c85040" stroke-width="0.6"/>
<circle cx="259.4" cy="865.4" r="5.4" fill="#00bc00" stroke="#c85040" stroke-width="0.6"/>
<path d="M134.1,956.6 q-0.9,4.6 -0.2,9.2" fill="none" stroke="#6a5a50" stroke-width="1.0"/>
<line x1="343.50" y1="803.50" x2="343.50" y2="940.50" stroke="#000" stroke-width="1.7"/>
<line x1="339.90" y1="804.90" x2="343.50" y2="804.90" stroke="#000" stroke-width="1.5"/>
<line x1="339.90" y1="816.18" x2="343.50" y2="816.18" stroke="#000" stroke-width="1.5"/>
<line x1="337.30" y1="827.46" x2="343.50" y2="827.46" stroke="#000" stroke-width="1.5"/>
<line x1="339.90" y1="838.74" x2="343.50" y2="838.74" stroke="#000" stroke-width="1.5"/>
<line x1="339.90" y1="850.02" x2="343.50" y2="850.02" stroke="#000" stroke-width="1.5"/>
<line x1="339.90" y1="861.30" x2="343.50" y2="861.30" stroke="#000" stroke-width="1.5"/>
<line x1="339.90" y1="872.58" x2="343.50" y2="872.58" stroke="#000" stroke-width="1.5"/>
<line x1="337.30" y1="883.86" x2="343.50" y2="883.86" stroke="#000" stroke-width="1.5"/>
<line x1="339.90" y1="895.14" x2="343.50" y2="895.14" stroke="#000" stroke-width="1.5"/>
<line x1="339.90" y1="906.42" x2="343.50" y2="906.42" stroke="#000" stroke-width="1.5"/>
<line x1="339.90" y1="917.70" x2="343.50" y2="917.70" stroke="#000" stroke-width="1.5"/>
<line x1="339.90" y1="928.98" x2="343.50" y2="928.98" stroke="#000" stroke-width="1.5"/>
<line x1="337.30" y1="940.26" x2="343.50" y2="940.26" stroke="#000" stroke-width="1.5"/>
<text x="334.50" y="833.16" font-size="16" text-anchor="end">-0.5</text>
<text x="334.50" y="889.56" font-size="16" text-anchor="end">-1.0</text>
<text x="334.50" y="945.96" font-size="16" text-anchor="end">-1.5</text>
<line x1="363.50" y1="801.20" x2="363.50" y2="947.00" stroke="#000" stroke-width="2.5" stroke-dasharray="4.3 5.0"/>
<line x1="351.20" y1="943.00" x2="351.20" y2="947.80" stroke="#000" stroke-width="1.8"/>
<text x="352.60" y="968.80" font-size="18.3" text-anchor="middle">0</text>
<line x1="368.00" y1="940.00" x2="478.40" y2="940.00" stroke="#000" stroke-width="1.7"/>
<line x1="377.40" y1="940.00" x2="377.40" y2="948.20" stroke="#000" stroke-width="1.6"/>
<line x1="402.60" y1="940.00" x2="402.60" y2="948.20" stroke="#000" stroke-width="1.6"/>
<line x1="427.80" y1="940.00" x2="427.80" y2="948.20" stroke="#000" stroke-width="1.6"/>
<line x1="453.00" y1="940.00" x2="453.00" y2="948.20" stroke="#000" stroke-width="1.6"/>
<line x1="478.20" y1="940.00" x2="478.20" y2="948.20" stroke="#000" stroke-width="1.6"/>
<text x="427.70" y="968.80" font-size="18.3" text-anchor="middle">10</text>
<polyline points="368.5,925.3 369.4,925.3 370.3,925.3 371.2,925.3 372.1,925.3 373.0,925.3 373.9,925.3 374.8,925.3 375.7,925.3 376.6,925.3 377.5,925.3 378.4,925.3 379.3,925.2 380.2,925.2 381.1,925.2 382.1,925.2 383.0,925.2 383.9,925.2 384.8,925.2 385.7,925.1 386.6,925.1 387.5,925.1 388.4,925.1 389.3,925.0 390.2,925.0 391.1,925.0 392.0,925.0 392.9,924.9 393.8,924.9 394.7,924.8 395.6,924.8 396.5,924.8 397.4,924.7 398.3,924.7 399.2,924.6 400.1,924.5 401.0,924.5 401.9,924.4 402.8,924.3 403.7,924.2 404.6,924.1 405.5,924.0 406.4,923.9 407.3,923.8 408.2,923.7 409.2,923.6 410.1,923.4 411.0,923.2 411.9,923.1 412.8,922.9 413.7,922.7 414.6,922.5 415.5,922.3 416.4,922.0 417.3,921.8 418.2,921.5 419.1,921.2 420.0,920.9 420.9,920.5 421.8,920.1 422.7,919.7 423.6,919.3 424.5,918.8 425.4,918.3 426.3,917.8 427.2,917.2 428.1,916.6 429.0,916.0 429.9,915.2 430.8,914.5 431.7,913.7 432.6,912.8 433.5,911.9 434.4,911.0 435.3,909.9 436.3,908.8 437.2,907.7 438.1,906.4 439.0,905.1 439.9,903.7 440.8,902.2 441.7,900.7 442.6,899.1 443.5,897.3 444.4,895.5 445.3,893.6 446.2,891.7 447.1,889.6 448.0,887.4 448.9,885.2 449.8,882.9 450.7,880.5 451.6,878.0 452.5,875.4 453.4,872.8 454.3,870.1 455.2,867.3 456.1,864.5 457.0,861.6 457.9,858.7 458.8,855.8 459.7,852.8 460.6,849.9 461.5,846.9 462.4,843.9 463.4,840.9 464.3,838.0 465.2,835.0 466.1,832.1 467.0,829.3 467.9,826.5 468.8,823.8 469.7,821.1 470.6,818.5 471.5,815.9 472.4,813.5 473.3,811.1 474.2,808.8 475.1,806.6 476.0,804.5" fill="none" stroke="#1a1ad2" stroke-width="2.1"/>
<circle cx="351.4" cy="893.5" r="5.4" fill="#0000dc" stroke="#0000dc" stroke-width="0.6"/>
<circle cx="435.6" cy="910.3" r="5.4" fill="#0000dc" stroke="#0000dc" stroke-width="0.6"/>
<circle cx="443" cy="896.8" r="5.4" fill="#0000dc" stroke="#0000dc" stroke-width="0.6"/>
<circle cx="450.3" cy="881.5" r="5.4" fill="#0000dc" stroke="#0000dc" stroke-width="0.6"/>
<circle cx="455.6" cy="866.8" r="5.4" fill="#0000dc" stroke="#0000dc" stroke-width="0.6"/>
<circle cx="459.1" cy="854.1" r="5.4" fill="#0000dc" stroke="#0000dc" stroke-width="0.6"/>
<path d="M334.2,956.6 q-0.9,4.6 -0.2,9.2" fill="none" stroke="#6a5a50" stroke-width="1.0"/>
<line x1="537.40" y1="803.50" x2="537.40" y2="940.50" stroke="#000" stroke-width="1.7"/>
<line x1="533.80" y1="804.20" x2="537.40" y2="804.20" stroke="#000" stroke-width="1.5"/>
<line x1="531.20" y1="822.62" x2="537.40" y2="822.62" stroke="#000" stroke-width="1.5"/>
<line x1="533.80" y1="841.04" x2="537.40" y2="841.04" stroke="#000" stroke-width="1.5"/>
<line x1="533.80" y1="859.46" x2="537.40" y2="859.46" stroke="#000" stroke-width="1.5"/>
<line x1="533.80" y1="877.88" x2="537.40" y2="877.88" stroke="#000" stroke-width="1.5"/>
<line x1="533.80" y1="896.30" x2="537.40" y2="896.30" stroke="#000" stroke-width="1.5"/>
<line x1="531.20" y1="914.72" x2="537.40" y2="914.72" stroke="#000" stroke-width="1.5"/>
<line x1="533.80" y1="933.14" x2="537.40" y2="933.14" stroke="#000" stroke-width="1.5"/>
<text x="527.80" y="828.32" font-size="16" text-anchor="end">-0.5</text>
<text x="527.80" y="920.42" font-size="16" text-anchor="end">-1.0</text>
<line x1="557.40" y1="801.20" x2="557.40" y2="947.00" stroke="#000" stroke-width="2.5" stroke-dasharray="4.3 5.0"/>
<line x1="545.30" y1="943.00" x2="545.30" y2="947.80" stroke="#000" stroke-width="1.8"/>
<text x="546.70" y="968.80" font-size="18.3" text-anchor="middle">0</text>
<line x1="561.80" y1="940.00" x2="673.40" y2="940.00" stroke="#000" stroke-width="1.7"/>
<line x1="570.60" y1="940.00" x2="570.60" y2="948.20" stroke="#000" stroke-width="1.6"/>
<line x1="596.25" y1="940.00" x2="596.25" y2="948.20" stroke="#000" stroke-width="1.6"/>
<line x1="621.90" y1="940.00" x2="621.90" y2="948.20" stroke="#000" stroke-width="1.6"/>
<line x1="647.55" y1="940.00" x2="647.55" y2="948.20" stroke="#000" stroke-width="1.6"/>
<line x1="673.20" y1="940.00" x2="673.20" y2="948.20" stroke="#000" stroke-width="1.6"/>
<text x="622.00" y="968.80" font-size="18.3" text-anchor="middle">10</text>
<polyline points="562.5,914.7 563.4,914.7 564.4,914.7 565.3,914.7 566.2,914.7 567.1,914.7 568.1,914.7 569.0,914.7 569.9,914.7 570.8,914.7 571.8,914.7 572.7,914.7 573.6,914.7 574.5,914.7 575.5,914.7 576.4,914.7 577.3,914.7 578.3,914.7 579.2,914.7 580.1,914.6 581.0,914.6 582.0,914.6 582.9,914.6 583.8,914.6 584.7,914.6 585.7,914.5 586.6,914.5 587.5,914.5 588.5,914.5 589.4,914.4 590.3,914.4 591.2,914.3 592.2,914.3 593.1,914.2 594.0,914.2 594.9,914.1 595.9,914.0 596.8,913.9 597.7,913.8 598.6,913.7 599.6,913.6 600.5,913.5 601.4,913.3 602.4,913.1 603.3,912.9 604.2,912.7 605.1,912.5 606.1,912.2 607.0,911.9 607.9,911.6 608.8,911.2 609.8,910.8 610.7,910.3 611.6,909.8 612.6,909.2 613.5,908.6 614.4,907.9 615.3,907.1 616.3,906.2 617.2,905.3 618.1,904.2 619.0,903.1 620.0,901.8 620.9,900.5 621.8,899.0 622.7,897.4 623.7,895.7 624.6,893.9 625.5,891.9 626.5,889.8 627.4,887.6 628.3,885.3 629.2,882.8 630.2,880.3 631.1,877.7 632.0,875.0 632.9,872.3 633.9,869.5 634.8,866.7 635.7,863.9 636.7,861.1 637.6,858.4 638.5,855.7 639.4,853.1 640.4,850.5 641.3,848.1 642.2,845.8 643.1,843.6 644.1,841.5 645.0,839.5 645.9,837.7 646.8,836.0 647.8,834.4 648.7,832.9 649.6,831.6 650.6,830.3 651.5,829.2 652.4,828.1 653.3,827.2 654.3,826.3 655.2,825.5 656.1,824.8 657.0,824.2 658.0,823.6 658.9,823.1 659.8,822.6 660.8,822.2 661.7,821.9 662.6,821.5 663.5,821.2 664.5,820.9 665.4,820.7 666.3,820.5 667.2,820.3 668.2,820.1 669.1,820.0 670.0,819.8 670.9,819.7 671.9,819.6 672.8,819.5" fill="none" stroke="#18eea8" stroke-width="2.1"/>
<circle cx="545.3" cy="914.7" r="5.4" fill="#00fbee" stroke="#3cf08a" stroke-width="0.6"/>
<circle cx="629.4" cy="883" r="5.4" fill="#00fbee" stroke="#3cf08a" stroke-width="0.6"/>
<circle cx="637.4" cy="863" r="5.4" fill="#00fbee" stroke="#3cf08a" stroke-width="0.6"/>
<circle cx="644.7" cy="838" r="5.4" fill="#00fbee" stroke="#3cf08a" stroke-width="0.6"/>
<circle cx="649" cy="833" r="5.4" fill="#00fbee" stroke="#3cf08a" stroke-width="0.6"/>
<circle cx="653" cy="829.4" r="5.4" fill="#00fbee" stroke="#3cf08a" stroke-width="0.6"/>
<path d="M528.3,956.6 q-0.9,4.6 -0.2,9.2" fill="none" stroke="#6a5a50" stroke-width="1.0"/>
<text transform="translate(93.2,917) rotate(-90)" font-size="21.5">ΔF/F (%)</text>
<text x="101.30" y="994.10" font-size="21.5">Concentration (mM)</text>
<line x1="115.00" y1="1064.40" x2="115.00" y2="1194.50" stroke="#000" stroke-width="2"/>
<line x1="107.00" y1="1065.20" x2="115.00" y2="1065.20" stroke="#000" stroke-width="1.9"/>
<line x1="107.00" y1="1105.60" x2="115.00" y2="1105.60" stroke="#000" stroke-width="1.9"/>
<line x1="107.00" y1="1145.80" x2="115.00" y2="1145.80" stroke="#000" stroke-width="1.9"/>
<line x1="107.00" y1="1186.90" x2="115.00" y2="1186.90" stroke="#000" stroke-width="1.9"/>
<line x1="107.00" y1="1186.90" x2="522.50" y2="1186.90" stroke="#000" stroke-width="2"/>
<line x1="115.00" y1="1186.90" x2="115.00" y2="1194.30" stroke="#000" stroke-width="1.9"/>
<text x="115.00" y="1219.20" font-size="20.5" text-anchor="middle">0</text>
<line x1="196.20" y1="1186.90" x2="196.20" y2="1194.30" stroke="#000" stroke-width="1.9"/>
<text x="196.20" y="1219.20" font-size="20.5" text-anchor="middle">100</text>
<line x1="277.40" y1="1186.90" x2="277.40" y2="1194.30" stroke="#000" stroke-width="1.9"/>
<text x="277.40" y="1219.20" font-size="20.5" text-anchor="middle">200</text>
<line x1="358.60" y1="1186.90" x2="358.60" y2="1194.30" stroke="#000" stroke-width="1.9"/>
<text x="358.60" y="1219.20" font-size="20.5" text-anchor="middle">300</text>
<line x1="439.80" y1="1186.90" x2="439.80" y2="1194.30" stroke="#000" stroke-width="1.9"/>
<text x="439.80" y="1219.20" font-size="20.5" text-anchor="middle">400</text>
<line x1="521.00" y1="1186.90" x2="521.00" y2="1194.30" stroke="#000" stroke-width="1.9"/>
<text x="521.00" y="1219.20" font-size="20.5" text-anchor="middle">500</text>
<text x="200.00" y="1248.00" font-size="26.3">apparent Kd (mM)</text>
<rect x="116" y="1072.7" width="185.0" height="24.8" fill="#d6d6d6" stroke="#000" stroke-width="2"/>
<rect x="116" y="1114.2" width="52.6" height="24.2" fill="#d6d6d6" stroke="#000" stroke-width="2"/>
<rect x="116" y="1154.1" width="21.7" height="25.6" fill="#d6d6d6" stroke="#000" stroke-width="2"/>
<line x1="138.70" y1="1085.00" x2="465.70" y2="1085.00" stroke="#000" stroke-width="1.8"/>
<line x1="138.70" y1="1081.20" x2="138.70" y2="1089.20" stroke="#000" stroke-width="1.8"/>
<line x1="465.70" y1="1081.20" x2="465.70" y2="1089.20" stroke="#000" stroke-width="1.8"/>
<circle cx="145.4" cy="1085" r="5.2" fill="#000"/>
<circle cx="190.3" cy="1085" r="5.2" fill="#000"/>
<circle cx="225.3" cy="1085" r="5.2" fill="#000"/>
<circle cx="431.4" cy="1085" r="5.2" fill="#000"/>
<circle cx="518.8" cy="1085" r="5.2" fill="#000"/>
<line x1="144.70" y1="1125.90" x2="193.80" y2="1125.90" stroke="#000" stroke-width="1.8"/>
<line x1="144.70" y1="1121.80" x2="144.70" y2="1130.00" stroke="#000" stroke-width="1.8"/>
<circle cx="133.6" cy="1125.9" r="5.2" fill="#000"/>
<circle cx="175.6" cy="1125.9" r="5.2" fill="#000"/>
<circle cx="179" cy="1125.9" r="5.2" fill="#000"/>
<circle cx="193.8" cy="1125.9" r="5.2" fill="#000"/>
<circle cx="130.4" cy="1166.4" r="5.2" fill="#000"/>
<circle cx="134.5" cy="1166.4" r="5.2" fill="#000"/>
<circle cx="138.5" cy="1166.4" r="5.2" fill="#000"/>
<circle cx="142.5" cy="1166.4" r="5.2" fill="#000"/>
<circle cx="146.5" cy="1166.4" r="5.2" fill="#000"/>
<circle cx="150.5" cy="1166.4" r="5.2" fill="#000"/>
<text x="49.00" y="1092.60" font-size="24">GLU</text>
<text x="49.90" y="1133.40" font-size="24">GAL</text>
<text x="49.00" y="1173.80" font-size="24">FRU</text>
<text transform="translate(531.50,1088.20) scale(1.09,1)" font-size="21.5">(5)</text>
<text transform="translate(217.50,1134.30) scale(1.06,1)" font-size="21.5">(4)</text>
<text transform="translate(171.20,1171.80) scale(1.05,1)" font-size="21.5">(6)</text>
<polyline points="568.3,1080.4 586.1,1080.4 586.1,1168.1 207,1168.1" fill="none" stroke="#000" stroke-width="1.9"/>
<text x="595.90" y="1133.80" font-size="25">*</text>
</svg>
</body></html>
